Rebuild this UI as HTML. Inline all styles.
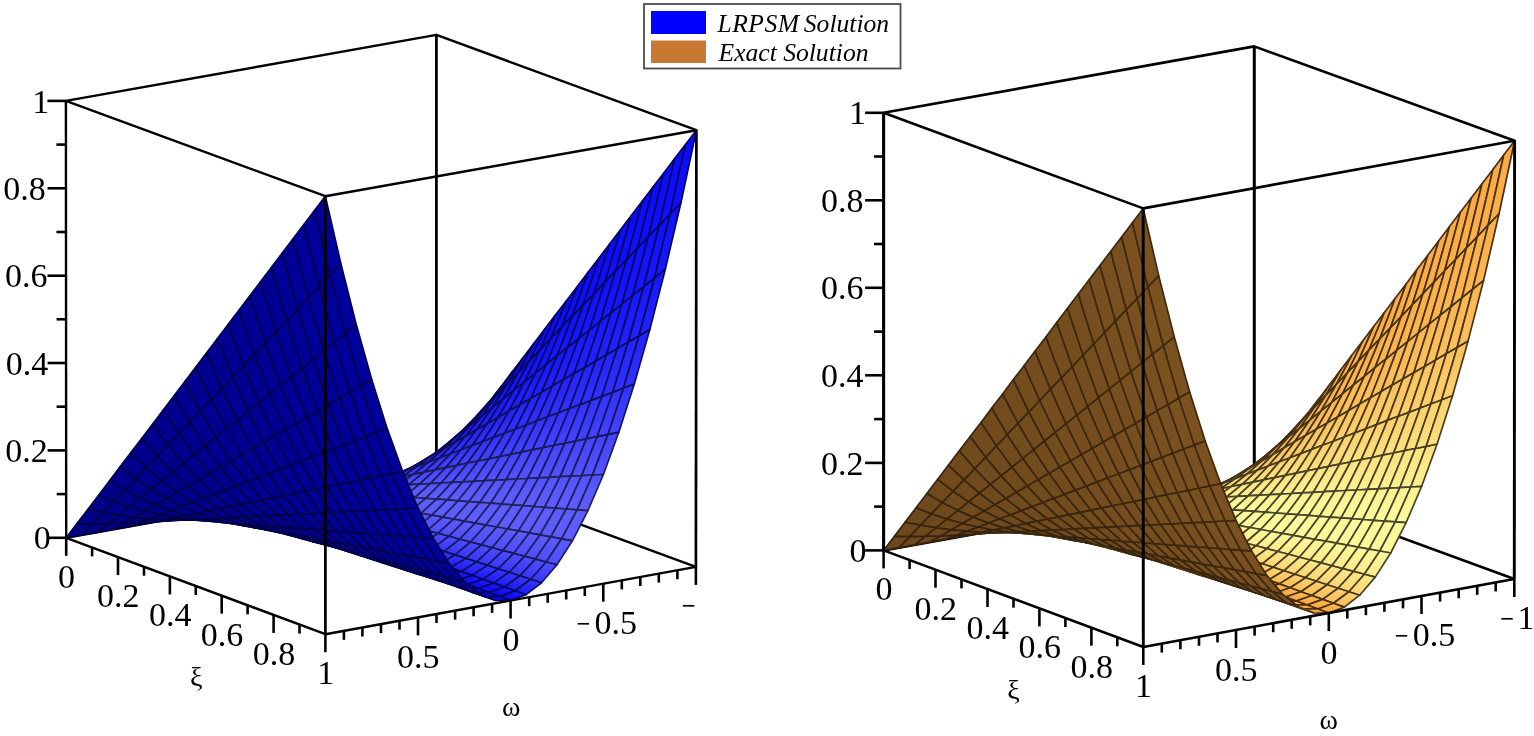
<!DOCTYPE html>
<html><head><meta charset="utf-8"><title>LRPSM vs Exact</title>
<style>
html,body{margin:0;padding:0;background:#fff}
svg{display:block;filter:blur(0.4px)}
.tk text{font-family:"Liberation Serif",serif;font-size:34px;fill:#000}
.ax{font-family:"Liberation Serif",serif;font-size:28px;fill:#000}
.lg{font-family:"Liberation Serif",serif;font-style:italic;font-size:25.6px;fill:#000}
</style></head><body>
<svg width="1534" height="736" viewBox="0 0 1534 736">
<defs><clipPath id="clipL"><rect x="0" y="0" width="696" height="736"/></clipPath></defs>
<rect width="1534" height="736" fill="#fff"/>
<g id="left">
<g stroke="#000" stroke-linecap="butt" fill="none">
<line x1="66.2" y1="537.8" x2="436.4" y2="471.5" stroke-width="2.4"/>
<line x1="436.4" y1="471.5" x2="695.9" y2="566.9" stroke-width="2.4"/>
<line x1="436.4" y1="471.5" x2="436.4" y2="34.9" stroke-width="2.8"/>
</g>
<g stroke-width="1.7" stroke-linejoin="round">
<defs><linearGradient id="a0" gradientUnits="userSpaceOnUse" x1="349.3" y1="487.8" x2="349.2" y2="491.4"><stop stop-color="#5353ff"/><stop offset="1" stop-color="#5e5eff"/></linearGradient><linearGradient id="a1" gradientUnits="userSpaceOnUse" x1="318.4" y1="494.6" x2="317.0" y2="500.9"><stop stop-color="#5c5cff"/><stop offset="1" stop-color="#4d4dff"/></linearGradient><linearGradient id="a2" gradientUnits="userSpaceOnUse" x1="303.0" y1="497.8" x2="300.9" y2="504.8"><stop stop-color="#4d4dff"/><stop offset="1" stop-color="#3636ff"/></linearGradient><linearGradient id="a3" gradientUnits="userSpaceOnUse" x1="287.6" y1="500.9" x2="285.1" y2="508.2"><stop stop-color="#3636ff"/><stop offset="1" stop-color="#1b1bff"/></linearGradient><linearGradient id="a4" gradientUnits="userSpaceOnUse" x1="272.1" y1="503.8" x2="269.4" y2="511.3"><stop stop-color="#1b1bff"/><stop offset="1" stop-color="#0606ff"/></linearGradient><linearGradient id="a5" gradientUnits="userSpaceOnUse" x1="375.5" y1="482.0" x2="375.9" y2="485.2"><stop stop-color="#4343ff"/><stop offset="1" stop-color="#5353ff"/></linearGradient><linearGradient id="a6" gradientUnits="userSpaceOnUse" x1="360.1" y1="487.2" x2="360.0" y2="492.3"><stop stop-color="#5353ff"/><stop offset="1" stop-color="#5e5eff"/></linearGradient><linearGradient id="a7" gradientUnits="userSpaceOnUse" x1="329.2" y1="496.6" x2="327.6" y2="503.7"><stop stop-color="#5c5cff"/><stop offset="1" stop-color="#4d4dff"/></linearGradient><linearGradient id="a8" gradientUnits="userSpaceOnUse" x1="313.8" y1="500.6" x2="311.6" y2="508.2"><stop stop-color="#4d4dff"/><stop offset="1" stop-color="#3636ff"/></linearGradient><linearGradient id="a9" gradientUnits="userSpaceOnUse" x1="298.4" y1="504.4" x2="295.7" y2="512.0"><stop stop-color="#3636ff"/><stop offset="1" stop-color="#1b1bff"/></linearGradient><linearGradient id="a10" gradientUnits="userSpaceOnUse" x1="282.9" y1="507.7" x2="280.2" y2="515.3"><stop stop-color="#1b1bff"/><stop offset="1" stop-color="#0606ff"/></linearGradient><linearGradient id="a11" gradientUnits="userSpaceOnUse" x1="401.7" y1="472.3" x2="402.5" y2="475.1"><stop stop-color="#3131ff"/><stop offset="1" stop-color="#4343ff"/></linearGradient><linearGradient id="a12" gradientUnits="userSpaceOnUse" x1="386.3" y1="479.8" x2="386.9" y2="484.6"><stop stop-color="#4343ff"/><stop offset="1" stop-color="#5353ff"/></linearGradient><linearGradient id="a13" gradientUnits="userSpaceOnUse" x1="370.9" y1="486.7" x2="370.8" y2="493.1"><stop stop-color="#5353ff"/><stop offset="1" stop-color="#5e5eff"/></linearGradient><linearGradient id="a14" gradientUnits="userSpaceOnUse" x1="340.0" y1="498.5" x2="338.2" y2="506.5"><stop stop-color="#5c5cff"/><stop offset="1" stop-color="#4d4dff"/></linearGradient><linearGradient id="a15" gradientUnits="userSpaceOnUse" x1="324.6" y1="503.5" x2="322.2" y2="511.7"><stop stop-color="#4d4dff"/><stop offset="1" stop-color="#3636ff"/></linearGradient><linearGradient id="a16" gradientUnits="userSpaceOnUse" x1="309.2" y1="507.8" x2="306.4" y2="515.9"><stop stop-color="#3636ff"/><stop offset="1" stop-color="#1b1bff"/></linearGradient><linearGradient id="a17" gradientUnits="userSpaceOnUse" x1="293.7" y1="511.6" x2="290.9" y2="519.2"><stop stop-color="#1b1bff"/><stop offset="1" stop-color="#0606ff"/></linearGradient><linearGradient id="a18" gradientUnits="userSpaceOnUse" x1="428.0" y1="457.9" x2="429.1" y2="460.3"><stop stop-color="#2222ff"/><stop offset="1" stop-color="#3131ff"/></linearGradient><linearGradient id="a19" gradientUnits="userSpaceOnUse" x1="412.5" y1="468.2" x2="413.9" y2="472.7"><stop stop-color="#3131ff"/><stop offset="1" stop-color="#4343ff"/></linearGradient><linearGradient id="a20" gradientUnits="userSpaceOnUse" x1="397.1" y1="477.6" x2="397.9" y2="484.0"><stop stop-color="#4343ff"/><stop offset="1" stop-color="#5353ff"/></linearGradient><linearGradient id="a21" gradientUnits="userSpaceOnUse" x1="381.7" y1="486.1" x2="381.6" y2="493.9"><stop stop-color="#5353ff"/><stop offset="1" stop-color="#5e5eff"/></linearGradient><linearGradient id="a22" gradientUnits="userSpaceOnUse" x1="350.8" y1="500.5" x2="348.9" y2="509.3"><stop stop-color="#5c5cff"/><stop offset="1" stop-color="#4d4dff"/></linearGradient><linearGradient id="a23" gradientUnits="userSpaceOnUse" x1="335.4" y1="506.3" x2="332.8" y2="515.1"><stop stop-color="#4d4dff"/><stop offset="1" stop-color="#3636ff"/></linearGradient><linearGradient id="a24" gradientUnits="userSpaceOnUse" x1="320.0" y1="511.3" x2="317.1" y2="519.7"><stop stop-color="#3636ff"/><stop offset="1" stop-color="#1b1bff"/></linearGradient><linearGradient id="a25" gradientUnits="userSpaceOnUse" x1="304.5" y1="515.4" x2="301.7" y2="523.2"><stop stop-color="#1b1bff"/><stop offset="1" stop-color="#0606ff"/></linearGradient><linearGradient id="a26" gradientUnits="userSpaceOnUse" x1="454.2" y1="438.1" x2="455.6" y2="440.1"><stop stop-color="#1717ff"/><stop offset="1" stop-color="#2222ff"/></linearGradient><linearGradient id="a27" gradientUnits="userSpaceOnUse" x1="438.8" y1="451.6" x2="440.7" y2="455.7"><stop stop-color="#2222ff"/><stop offset="1" stop-color="#3131ff"/></linearGradient><linearGradient id="a28" gradientUnits="userSpaceOnUse" x1="423.3" y1="464.1" x2="425.2" y2="470.3"><stop stop-color="#3131ff"/><stop offset="1" stop-color="#4343ff"/></linearGradient><linearGradient id="a29" gradientUnits="userSpaceOnUse" x1="407.9" y1="475.4" x2="409.0" y2="483.4"><stop stop-color="#4343ff"/><stop offset="1" stop-color="#5353ff"/></linearGradient><linearGradient id="a30" gradientUnits="userSpaceOnUse" x1="392.5" y1="485.5" x2="392.4" y2="494.7"><stop stop-color="#5353ff"/><stop offset="1" stop-color="#5e5eff"/></linearGradient><linearGradient id="a31" gradientUnits="userSpaceOnUse" x1="361.6" y1="502.5" x2="359.5" y2="512.2"><stop stop-color="#5c5cff"/><stop offset="1" stop-color="#4d4dff"/></linearGradient><linearGradient id="a32" gradientUnits="userSpaceOnUse" x1="346.2" y1="509.2" x2="343.5" y2="518.5"><stop stop-color="#4d4dff"/><stop offset="1" stop-color="#3636ff"/></linearGradient><linearGradient id="a33" gradientUnits="userSpaceOnUse" x1="330.8" y1="514.8" x2="327.8" y2="523.5"><stop stop-color="#3636ff"/><stop offset="1" stop-color="#1b1bff"/></linearGradient><linearGradient id="a34" gradientUnits="userSpaceOnUse" x1="315.4" y1="519.3" x2="312.5" y2="527.2"><stop stop-color="#1b1bff"/><stop offset="1" stop-color="#0606ff"/></linearGradient><linearGradient id="a35" gradientUnits="userSpaceOnUse" x1="480.5" y1="412.1" x2="482.0" y2="413.7"><stop stop-color="#1010ff"/><stop offset="1" stop-color="#1717ff"/></linearGradient><linearGradient id="a36" gradientUnits="userSpaceOnUse" x1="465.0" y1="429.4" x2="467.5" y2="433.0"><stop stop-color="#1717ff"/><stop offset="1" stop-color="#2222ff"/></linearGradient><linearGradient id="a37" gradientUnits="userSpaceOnUse" x1="449.6" y1="445.4" x2="452.4" y2="451.2"><stop stop-color="#2222ff"/><stop offset="1" stop-color="#3131ff"/></linearGradient><linearGradient id="a38" gradientUnits="userSpaceOnUse" x1="434.2" y1="460.0" x2="436.5" y2="468.0"><stop stop-color="#3131ff"/><stop offset="1" stop-color="#4343ff"/></linearGradient><linearGradient id="a39" gradientUnits="userSpaceOnUse" x1="418.7" y1="473.2" x2="420.0" y2="482.8"><stop stop-color="#4343ff"/><stop offset="1" stop-color="#5353ff"/></linearGradient><linearGradient id="a40" gradientUnits="userSpaceOnUse" x1="403.3" y1="485.0" x2="403.2" y2="495.6"><stop stop-color="#5353ff"/><stop offset="1" stop-color="#5e5eff"/></linearGradient><linearGradient id="a41" gradientUnits="userSpaceOnUse" x1="372.4" y1="504.4" x2="370.1" y2="515.0"><stop stop-color="#5c5cff"/><stop offset="1" stop-color="#4d4dff"/></linearGradient><linearGradient id="a42" gradientUnits="userSpaceOnUse" x1="357.0" y1="512.1" x2="354.1" y2="522.0"><stop stop-color="#4d4dff"/><stop offset="1" stop-color="#3636ff"/></linearGradient><linearGradient id="a43" gradientUnits="userSpaceOnUse" x1="341.6" y1="518.3" x2="338.5" y2="527.4"><stop stop-color="#3636ff"/><stop offset="1" stop-color="#1b1bff"/></linearGradient><linearGradient id="a44" gradientUnits="userSpaceOnUse" x1="326.2" y1="523.2" x2="323.2" y2="531.2"><stop stop-color="#1b1bff"/><stop offset="1" stop-color="#0606ff"/></linearGradient><linearGradient id="a45" gradientUnits="userSpaceOnUse" x1="506.7" y1="379.1" x2="508.4" y2="380.5"><stop stop-color="#0a0aff"/><stop offset="1" stop-color="#1010ff"/></linearGradient><linearGradient id="a46" gradientUnits="userSpaceOnUse" x1="491.3" y1="400.7" x2="494.2" y2="403.9"><stop stop-color="#1010ff"/><stop offset="1" stop-color="#1717ff"/></linearGradient><linearGradient id="a47" gradientUnits="userSpaceOnUse" x1="475.8" y1="420.8" x2="479.5" y2="426.0"><stop stop-color="#1717ff"/><stop offset="1" stop-color="#2222ff"/></linearGradient><linearGradient id="a48" gradientUnits="userSpaceOnUse" x1="460.4" y1="439.1" x2="464.0" y2="446.7"><stop stop-color="#2222ff"/><stop offset="1" stop-color="#3131ff"/></linearGradient><linearGradient id="a49" gradientUnits="userSpaceOnUse" x1="445.0" y1="455.9" x2="447.8" y2="465.6"><stop stop-color="#3131ff"/><stop offset="1" stop-color="#4343ff"/></linearGradient><linearGradient id="a50" gradientUnits="userSpaceOnUse" x1="429.5" y1="471.0" x2="431.0" y2="482.2"><stop stop-color="#4343ff"/><stop offset="1" stop-color="#5353ff"/></linearGradient><linearGradient id="a51" gradientUnits="userSpaceOnUse" x1="414.1" y1="484.4" x2="414.0" y2="496.4"><stop stop-color="#5353ff"/><stop offset="1" stop-color="#5e5eff"/></linearGradient><linearGradient id="a52" gradientUnits="userSpaceOnUse" x1="383.3" y1="506.4" x2="380.7" y2="517.8"><stop stop-color="#5c5cff"/><stop offset="1" stop-color="#4d4dff"/></linearGradient><linearGradient id="a53" gradientUnits="userSpaceOnUse" x1="367.8" y1="514.9" x2="364.7" y2="525.4"><stop stop-color="#4d4dff"/><stop offset="1" stop-color="#3636ff"/></linearGradient><linearGradient id="a54" gradientUnits="userSpaceOnUse" x1="352.4" y1="521.8" x2="349.2" y2="531.2"><stop stop-color="#3636ff"/><stop offset="1" stop-color="#1b1bff"/></linearGradient><linearGradient id="a55" gradientUnits="userSpaceOnUse" x1="337.0" y1="527.0" x2="334.0" y2="535.2"><stop stop-color="#1b1bff"/><stop offset="1" stop-color="#0606ff"/></linearGradient><linearGradient id="a56" gradientUnits="userSpaceOnUse" x1="517.5" y1="364.9" x2="520.7" y2="367.5"><stop stop-color="#0a0aff"/><stop offset="1" stop-color="#1010ff"/></linearGradient><linearGradient id="a57" gradientUnits="userSpaceOnUse" x1="502.1" y1="389.4" x2="506.3" y2="394.0"><stop stop-color="#1010ff"/><stop offset="1" stop-color="#1717ff"/></linearGradient><linearGradient id="a58" gradientUnits="userSpaceOnUse" x1="486.7" y1="412.1" x2="491.4" y2="419.0"><stop stop-color="#1717ff"/><stop offset="1" stop-color="#2222ff"/></linearGradient><linearGradient id="a59" gradientUnits="userSpaceOnUse" x1="471.2" y1="432.9" x2="475.7" y2="442.2"><stop stop-color="#2222ff"/><stop offset="1" stop-color="#3131ff"/></linearGradient><linearGradient id="a60" gradientUnits="userSpaceOnUse" x1="455.8" y1="451.8" x2="459.1" y2="463.3"><stop stop-color="#3131ff"/><stop offset="1" stop-color="#4343ff"/></linearGradient><linearGradient id="a61" gradientUnits="userSpaceOnUse" x1="440.4" y1="468.7" x2="442.0" y2="481.6"><stop stop-color="#4343ff"/><stop offset="1" stop-color="#5353ff"/></linearGradient><linearGradient id="a62" gradientUnits="userSpaceOnUse" x1="424.9" y1="483.8" x2="424.8" y2="497.2"><stop stop-color="#5353ff"/><stop offset="1" stop-color="#5e5eff"/></linearGradient><linearGradient id="a63" gradientUnits="userSpaceOnUse" x1="394.1" y1="508.3" x2="391.3" y2="520.6"><stop stop-color="#5c5cff"/><stop offset="1" stop-color="#4d4dff"/></linearGradient><linearGradient id="a64" gradientUnits="userSpaceOnUse" x1="378.6" y1="517.8" x2="375.4" y2="528.8"><stop stop-color="#4d4dff"/><stop offset="1" stop-color="#3636ff"/></linearGradient><linearGradient id="a65" gradientUnits="userSpaceOnUse" x1="363.2" y1="525.3" x2="359.9" y2="535.0"><stop stop-color="#3636ff"/><stop offset="1" stop-color="#1b1bff"/></linearGradient><linearGradient id="a66" gradientUnits="userSpaceOnUse" x1="347.8" y1="530.9" x2="344.8" y2="539.1"><stop stop-color="#1b1bff"/><stop offset="1" stop-color="#0606ff"/></linearGradient><linearGradient id="a67" gradientUnits="userSpaceOnUse" x1="528.4" y1="350.6" x2="532.9" y2="354.5"><stop stop-color="#0a0aff"/><stop offset="1" stop-color="#1010ff"/></linearGradient><linearGradient id="a68" gradientUnits="userSpaceOnUse" x1="512.9" y1="378.1" x2="518.4" y2="384.1"><stop stop-color="#1010ff"/><stop offset="1" stop-color="#1717ff"/></linearGradient><linearGradient id="a69" gradientUnits="userSpaceOnUse" x1="497.5" y1="403.4" x2="503.3" y2="411.9"><stop stop-color="#1717ff"/><stop offset="1" stop-color="#2222ff"/></linearGradient><linearGradient id="a70" gradientUnits="userSpaceOnUse" x1="482.0" y1="426.6" x2="487.4" y2="437.7"><stop stop-color="#2222ff"/><stop offset="1" stop-color="#3131ff"/></linearGradient><linearGradient id="a71" gradientUnits="userSpaceOnUse" x1="466.6" y1="447.6" x2="470.5" y2="460.9"><stop stop-color="#3131ff"/><stop offset="1" stop-color="#4343ff"/></linearGradient><linearGradient id="a72" gradientUnits="userSpaceOnUse" x1="451.2" y1="466.5" x2="453.0" y2="481.1"><stop stop-color="#4343ff"/><stop offset="1" stop-color="#5353ff"/></linearGradient><linearGradient id="a73" gradientUnits="userSpaceOnUse" x1="435.7" y1="483.3" x2="435.6" y2="498.1"><stop stop-color="#5353ff"/><stop offset="1" stop-color="#5e5eff"/></linearGradient><linearGradient id="a74" gradientUnits="userSpaceOnUse" x1="404.9" y1="510.3" x2="402.0" y2="523.4"><stop stop-color="#5c5cff"/><stop offset="1" stop-color="#4d4dff"/></linearGradient><linearGradient id="a75" gradientUnits="userSpaceOnUse" x1="389.4" y1="520.6" x2="386.0" y2="532.3"><stop stop-color="#4d4dff"/><stop offset="1" stop-color="#3636ff"/></linearGradient><linearGradient id="a76" gradientUnits="userSpaceOnUse" x1="374.0" y1="528.8" x2="370.6" y2="538.8"><stop stop-color="#3636ff"/><stop offset="1" stop-color="#1b1bff"/></linearGradient><linearGradient id="a77" gradientUnits="userSpaceOnUse" x1="358.6" y1="534.8" x2="355.5" y2="543.1"><stop stop-color="#1b1bff"/><stop offset="1" stop-color="#0606ff"/></linearGradient><linearGradient id="a78" gradientUnits="userSpaceOnUse" x1="539.2" y1="336.4" x2="545.2" y2="341.5"><stop stop-color="#0a0aff"/><stop offset="1" stop-color="#1010ff"/></linearGradient><linearGradient id="a79" gradientUnits="userSpaceOnUse" x1="523.7" y1="366.8" x2="530.6" y2="374.2"><stop stop-color="#1010ff"/><stop offset="1" stop-color="#1717ff"/></linearGradient><linearGradient id="a80" gradientUnits="userSpaceOnUse" x1="508.3" y1="394.8" x2="515.3" y2="404.9"><stop stop-color="#1717ff"/><stop offset="1" stop-color="#2222ff"/></linearGradient><linearGradient id="a81" gradientUnits="userSpaceOnUse" x1="492.9" y1="420.4" x2="499.0" y2="433.2"><stop stop-color="#2222ff"/><stop offset="1" stop-color="#3131ff"/></linearGradient><linearGradient id="a82" gradientUnits="userSpaceOnUse" x1="477.4" y1="443.5" x2="481.8" y2="458.5"><stop stop-color="#3131ff"/><stop offset="1" stop-color="#4343ff"/></linearGradient><linearGradient id="a83" gradientUnits="userSpaceOnUse" x1="462.0" y1="464.3" x2="464.1" y2="480.5"><stop stop-color="#4343ff"/><stop offset="1" stop-color="#5353ff"/></linearGradient><linearGradient id="a84" gradientUnits="userSpaceOnUse" x1="446.5" y1="482.7" x2="446.4" y2="498.9"><stop stop-color="#5353ff"/><stop offset="1" stop-color="#5e5eff"/></linearGradient><linearGradient id="a85" gradientUnits="userSpaceOnUse" x1="415.7" y1="512.3" x2="412.6" y2="526.2"><stop stop-color="#5c5cff"/><stop offset="1" stop-color="#4d4dff"/></linearGradient><linearGradient id="a86" gradientUnits="userSpaceOnUse" x1="400.3" y1="523.5" x2="396.7" y2="535.7"><stop stop-color="#4d4dff"/><stop offset="1" stop-color="#3636ff"/></linearGradient><linearGradient id="a87" gradientUnits="userSpaceOnUse" x1="384.8" y1="532.2" x2="381.3" y2="542.7"><stop stop-color="#3636ff"/><stop offset="1" stop-color="#1b1bff"/></linearGradient><linearGradient id="a88" gradientUnits="userSpaceOnUse" x1="369.4" y1="538.6" x2="366.3" y2="547.1"><stop stop-color="#1b1bff"/><stop offset="1" stop-color="#0606ff"/></linearGradient><linearGradient id="a89" gradientUnits="userSpaceOnUse" x1="550.0" y1="322.2" x2="557.5" y2="328.5"><stop stop-color="#0a0aff"/><stop offset="1" stop-color="#1010ff"/></linearGradient><linearGradient id="a90" gradientUnits="userSpaceOnUse" x1="534.6" y1="355.5" x2="542.7" y2="364.3"><stop stop-color="#1010ff"/><stop offset="1" stop-color="#1717ff"/></linearGradient><linearGradient id="a91" gradientUnits="userSpaceOnUse" x1="519.1" y1="386.1" x2="527.2" y2="397.9"><stop stop-color="#1717ff"/><stop offset="1" stop-color="#2222ff"/></linearGradient><linearGradient id="a92" gradientUnits="userSpaceOnUse" x1="503.7" y1="414.1" x2="510.7" y2="428.7"><stop stop-color="#2222ff"/><stop offset="1" stop-color="#3131ff"/></linearGradient><linearGradient id="a93" gradientUnits="userSpaceOnUse" x1="488.2" y1="439.4" x2="493.1" y2="456.2"><stop stop-color="#3131ff"/><stop offset="1" stop-color="#4343ff"/></linearGradient><linearGradient id="a94" gradientUnits="userSpaceOnUse" x1="472.8" y1="462.1" x2="475.1" y2="479.9"><stop stop-color="#4343ff"/><stop offset="1" stop-color="#5353ff"/></linearGradient><linearGradient id="a95" gradientUnits="userSpaceOnUse" x1="457.4" y1="482.1" x2="457.2" y2="499.7"><stop stop-color="#5353ff"/><stop offset="1" stop-color="#5e5eff"/></linearGradient><linearGradient id="a96" gradientUnits="userSpaceOnUse" x1="426.5" y1="514.2" x2="423.2" y2="529.0"><stop stop-color="#5c5cff"/><stop offset="1" stop-color="#4d4dff"/></linearGradient><linearGradient id="a97" gradientUnits="userSpaceOnUse" x1="411.1" y1="526.3" x2="407.3" y2="539.2"><stop stop-color="#4d4dff"/><stop offset="1" stop-color="#3636ff"/></linearGradient><linearGradient id="a98" gradientUnits="userSpaceOnUse" x1="395.6" y1="535.7" x2="392.0" y2="546.5"><stop stop-color="#3636ff"/><stop offset="1" stop-color="#1b1bff"/></linearGradient><linearGradient id="a99" gradientUnits="userSpaceOnUse" x1="380.2" y1="542.5" x2="377.1" y2="551.1"><stop stop-color="#1b1bff"/><stop offset="1" stop-color="#0606ff"/></linearGradient><linearGradient id="a100" gradientUnits="userSpaceOnUse" x1="560.9" y1="308.0" x2="569.7" y2="315.5"><stop stop-color="#0a0aff"/><stop offset="1" stop-color="#1010ff"/></linearGradient><linearGradient id="a101" gradientUnits="userSpaceOnUse" x1="545.4" y1="344.2" x2="554.9" y2="354.5"><stop stop-color="#1010ff"/><stop offset="1" stop-color="#1717ff"/></linearGradient><linearGradient id="a102" gradientUnits="userSpaceOnUse" x1="529.9" y1="377.5" x2="539.2" y2="390.8"><stop stop-color="#1717ff"/><stop offset="1" stop-color="#2222ff"/></linearGradient><linearGradient id="a103" gradientUnits="userSpaceOnUse" x1="514.5" y1="407.8" x2="522.3" y2="424.2"><stop stop-color="#2222ff"/><stop offset="1" stop-color="#3131ff"/></linearGradient><linearGradient id="a104" gradientUnits="userSpaceOnUse" x1="499.1" y1="435.3" x2="504.5" y2="453.8"><stop stop-color="#3131ff"/><stop offset="1" stop-color="#4343ff"/></linearGradient><linearGradient id="a105" gradientUnits="userSpaceOnUse" x1="483.6" y1="459.9" x2="486.1" y2="479.3"><stop stop-color="#4343ff"/><stop offset="1" stop-color="#5353ff"/></linearGradient><linearGradient id="a106" gradientUnits="userSpaceOnUse" x1="468.2" y1="481.6" x2="467.9" y2="500.5"><stop stop-color="#5353ff"/><stop offset="1" stop-color="#5e5eff"/></linearGradient><linearGradient id="a107" gradientUnits="userSpaceOnUse" x1="437.3" y1="516.2" x2="433.8" y2="531.8"><stop stop-color="#5c5cff"/><stop offset="1" stop-color="#4d4dff"/></linearGradient><linearGradient id="a108" gradientUnits="userSpaceOnUse" x1="421.9" y1="529.2" x2="417.9" y2="542.6"><stop stop-color="#4d4dff"/><stop offset="1" stop-color="#3636ff"/></linearGradient><linearGradient id="a109" gradientUnits="userSpaceOnUse" x1="406.4" y1="539.2" x2="402.7" y2="550.3"><stop stop-color="#3636ff"/><stop offset="1" stop-color="#1b1bff"/></linearGradient><linearGradient id="a110" gradientUnits="userSpaceOnUse" x1="391.0" y1="546.4" x2="387.8" y2="555.1"><stop stop-color="#1b1bff"/><stop offset="1" stop-color="#0606ff"/></linearGradient><linearGradient id="a111" gradientUnits="userSpaceOnUse" x1="571.7" y1="293.8" x2="582.0" y2="302.5"><stop stop-color="#0a0aff"/><stop offset="1" stop-color="#1010ff"/></linearGradient><linearGradient id="a112" gradientUnits="userSpaceOnUse" x1="556.2" y1="332.9" x2="567.0" y2="344.6"><stop stop-color="#1010ff"/><stop offset="1" stop-color="#1717ff"/></linearGradient><linearGradient id="a113" gradientUnits="userSpaceOnUse" x1="540.8" y1="368.8" x2="551.1" y2="383.8"><stop stop-color="#1717ff"/><stop offset="1" stop-color="#2222ff"/></linearGradient><linearGradient id="a114" gradientUnits="userSpaceOnUse" x1="525.3" y1="401.6" x2="534.0" y2="419.7"><stop stop-color="#2222ff"/><stop offset="1" stop-color="#3131ff"/></linearGradient><linearGradient id="a115" gradientUnits="userSpaceOnUse" x1="509.9" y1="431.2" x2="515.8" y2="451.5"><stop stop-color="#3131ff"/><stop offset="1" stop-color="#4343ff"/></linearGradient><linearGradient id="a116" gradientUnits="userSpaceOnUse" x1="494.4" y1="457.7" x2="497.1" y2="478.7"><stop stop-color="#4343ff"/><stop offset="1" stop-color="#5353ff"/></linearGradient><linearGradient id="a117" gradientUnits="userSpaceOnUse" x1="479.0" y1="481.0" x2="478.7" y2="501.4"><stop stop-color="#5353ff"/><stop offset="1" stop-color="#5e5eff"/></linearGradient><linearGradient id="a118" gradientUnits="userSpaceOnUse" x1="448.1" y1="518.2" x2="444.4" y2="534.6"><stop stop-color="#5c5cff"/><stop offset="1" stop-color="#4d4dff"/></linearGradient><linearGradient id="a119" gradientUnits="userSpaceOnUse" x1="432.7" y1="532.0" x2="428.6" y2="546.0"><stop stop-color="#4d4dff"/><stop offset="1" stop-color="#3636ff"/></linearGradient><linearGradient id="a120" gradientUnits="userSpaceOnUse" x1="417.2" y1="542.7" x2="413.3" y2="554.2"><stop stop-color="#3636ff"/><stop offset="1" stop-color="#1b1bff"/></linearGradient><linearGradient id="a121" gradientUnits="userSpaceOnUse" x1="401.8" y1="550.2" x2="398.6" y2="559.0"><stop stop-color="#1b1bff"/><stop offset="1" stop-color="#0606ff"/></linearGradient><linearGradient id="a122" gradientUnits="userSpaceOnUse" x1="582.5" y1="279.5" x2="594.3" y2="289.5"><stop stop-color="#0a0aff"/><stop offset="1" stop-color="#1010ff"/></linearGradient><linearGradient id="a123" gradientUnits="userSpaceOnUse" x1="567.1" y1="321.5" x2="579.2" y2="334.7"><stop stop-color="#1010ff"/><stop offset="1" stop-color="#1717ff"/></linearGradient><linearGradient id="a124" gradientUnits="userSpaceOnUse" x1="551.6" y1="360.1" x2="563.1" y2="376.8"><stop stop-color="#1717ff"/><stop offset="1" stop-color="#2222ff"/></linearGradient><linearGradient id="a125" gradientUnits="userSpaceOnUse" x1="536.1" y1="395.3" x2="545.6" y2="415.2"><stop stop-color="#2222ff"/><stop offset="1" stop-color="#3131ff"/></linearGradient><linearGradient id="a126" gradientUnits="userSpaceOnUse" x1="520.7" y1="427.1" x2="527.1" y2="449.1"><stop stop-color="#3131ff"/><stop offset="1" stop-color="#4343ff"/></linearGradient><linearGradient id="a127" gradientUnits="userSpaceOnUse" x1="505.2" y1="455.5" x2="508.1" y2="478.1"><stop stop-color="#4343ff"/><stop offset="1" stop-color="#5353ff"/></linearGradient><linearGradient id="a128" gradientUnits="userSpaceOnUse" x1="489.8" y1="480.4" x2="489.5" y2="502.2"><stop stop-color="#5353ff"/><stop offset="1" stop-color="#5e5eff"/></linearGradient><linearGradient id="a129" gradientUnits="userSpaceOnUse" x1="458.9" y1="520.1" x2="455.1" y2="537.5"><stop stop-color="#5c5cff"/><stop offset="1" stop-color="#4d4dff"/></linearGradient><linearGradient id="a130" gradientUnits="userSpaceOnUse" x1="443.5" y1="534.9" x2="439.2" y2="549.5"><stop stop-color="#4d4dff"/><stop offset="1" stop-color="#3636ff"/></linearGradient><linearGradient id="a131" gradientUnits="userSpaceOnUse" x1="428.0" y1="546.2" x2="424.0" y2="558.0"><stop stop-color="#3636ff"/><stop offset="1" stop-color="#1b1bff"/></linearGradient><linearGradient id="a132" gradientUnits="userSpaceOnUse" x1="412.6" y1="554.1" x2="409.4" y2="563.0"><stop stop-color="#1b1bff"/><stop offset="1" stop-color="#0606ff"/></linearGradient><linearGradient id="a133" gradientUnits="userSpaceOnUse" x1="593.4" y1="265.3" x2="606.5" y2="276.5"><stop stop-color="#0a0aff"/><stop offset="1" stop-color="#1010ff"/></linearGradient><linearGradient id="a134" gradientUnits="userSpaceOnUse" x1="577.9" y1="310.2" x2="591.3" y2="324.8"><stop stop-color="#1010ff"/><stop offset="1" stop-color="#1717ff"/></linearGradient><linearGradient id="a135" gradientUnits="userSpaceOnUse" x1="562.4" y1="351.5" x2="575.0" y2="369.7"><stop stop-color="#1717ff"/><stop offset="1" stop-color="#2222ff"/></linearGradient><linearGradient id="a136" gradientUnits="userSpaceOnUse" x1="547.0" y1="389.1" x2="557.3" y2="410.6"><stop stop-color="#2222ff"/><stop offset="1" stop-color="#3131ff"/></linearGradient><linearGradient id="a137" gradientUnits="userSpaceOnUse" x1="531.5" y1="423.0" x2="538.4" y2="446.7"><stop stop-color="#3131ff"/><stop offset="1" stop-color="#4343ff"/></linearGradient><linearGradient id="a138" gradientUnits="userSpaceOnUse" x1="516.1" y1="453.3" x2="519.2" y2="477.5"><stop stop-color="#4343ff"/><stop offset="1" stop-color="#5353ff"/></linearGradient><linearGradient id="a139" gradientUnits="userSpaceOnUse" x1="500.6" y1="479.9" x2="500.3" y2="503.0"><stop stop-color="#5353ff"/><stop offset="1" stop-color="#5e5eff"/></linearGradient><linearGradient id="a140" gradientUnits="userSpaceOnUse" x1="469.7" y1="522.1" x2="465.7" y2="540.3"><stop stop-color="#5c5cff"/><stop offset="1" stop-color="#4d4dff"/></linearGradient><linearGradient id="a141" gradientUnits="userSpaceOnUse" x1="454.3" y1="537.7" x2="449.8" y2="552.9"><stop stop-color="#4d4dff"/><stop offset="1" stop-color="#3636ff"/></linearGradient><linearGradient id="a142" gradientUnits="userSpaceOnUse" x1="438.9" y1="549.7" x2="434.7" y2="561.8"><stop stop-color="#3636ff"/><stop offset="1" stop-color="#1b1bff"/></linearGradient><linearGradient id="a143" gradientUnits="userSpaceOnUse" x1="423.4" y1="558.0" x2="420.1" y2="567.0"><stop stop-color="#1b1bff"/><stop offset="1" stop-color="#0606ff"/></linearGradient><linearGradient id="a144" gradientUnits="userSpaceOnUse" x1="604.2" y1="251.1" x2="618.8" y2="263.5"><stop stop-color="#0a0aff"/><stop offset="1" stop-color="#1010ff"/></linearGradient><linearGradient id="a145" gradientUnits="userSpaceOnUse" x1="588.7" y1="298.9" x2="603.5" y2="314.9"><stop stop-color="#1010ff"/><stop offset="1" stop-color="#1717ff"/></linearGradient><linearGradient id="a146" gradientUnits="userSpaceOnUse" x1="573.3" y1="342.8" x2="587.0" y2="362.7"><stop stop-color="#1717ff"/><stop offset="1" stop-color="#2222ff"/></linearGradient><linearGradient id="a147" gradientUnits="userSpaceOnUse" x1="557.8" y1="382.8" x2="569.0" y2="406.1"><stop stop-color="#2222ff"/><stop offset="1" stop-color="#3131ff"/></linearGradient><linearGradient id="a148" gradientUnits="userSpaceOnUse" x1="542.3" y1="418.9" x2="549.8" y2="444.4"><stop stop-color="#3131ff"/><stop offset="1" stop-color="#4343ff"/></linearGradient><linearGradient id="a149" gradientUnits="userSpaceOnUse" x1="526.9" y1="451.1" x2="530.2" y2="476.9"><stop stop-color="#4343ff"/><stop offset="1" stop-color="#5353ff"/></linearGradient><linearGradient id="a150" gradientUnits="userSpaceOnUse" x1="511.4" y1="479.3" x2="511.1" y2="503.8"><stop stop-color="#5353ff"/><stop offset="1" stop-color="#5e5eff"/></linearGradient><linearGradient id="a151" gradientUnits="userSpaceOnUse" x1="480.5" y1="524.1" x2="476.3" y2="543.1"><stop stop-color="#5c5cff"/><stop offset="1" stop-color="#4d4dff"/></linearGradient><linearGradient id="a152" gradientUnits="userSpaceOnUse" x1="465.1" y1="540.6" x2="460.5" y2="556.3"><stop stop-color="#4d4dff"/><stop offset="1" stop-color="#3636ff"/></linearGradient><linearGradient id="a153" gradientUnits="userSpaceOnUse" x1="449.7" y1="553.2" x2="445.4" y2="565.6"><stop stop-color="#3636ff"/><stop offset="1" stop-color="#1b1bff"/></linearGradient><linearGradient id="a154" gradientUnits="userSpaceOnUse" x1="434.2" y1="561.8" x2="430.9" y2="571.0"><stop stop-color="#1b1bff"/><stop offset="1" stop-color="#0606ff"/></linearGradient><linearGradient id="a155" gradientUnits="userSpaceOnUse" x1="615.0" y1="236.9" x2="631.1" y2="250.5"><stop stop-color="#0a0aff"/><stop offset="1" stop-color="#1010ff"/></linearGradient><linearGradient id="a156" gradientUnits="userSpaceOnUse" x1="599.6" y1="287.6" x2="615.6" y2="305.0"><stop stop-color="#1010ff"/><stop offset="1" stop-color="#1717ff"/></linearGradient><linearGradient id="a157" gradientUnits="userSpaceOnUse" x1="584.1" y1="334.2" x2="598.9" y2="355.7"><stop stop-color="#1717ff"/><stop offset="1" stop-color="#2222ff"/></linearGradient><linearGradient id="a158" gradientUnits="userSpaceOnUse" x1="568.6" y1="376.5" x2="580.6" y2="401.6"><stop stop-color="#2222ff"/><stop offset="1" stop-color="#3131ff"/></linearGradient><linearGradient id="a159" gradientUnits="userSpaceOnUse" x1="553.2" y1="414.8" x2="561.1" y2="442.0"><stop stop-color="#3131ff"/><stop offset="1" stop-color="#4343ff"/></linearGradient><linearGradient id="a160" gradientUnits="userSpaceOnUse" x1="537.7" y1="448.8" x2="541.2" y2="476.3"><stop stop-color="#4343ff"/><stop offset="1" stop-color="#5353ff"/></linearGradient><linearGradient id="a161" gradientUnits="userSpaceOnUse" x1="522.2" y1="478.7" x2="521.9" y2="504.7"><stop stop-color="#5353ff"/><stop offset="1" stop-color="#5e5eff"/></linearGradient><linearGradient id="a162" gradientUnits="userSpaceOnUse" x1="491.4" y1="526.0" x2="486.9" y2="545.9"><stop stop-color="#5c5cff"/><stop offset="1" stop-color="#4d4dff"/></linearGradient><linearGradient id="a163" gradientUnits="userSpaceOnUse" x1="475.9" y1="543.4" x2="471.1" y2="559.8"><stop stop-color="#4d4dff"/><stop offset="1" stop-color="#3636ff"/></linearGradient><linearGradient id="a164" gradientUnits="userSpaceOnUse" x1="460.5" y1="556.7" x2="456.1" y2="569.5"><stop stop-color="#3636ff"/><stop offset="1" stop-color="#1b1bff"/></linearGradient><linearGradient id="a165" gradientUnits="userSpaceOnUse" x1="445.0" y1="565.7" x2="441.7" y2="575.0"><stop stop-color="#1b1bff"/><stop offset="1" stop-color="#0606ff"/></linearGradient><linearGradient id="a166" gradientUnits="userSpaceOnUse" x1="625.9" y1="222.7" x2="643.3" y2="237.5"><stop stop-color="#0a0aff"/><stop offset="1" stop-color="#1010ff"/></linearGradient><linearGradient id="a167" gradientUnits="userSpaceOnUse" x1="610.4" y1="276.3" x2="627.8" y2="295.2"><stop stop-color="#1010ff"/><stop offset="1" stop-color="#1717ff"/></linearGradient><linearGradient id="a168" gradientUnits="userSpaceOnUse" x1="594.9" y1="325.5" x2="610.9" y2="348.6"><stop stop-color="#1717ff"/><stop offset="1" stop-color="#2222ff"/></linearGradient><linearGradient id="a169" gradientUnits="userSpaceOnUse" x1="579.4" y1="370.3" x2="592.3" y2="397.1"><stop stop-color="#2222ff"/><stop offset="1" stop-color="#3131ff"/></linearGradient><linearGradient id="a170" gradientUnits="userSpaceOnUse" x1="564.0" y1="410.7" x2="572.4" y2="439.6"><stop stop-color="#3131ff"/><stop offset="1" stop-color="#4343ff"/></linearGradient><linearGradient id="a171" gradientUnits="userSpaceOnUse" x1="548.5" y1="446.6" x2="552.3" y2="475.7"><stop stop-color="#4343ff"/><stop offset="1" stop-color="#5353ff"/></linearGradient><linearGradient id="a172" gradientUnits="userSpaceOnUse" x1="533.1" y1="478.2" x2="532.7" y2="505.5"><stop stop-color="#5353ff"/><stop offset="1" stop-color="#5e5eff"/></linearGradient><linearGradient id="a173" gradientUnits="userSpaceOnUse" x1="502.2" y1="528.0" x2="497.6" y2="548.7"><stop stop-color="#5c5cff"/><stop offset="1" stop-color="#4d4dff"/></linearGradient><linearGradient id="a174" gradientUnits="userSpaceOnUse" x1="486.7" y1="546.3" x2="481.8" y2="563.2"><stop stop-color="#4d4dff"/><stop offset="1" stop-color="#3636ff"/></linearGradient><linearGradient id="a175" gradientUnits="userSpaceOnUse" x1="471.3" y1="560.1" x2="466.8" y2="573.3"><stop stop-color="#3636ff"/><stop offset="1" stop-color="#1b1bff"/></linearGradient><linearGradient id="a176" gradientUnits="userSpaceOnUse" x1="455.8" y1="569.6" x2="452.4" y2="579.0"><stop stop-color="#1b1bff"/><stop offset="1" stop-color="#0606ff"/></linearGradient><linearGradient id="a177" gradientUnits="userSpaceOnUse" x1="636.7" y1="208.4" x2="655.6" y2="224.5"><stop stop-color="#0a0aff"/><stop offset="1" stop-color="#1010ff"/></linearGradient><linearGradient id="a178" gradientUnits="userSpaceOnUse" x1="621.2" y1="265.0" x2="640.0" y2="285.3"><stop stop-color="#1010ff"/><stop offset="1" stop-color="#1717ff"/></linearGradient><linearGradient id="a179" gradientUnits="userSpaceOnUse" x1="605.7" y1="316.8" x2="622.8" y2="341.6"><stop stop-color="#1717ff"/><stop offset="1" stop-color="#2222ff"/></linearGradient><linearGradient id="a180" gradientUnits="userSpaceOnUse" x1="590.3" y1="364.0" x2="604.0" y2="392.6"><stop stop-color="#2222ff"/><stop offset="1" stop-color="#3131ff"/></linearGradient><linearGradient id="a181" gradientUnits="userSpaceOnUse" x1="574.8" y1="406.6" x2="583.8" y2="437.3"><stop stop-color="#3131ff"/><stop offset="1" stop-color="#4343ff"/></linearGradient><linearGradient id="a182" gradientUnits="userSpaceOnUse" x1="559.3" y1="444.4" x2="563.3" y2="475.1"><stop stop-color="#4343ff"/><stop offset="1" stop-color="#5353ff"/></linearGradient><linearGradient id="a183" gradientUnits="userSpaceOnUse" x1="543.9" y1="477.6" x2="543.5" y2="506.3"><stop stop-color="#5353ff"/><stop offset="1" stop-color="#5e5eff"/></linearGradient><linearGradient id="a184" gradientUnits="userSpaceOnUse" x1="513.0" y1="530.0" x2="508.2" y2="551.5"><stop stop-color="#5c5cff"/><stop offset="1" stop-color="#4d4dff"/></linearGradient><linearGradient id="a185" gradientUnits="userSpaceOnUse" x1="497.5" y1="549.1" x2="492.4" y2="566.6"><stop stop-color="#4d4dff"/><stop offset="1" stop-color="#3636ff"/></linearGradient><linearGradient id="a186" gradientUnits="userSpaceOnUse" x1="482.1" y1="563.6" x2="477.5" y2="577.1"><stop stop-color="#3636ff"/><stop offset="1" stop-color="#1b1bff"/></linearGradient><linearGradient id="a187" gradientUnits="userSpaceOnUse" x1="466.7" y1="573.4" x2="463.2" y2="582.9"><stop stop-color="#1b1bff"/><stop offset="1" stop-color="#0606ff"/></linearGradient><linearGradient id="a188" gradientUnits="userSpaceOnUse" x1="647.6" y1="194.2" x2="667.9" y2="211.5"><stop stop-color="#0a0aff"/><stop offset="1" stop-color="#1010ff"/></linearGradient><linearGradient id="a189" gradientUnits="userSpaceOnUse" x1="632.1" y1="253.6" x2="652.1" y2="275.4"><stop stop-color="#1010ff"/><stop offset="1" stop-color="#1717ff"/></linearGradient><linearGradient id="a190" gradientUnits="userSpaceOnUse" x1="616.6" y1="308.2" x2="634.8" y2="334.6"><stop stop-color="#1717ff"/><stop offset="1" stop-color="#2222ff"/></linearGradient><linearGradient id="a191" gradientUnits="userSpaceOnUse" x1="601.1" y1="357.8" x2="615.6" y2="388.1"><stop stop-color="#2222ff"/><stop offset="1" stop-color="#3131ff"/></linearGradient><linearGradient id="a192" gradientUnits="userSpaceOnUse" x1="585.6" y1="402.4" x2="595.1" y2="434.9"><stop stop-color="#3131ff"/><stop offset="1" stop-color="#4343ff"/></linearGradient><linearGradient id="a193" gradientUnits="userSpaceOnUse" x1="570.1" y1="442.2" x2="574.3" y2="474.5"><stop stop-color="#4343ff"/><stop offset="1" stop-color="#5353ff"/></linearGradient><linearGradient id="a194" gradientUnits="userSpaceOnUse" x1="554.7" y1="477.0" x2="554.3" y2="507.1"><stop stop-color="#5353ff"/><stop offset="1" stop-color="#5e5eff"/></linearGradient><linearGradient id="a195" gradientUnits="userSpaceOnUse" x1="523.8" y1="531.9" x2="518.8" y2="554.3"><stop stop-color="#5c5cff"/><stop offset="1" stop-color="#4d4dff"/></linearGradient><linearGradient id="a196" gradientUnits="userSpaceOnUse" x1="508.3" y1="552.0" x2="503.0" y2="570.1"><stop stop-color="#4d4dff"/><stop offset="1" stop-color="#3636ff"/></linearGradient><linearGradient id="a197" gradientUnits="userSpaceOnUse" x1="492.9" y1="567.1" x2="488.2" y2="581.0"><stop stop-color="#3636ff"/><stop offset="1" stop-color="#1b1bff"/></linearGradient><linearGradient id="a198" gradientUnits="userSpaceOnUse" x1="477.5" y1="577.3" x2="474.0" y2="586.9"><stop stop-color="#1b1bff"/><stop offset="1" stop-color="#0606ff"/></linearGradient><linearGradient id="a199" gradientUnits="userSpaceOnUse" x1="658.4" y1="180.0" x2="680.2" y2="198.5"><stop stop-color="#0a0aff"/><stop offset="1" stop-color="#1010ff"/></linearGradient><linearGradient id="a200" gradientUnits="userSpaceOnUse" x1="642.9" y1="242.3" x2="664.3" y2="265.5"><stop stop-color="#1010ff"/><stop offset="1" stop-color="#1717ff"/></linearGradient><linearGradient id="a201" gradientUnits="userSpaceOnUse" x1="627.4" y1="299.5" x2="646.7" y2="327.5"><stop stop-color="#1717ff"/><stop offset="1" stop-color="#2222ff"/></linearGradient><linearGradient id="a202" gradientUnits="userSpaceOnUse" x1="611.9" y1="351.5" x2="627.3" y2="383.6"><stop stop-color="#2222ff"/><stop offset="1" stop-color="#3131ff"/></linearGradient><linearGradient id="a203" gradientUnits="userSpaceOnUse" x1="596.4" y1="398.3" x2="606.4" y2="432.5"><stop stop-color="#3131ff"/><stop offset="1" stop-color="#4343ff"/></linearGradient><linearGradient id="a204" gradientUnits="userSpaceOnUse" x1="581.0" y1="440.0" x2="585.3" y2="473.9"><stop stop-color="#4343ff"/><stop offset="1" stop-color="#5353ff"/></linearGradient><linearGradient id="a205" gradientUnits="userSpaceOnUse" x1="565.5" y1="476.5" x2="565.1" y2="507.9"><stop stop-color="#5353ff"/><stop offset="1" stop-color="#5e5eff"/></linearGradient><linearGradient id="a206" gradientUnits="userSpaceOnUse" x1="534.6" y1="533.9" x2="529.4" y2="557.1"><stop stop-color="#5c5cff"/><stop offset="1" stop-color="#4d4dff"/></linearGradient><linearGradient id="a207" gradientUnits="userSpaceOnUse" x1="519.1" y1="554.8" x2="513.7" y2="573.5"><stop stop-color="#4d4dff"/><stop offset="1" stop-color="#3636ff"/></linearGradient><linearGradient id="a208" gradientUnits="userSpaceOnUse" x1="503.7" y1="570.6" x2="498.9" y2="584.8"><stop stop-color="#3636ff"/><stop offset="1" stop-color="#1b1bff"/></linearGradient><linearGradient id="a209" gradientUnits="userSpaceOnUse" x1="488.3" y1="581.2" x2="484.7" y2="590.9"><stop stop-color="#1b1bff"/><stop offset="1" stop-color="#0606ff"/></linearGradient><linearGradient id="a210" gradientUnits="userSpaceOnUse" x1="669.3" y1="165.8" x2="692.4" y2="185.4"><stop stop-color="#0a0aff"/><stop offset="1" stop-color="#1010ff"/></linearGradient><linearGradient id="a211" gradientUnits="userSpaceOnUse" x1="653.8" y1="231.0" x2="676.4" y2="255.6"><stop stop-color="#1010ff"/><stop offset="1" stop-color="#1717ff"/></linearGradient><linearGradient id="a212" gradientUnits="userSpaceOnUse" x1="638.2" y1="290.8" x2="658.7" y2="320.5"><stop stop-color="#1717ff"/><stop offset="1" stop-color="#2222ff"/></linearGradient><linearGradient id="a213" gradientUnits="userSpaceOnUse" x1="622.8" y1="345.2" x2="638.9" y2="379.0"><stop stop-color="#2222ff"/><stop offset="1" stop-color="#3131ff"/></linearGradient><linearGradient id="a214" gradientUnits="userSpaceOnUse" x1="607.3" y1="394.2" x2="617.8" y2="430.2"><stop stop-color="#3131ff"/><stop offset="1" stop-color="#4343ff"/></linearGradient><linearGradient id="a215" gradientUnits="userSpaceOnUse" x1="591.8" y1="437.8" x2="596.4" y2="473.3"><stop stop-color="#4343ff"/><stop offset="1" stop-color="#5353ff"/></linearGradient><linearGradient id="a216" gradientUnits="userSpaceOnUse" x1="576.3" y1="475.9" x2="575.9" y2="508.8"><stop stop-color="#5353ff"/><stop offset="1" stop-color="#5e5eff"/></linearGradient><linearGradient id="a217" gradientUnits="userSpaceOnUse" x1="545.4" y1="535.9" x2="540.0" y2="559.9"><stop stop-color="#5c5cff"/><stop offset="1" stop-color="#4d4dff"/></linearGradient><linearGradient id="a218" gradientUnits="userSpaceOnUse" x1="530.0" y1="557.7" x2="524.3" y2="577.0"><stop stop-color="#4d4dff"/><stop offset="1" stop-color="#3636ff"/></linearGradient><linearGradient id="a219" gradientUnits="userSpaceOnUse" x1="514.5" y1="574.1" x2="509.6" y2="588.6"><stop stop-color="#3636ff"/><stop offset="1" stop-color="#1b1bff"/></linearGradient><linearGradient id="a220" gradientUnits="userSpaceOnUse" x1="499.1" y1="585.0" x2="495.5" y2="594.9"><stop stop-color="#1b1bff"/><stop offset="1" stop-color="#0606ff"/></linearGradient><linearGradient id="a221" gradientUnits="userSpaceOnUse" x1="680.1" y1="151.5" x2="704.7" y2="172.4"><stop stop-color="#0a0aff"/><stop offset="1" stop-color="#1010ff"/></linearGradient><linearGradient id="a222" gradientUnits="userSpaceOnUse" x1="664.6" y1="219.7" x2="688.6" y2="245.7"><stop stop-color="#1010ff"/><stop offset="1" stop-color="#1717ff"/></linearGradient><linearGradient id="a223" gradientUnits="userSpaceOnUse" x1="649.1" y1="282.2" x2="670.6" y2="313.4"><stop stop-color="#1717ff"/><stop offset="1" stop-color="#2222ff"/></linearGradient><linearGradient id="a224" gradientUnits="userSpaceOnUse" x1="633.6" y1="339.0" x2="650.6" y2="374.5"><stop stop-color="#2222ff"/><stop offset="1" stop-color="#3131ff"/></linearGradient><linearGradient id="a225" gradientUnits="userSpaceOnUse" x1="618.1" y1="390.1" x2="629.1" y2="427.8"><stop stop-color="#3131ff"/><stop offset="1" stop-color="#4343ff"/></linearGradient><linearGradient id="a226" gradientUnits="userSpaceOnUse" x1="602.6" y1="435.6" x2="607.4" y2="472.7"><stop stop-color="#4343ff"/><stop offset="1" stop-color="#5353ff"/></linearGradient><linearGradient id="a227" gradientUnits="userSpaceOnUse" x1="587.1" y1="475.3" x2="586.7" y2="509.6"><stop stop-color="#5353ff"/><stop offset="1" stop-color="#5e5eff"/></linearGradient><linearGradient id="a228" gradientUnits="userSpaceOnUse" x1="556.2" y1="537.8" x2="550.7" y2="562.7"><stop stop-color="#5c5cff"/><stop offset="1" stop-color="#4d4dff"/></linearGradient><linearGradient id="a229" gradientUnits="userSpaceOnUse" x1="540.8" y1="560.5" x2="534.9" y2="580.4"><stop stop-color="#4d4dff"/><stop offset="1" stop-color="#3636ff"/></linearGradient><linearGradient id="a230" gradientUnits="userSpaceOnUse" x1="525.3" y1="577.6" x2="520.3" y2="592.4"><stop stop-color="#3636ff"/><stop offset="1" stop-color="#1b1bff"/></linearGradient><linearGradient id="a231" gradientUnits="userSpaceOnUse" x1="509.9" y1="588.9" x2="506.3" y2="598.9"><stop stop-color="#1b1bff"/><stop offset="1" stop-color="#0606ff"/></linearGradient><linearGradient id="a232" gradientUnits="userSpaceOnUse" x1="691.0" y1="137.3" x2="717.0" y2="159.4"><stop stop-color="#0a0aff"/><stop offset="1" stop-color="#1010ff"/></linearGradient><linearGradient id="a233" gradientUnits="userSpaceOnUse" x1="675.4" y1="208.4" x2="700.8" y2="235.8"><stop stop-color="#1010ff"/><stop offset="1" stop-color="#1717ff"/></linearGradient><linearGradient id="a234" gradientUnits="userSpaceOnUse" x1="659.9" y1="273.5" x2="682.6" y2="306.4"><stop stop-color="#1717ff"/><stop offset="1" stop-color="#2222ff"/></linearGradient><linearGradient id="a235" gradientUnits="userSpaceOnUse" x1="644.4" y1="332.7" x2="662.3" y2="370.0"><stop stop-color="#2222ff"/><stop offset="1" stop-color="#3131ff"/></linearGradient><linearGradient id="a236" gradientUnits="userSpaceOnUse" x1="628.9" y1="386.0" x2="640.4" y2="425.4"><stop stop-color="#3131ff"/><stop offset="1" stop-color="#4343ff"/></linearGradient><linearGradient id="a237" gradientUnits="userSpaceOnUse" x1="613.4" y1="433.3" x2="618.4" y2="472.1"><stop stop-color="#4343ff"/><stop offset="1" stop-color="#5353ff"/></linearGradient><linearGradient id="a238" gradientUnits="userSpaceOnUse" x1="598.0" y1="474.8" x2="597.5" y2="510.4"><stop stop-color="#5353ff"/><stop offset="1" stop-color="#5e5eff"/></linearGradient><linearGradient id="a239" gradientUnits="userSpaceOnUse" x1="567.0" y1="539.8" x2="561.3" y2="565.6"><stop stop-color="#5c5cff"/><stop offset="1" stop-color="#4d4dff"/></linearGradient><linearGradient id="a240" gradientUnits="userSpaceOnUse" x1="551.6" y1="563.4" x2="545.6" y2="583.8"><stop stop-color="#4d4dff"/><stop offset="1" stop-color="#3636ff"/></linearGradient><linearGradient id="a241" gradientUnits="userSpaceOnUse" x1="536.1" y1="581.1" x2="531.0" y2="596.3"><stop stop-color="#3636ff"/><stop offset="1" stop-color="#1b1bff"/></linearGradient><linearGradient id="a242" gradientUnits="userSpaceOnUse" x1="520.7" y1="592.8" x2="517.0" y2="602.8"><stop stop-color="#1b1bff"/><stop offset="1" stop-color="#0606ff"/></linearGradient></defs>
<path d="M436.4 471.5L447.2 457.3L431.8 463.0L421.0 474.3Z" fill="#000086" stroke="#000043"/>
<path d="M421.0 474.3L431.8 463.0L416.4 468.4L405.6 477.0Z" fill="#000086" stroke="#000043"/>
<path d="M447.2 457.3L458.0 443.1L442.6 451.6L431.8 463.0Z" fill="#000087" stroke="#000044"/>
<path d="M405.6 477.0L416.4 468.4L400.9 473.5L390.1 479.8Z" fill="#000086" stroke="#000043"/>
<path d="M431.8 463.0L442.6 451.6L427.2 459.7L416.4 468.4Z" fill="#000087" stroke="#000044"/>
<path d="M390.1 479.8L400.9 473.5L385.5 478.4L374.7 482.6Z" fill="#000086" stroke="#000043"/>
<path d="M416.4 468.4L427.2 459.7L411.7 467.3L400.9 473.5Z" fill="#000087" stroke="#000044"/>
<path d="M458.0 443.1L468.8 428.8L453.4 440.3L442.6 451.6Z" fill="#000088" stroke="#000044"/>
<path d="M374.7 482.6L385.5 478.4L370.1 483.1L359.3 485.3Z" fill="#0d0d9e" stroke="#07074f"/>
<path d="M442.6 451.6L453.4 440.3L438.0 451.1L427.2 459.7Z" fill="#000088" stroke="#000044"/>
<path d="M400.9 473.5L411.7 467.3L396.3 474.3L385.5 478.4Z" fill="#0a0a9f" stroke="#050550"/>
<path d="M359.3 485.3L370.1 483.1L354.7 487.5L343.8 488.1Z" fill="#3e3ee7" stroke="#161653"/>
<path d="M427.2 459.7L438.0 451.1L422.6 461.0L411.7 467.3Z" fill="#0707a0" stroke="#030350"/>
<path d="M385.5 478.4L396.3 474.3L380.9 480.9L370.1 483.1Z" fill="#3030e7" stroke="#111153"/>
<path d="M468.8 428.8L479.7 414.6L464.2 429.0L453.4 440.3Z" fill="#000089" stroke="#000045"/>
<path d="M343.8 488.1L354.7 487.5L339.2 491.7L328.4 490.8Z" fill="url(#a0)" stroke="#20205c"/>
<path d="M411.7 467.3L422.6 461.0L407.1 470.2L396.3 474.3Z" fill="#2323e7" stroke="#0c0c53"/>
<path d="M453.4 440.3L464.2 429.0L448.8 442.4L438.0 451.1Z" fill="#0505a1" stroke="#020250"/>
<path d="M370.1 483.1L380.9 480.9L365.5 486.9L354.7 487.5Z" fill="url(#a5)" stroke="#1b1b5c"/>
<path d="M328.4 490.8L339.2 491.7L323.8 495.6L313.0 493.6Z" fill="#5d5dff" stroke="#22225c"/>
<path d="M396.3 474.3L407.1 470.2L391.7 478.7L380.9 480.9Z" fill="url(#a11)" stroke="#15155c"/>
<path d="M438.0 451.1L448.8 442.4L433.4 454.8L422.6 461.0Z" fill="#1818e7" stroke="#080853"/>
<path d="M354.7 487.5L365.5 486.9L350.0 492.5L339.2 491.7Z" fill="url(#a6)" stroke="#20205c"/>
<path d="M479.7 414.6L490.5 400.4L475.1 417.7L464.2 429.0Z" fill="#0303a1" stroke="#020251"/>
<path d="M313.0 493.6L323.8 495.6L308.4 499.2L297.6 496.4Z" fill="url(#a1)" stroke="#1f1f5c"/>
<path d="M422.6 461.0L433.4 454.8L417.9 466.1L407.1 470.2Z" fill="url(#a18)" stroke="#0f0f5c"/>
<path d="M380.9 480.9L391.7 478.7L376.3 486.4L365.5 486.9Z" fill="url(#a12)" stroke="#1b1b5c"/>
<path d="M464.2 429.0L475.1 417.7L459.6 433.7L448.8 442.4Z" fill="#1010e8" stroke="#060653"/>
<path d="M339.2 491.7L350.0 492.5L334.6 497.5L323.8 495.6Z" fill="#5d5dff" stroke="#22225c"/>
<path d="M407.1 470.2L417.9 466.1L402.5 476.5L391.7 478.7Z" fill="url(#a19)" stroke="#15155c"/>
<path d="M297.6 496.4L308.4 499.2L293.0 502.6L282.1 499.1Z" fill="url(#a2)" stroke="#18185c"/>
<path d="M448.8 442.4L459.6 433.7L444.2 448.5L433.4 454.8Z" fill="url(#a26)" stroke="#0a0a5c"/>
<path d="M365.5 486.9L376.3 486.4L360.9 493.3L350.0 492.5Z" fill="url(#a13)" stroke="#20205c"/>
<path d="M323.8 495.6L334.6 497.5L319.2 502.1L308.4 499.2Z" fill="url(#a7)" stroke="#1f1f5c"/>
<path d="M490.5 400.4L501.3 386.2L485.9 406.4L475.1 417.7Z" fill="#0b0be8" stroke="#040453"/>
<path d="M391.7 478.7L402.5 476.5L387.1 485.8L376.3 486.4Z" fill="url(#a20)" stroke="#1b1b5c"/>
<path d="M433.4 454.8L444.2 448.5L428.8 462.0L417.9 466.1Z" fill="url(#a27)" stroke="#0f0f5c"/>
<path d="M282.1 499.1L293.0 502.6L277.5 505.8L266.7 501.9Z" fill="url(#a3)" stroke="#0f0f5c"/>
<path d="M350.0 492.5L360.9 493.3L345.4 499.5L334.6 497.5Z" fill="#5d5dff" stroke="#22225c"/>
<path d="M475.1 417.7L485.9 406.4L470.4 425.1L459.6 433.7Z" fill="url(#a35)" stroke="#07075c"/>
<path d="M308.4 499.2L319.2 502.1L303.8 506.1L293.0 502.6Z" fill="url(#a8)" stroke="#18185c"/>
<path d="M417.9 466.1L428.8 462.0L413.3 474.3L402.5 476.5Z" fill="url(#a28)" stroke="#15155c"/>
<path d="M376.3 486.4L387.1 485.8L371.7 494.1L360.9 493.3Z" fill="url(#a21)" stroke="#20205c"/>
<path d="M459.6 433.7L470.4 425.1L455.0 442.3L444.2 448.5Z" fill="url(#a36)" stroke="#0a0a5c"/>
<path d="M334.6 497.5L345.4 499.5L330.0 504.9L319.2 502.1Z" fill="url(#a14)" stroke="#1f1f5c"/>
<path d="M266.7 501.9L277.5 505.8L262.1 508.6L251.3 504.6Z" fill="url(#a4)" stroke="#06065c"/>
<path d="M402.5 476.5L413.3 474.3L397.9 485.3L387.1 485.8Z" fill="url(#a29)" stroke="#1b1b5c"/>
<path d="M501.3 386.2L512.1 372.0L496.7 395.1L485.9 406.4Z" fill="url(#a45)" stroke="#05055c"/>
<path d="M293.0 502.6L303.8 506.1L288.3 509.6L277.5 505.8Z" fill="url(#a9)" stroke="#0f0f5c"/>
<path d="M444.2 448.5L455.0 442.3L439.6 457.9L428.8 462.0Z" fill="url(#a37)" stroke="#0f0f5c"/>
<path d="M360.9 493.3L371.7 494.1L356.2 501.5L345.4 499.5Z" fill="#5d5dff" stroke="#22225c"/>
<path d="M319.2 502.1L330.0 504.9L314.6 509.6L303.8 506.1Z" fill="url(#a15)" stroke="#18185c"/>
<path d="M485.9 406.4L496.7 395.1L481.3 416.4L470.4 425.1Z" fill="url(#a46)" stroke="#07075c"/>
<path d="M251.3 504.6L262.1 508.6L246.7 511.3L235.9 507.4Z" fill="#0606ff" stroke="#02025c"/>
<path d="M428.8 462.0L439.6 457.9L424.1 472.1L413.3 474.3Z" fill="url(#a38)" stroke="#15155c"/>
<path d="M387.1 485.8L397.9 485.3L382.5 495.0L371.7 494.1Z" fill="url(#a30)" stroke="#20205c"/>
<path d="M277.5 505.8L288.3 509.6L272.9 512.6L262.1 508.6Z" fill="url(#a10)" stroke="#06065c"/>
<path d="M345.4 499.5L356.2 501.5L340.8 507.8L330.0 504.9Z" fill="url(#a22)" stroke="#1f1f5c"/>
<path d="M470.4 425.1L481.3 416.4L465.8 436.0L455.0 442.3Z" fill="url(#a47)" stroke="#0a0a5c"/>
<path d="M303.8 506.1L314.6 509.6L299.1 513.5L288.3 509.6Z" fill="url(#a16)" stroke="#0f0f5c"/>
<path d="M413.3 474.3L424.1 472.1L408.7 484.7L397.9 485.3Z" fill="url(#a39)" stroke="#1b1b5c"/>
<path d="M235.9 507.4L246.7 511.3L231.3 513.7L220.4 510.2Z" fill="#0606ff" stroke="#02025c"/>
<path d="M371.7 494.1L382.5 495.0L367.0 503.4L356.2 501.5Z" fill="#5d5dff" stroke="#22225c"/>
<path d="M455.0 442.3L465.8 436.0L450.4 453.8L439.6 457.9Z" fill="url(#a48)" stroke="#0f0f5c"/>
<path d="M512.1 372.0L523.0 357.8L507.5 383.8L496.7 395.1Z" fill="url(#a56)" stroke="#05055c"/>
<path d="M330.0 504.9L340.8 507.8L325.4 513.1L314.6 509.6Z" fill="url(#a23)" stroke="#18185c"/>
<path d="M262.1 508.6L272.9 512.6L257.5 515.2L246.7 511.3Z" fill="#0606ff" stroke="#02025c"/>
<path d="M397.9 485.3L408.7 484.7L393.3 495.8L382.5 495.0Z" fill="url(#a40)" stroke="#20205c"/>
<path d="M496.7 395.1L507.5 383.8L492.1 407.8L481.3 416.4Z" fill="url(#a57)" stroke="#07075c"/>
<path d="M439.6 457.9L450.4 453.8L435.0 469.9L424.1 472.1Z" fill="url(#a49)" stroke="#15155c"/>
<path d="M288.3 509.6L299.1 513.5L283.7 516.6L272.9 512.6Z" fill="url(#a17)" stroke="#06065c"/>
<path d="M356.2 501.5L367.0 503.4L351.6 510.6L340.8 507.8Z" fill="url(#a31)" stroke="#1f1f5c"/>
<path d="M220.4 510.2L231.3 513.7L215.8 515.8L205.0 512.9Z" fill="#0606ff" stroke="#02025c"/>
<path d="M481.3 416.4L492.1 407.8L476.6 429.7L465.8 436.0Z" fill="url(#a58)" stroke="#0a0a5c"/>
<path d="M314.6 509.6L325.4 513.1L310.0 517.4L299.1 513.5Z" fill="url(#a24)" stroke="#0f0f5c"/>
<path d="M246.7 511.3L257.5 515.2L242.1 517.2L231.3 513.7Z" fill="#0606ff" stroke="#02025c"/>
<path d="M424.1 472.1L435.0 469.9L419.5 484.1L408.7 484.7Z" fill="url(#a50)" stroke="#1b1b5c"/>
<path d="M382.5 495.0L393.3 495.8L377.9 505.4L367.0 503.4Z" fill="#5d5dff" stroke="#22225c"/>
<path d="M465.8 436.0L476.6 429.7L461.2 449.7L450.4 453.8Z" fill="url(#a59)" stroke="#0f0f5c"/>
<path d="M340.8 507.8L351.6 510.6L336.2 516.6L325.4 513.1Z" fill="url(#a32)" stroke="#18185c"/>
<path d="M272.9 512.6L283.7 516.6L268.3 519.0L257.5 515.2Z" fill="#0606ff" stroke="#02025c"/>
<path d="M205.0 512.9L215.8 515.8L200.4 517.7L189.6 515.7Z" fill="#0606ff" stroke="#02025c"/>
<path d="M523.0 357.8L533.8 343.5L518.3 372.5L507.5 383.8Z" fill="url(#a67)" stroke="#05055c"/>
<path d="M408.7 484.7L419.5 484.1L404.1 496.6L393.3 495.8Z" fill="url(#a51)" stroke="#20205c"/>
<path d="M299.1 513.5L310.0 517.4L294.5 520.6L283.7 516.6Z" fill="url(#a25)" stroke="#06065c"/>
<path d="M367.0 503.4L377.9 505.4L362.4 513.5L351.6 510.6Z" fill="url(#a41)" stroke="#1f1f5c"/>
<path d="M450.4 453.8L461.2 449.7L445.8 467.6L435.0 469.9Z" fill="url(#a60)" stroke="#15155c"/>
<path d="M231.3 513.7L242.1 517.2L226.6 518.7L215.8 515.8Z" fill="#0606ff" stroke="#02025c"/>
<path d="M507.5 383.8L518.3 372.5L502.9 399.1L492.1 407.8Z" fill="url(#a68)" stroke="#07075c"/>
<path d="M325.4 513.1L336.2 516.6L320.8 521.2L310.0 517.4Z" fill="url(#a33)" stroke="#0f0f5c"/>
<path d="M257.5 515.2L268.3 519.0L252.9 520.7L242.1 517.2Z" fill="#0606ff" stroke="#02025c"/>
<path d="M492.1 407.8L502.9 399.1L487.5 423.5L476.6 429.7Z" fill="url(#a69)" stroke="#0a0a5c"/>
<path d="M393.3 495.8L404.1 496.6L388.7 507.4L377.9 505.4Z" fill="#5d5dff" stroke="#22225c"/>
<path d="M189.6 515.7L200.4 517.7L185.0 519.3L174.2 518.5Z" fill="#0606ff" stroke="#02025c"/>
<path d="M435.0 469.9L445.8 467.6L430.3 483.6L419.5 484.1Z" fill="url(#a61)" stroke="#1b1b5c"/>
<path d="M351.6 510.6L362.4 513.5L347.0 520.0L336.2 516.6Z" fill="url(#a42)" stroke="#18185c"/>
<path d="M283.7 516.6L294.5 520.6L279.1 522.9L268.3 519.0Z" fill="#0606ff" stroke="#02025c"/>
<path d="M476.6 429.7L487.5 423.5L472.0 445.6L461.2 449.7Z" fill="url(#a70)" stroke="#0f0f5c"/>
<path d="M215.8 515.8L226.6 518.7L211.2 519.7L200.4 517.7Z" fill="#0606ff" stroke="#02025c"/>
<path d="M310.0 517.4L320.8 521.2L305.3 524.6L294.5 520.6Z" fill="url(#a34)" stroke="#06065c"/>
<path d="M419.5 484.1L430.3 483.6L414.9 497.5L404.1 496.6Z" fill="url(#a62)" stroke="#20205c"/>
<path d="M377.9 505.4L388.7 507.4L373.2 516.3L362.4 513.5Z" fill="url(#a52)" stroke="#1f1f5c"/>
<path d="M242.1 517.2L252.9 520.7L237.4 521.5L226.6 518.7Z" fill="#0606ff" stroke="#02025c"/>
<path d="M533.8 343.5L544.6 329.3L529.2 361.1L518.3 372.5Z" fill="url(#a78)" stroke="#05055c"/>
<path d="M461.2 449.7L472.0 445.6L456.6 465.4L445.8 467.6Z" fill="url(#a71)" stroke="#15155c"/>
<path d="M174.2 518.5L185.0 519.3L169.6 520.7L158.8 521.2Z" fill="#0606ff" stroke="#02025c"/>
<path d="M336.2 516.6L347.0 520.0L331.6 525.1L320.8 521.2Z" fill="url(#a43)" stroke="#0f0f5c"/>
<path d="M518.3 372.5L529.2 361.1L513.7 390.4L502.9 399.1Z" fill="url(#a79)" stroke="#07075c"/>
<path d="M268.3 519.0L279.1 522.9L263.7 524.1L252.9 520.7Z" fill="#0606ff" stroke="#02025c"/>
<path d="M404.1 496.6L414.9 497.5L399.5 509.3L388.7 507.4Z" fill="#5d5dff" stroke="#22225c"/>
<path d="M200.4 517.7L211.2 519.7L195.8 520.2L185.0 519.3Z" fill="#0606ff" stroke="#02025c"/>
<path d="M445.8 467.6L456.6 465.4L441.1 483.0L430.3 483.6Z" fill="url(#a72)" stroke="#1b1b5c"/>
<path d="M502.9 399.1L513.7 390.4L498.3 417.2L487.5 423.5Z" fill="url(#a80)" stroke="#0a0a5c"/>
<path d="M362.4 513.5L373.2 516.3L357.8 523.5L347.0 520.0Z" fill="url(#a53)" stroke="#18185c"/>
<path d="M294.5 520.6L305.3 524.6L289.9 526.8L279.1 522.9Z" fill="#0606ff" stroke="#02025c"/>
<path d="M226.6 518.7L237.4 521.5L222.0 521.6L211.2 519.7Z" fill="#0606ff" stroke="#02025c"/>
<path d="M158.8 521.2L169.6 520.7L154.1 521.8L143.3 524.0Z" fill="#0404cf" stroke="#01014a"/>
<path d="M487.5 423.5L498.3 417.2L482.8 441.5L472.0 445.6Z" fill="url(#a81)" stroke="#0f0f5c"/>
<path d="M320.8 521.2L331.6 525.1L316.1 528.6L305.3 524.6Z" fill="url(#a44)" stroke="#06065c"/>
<path d="M430.3 483.6L441.1 483.0L425.7 498.3L414.9 497.5Z" fill="url(#a73)" stroke="#20205c"/>
<path d="M388.7 507.4L399.5 509.3L384.0 519.2L373.2 516.3Z" fill="url(#a63)" stroke="#1f1f5c"/>
<path d="M252.9 520.7L263.7 524.1L248.2 524.4L237.4 521.5Z" fill="#0606ff" stroke="#02025c"/>
<path d="M185.0 519.3L195.8 520.2L180.4 520.1L169.6 520.7Z" fill="#0505e7" stroke="#020253"/>
<path d="M472.0 445.6L482.8 441.5L467.4 463.2L456.6 465.4Z" fill="url(#a82)" stroke="#15155c"/>
<path d="M347.0 520.0L357.8 523.5L342.4 529.0L331.6 525.1Z" fill="url(#a54)" stroke="#0f0f5c"/>
<path d="M279.1 522.9L289.9 526.8L274.5 527.6L263.7 524.1Z" fill="#0606ff" stroke="#02025c"/>
<path d="M544.6 329.3L555.4 315.1L540.0 349.8L529.2 361.1Z" fill="url(#a89)" stroke="#05055c"/>
<path d="M414.9 497.5L425.7 498.3L410.3 511.3L399.5 509.3Z" fill="#5d5dff" stroke="#22225c"/>
<path d="M211.2 519.7L222.0 521.6L206.6 521.0L195.8 520.2Z" fill="#0606ff" stroke="#02025c"/>
<path d="M529.2 361.1L540.0 349.8L524.5 381.8L513.7 390.4Z" fill="url(#a90)" stroke="#07075c"/>
<path d="M143.3 524.0L154.1 521.8L138.7 522.7L127.9 526.8Z" fill="#000086" stroke="#000043"/>
<path d="M305.3 524.6L316.1 528.6L300.7 530.6L289.9 526.8Z" fill="#0606ff" stroke="#02025c"/>
<path d="M373.2 516.3L384.0 519.2L368.6 527.0L357.8 523.5Z" fill="url(#a64)" stroke="#18185c"/>
<path d="M456.6 465.4L467.4 463.2L452.0 482.4L441.1 483.0Z" fill="url(#a83)" stroke="#1b1b5c"/>
<path d="M513.7 390.4L524.5 381.8L509.1 411.0L498.3 417.2Z" fill="url(#a91)" stroke="#0a0a5c"/>
<path d="M237.4 521.5L248.2 524.4L232.8 523.6L222.0 521.6Z" fill="#0606ff" stroke="#02025c"/>
<path d="M331.6 525.1L342.4 529.0L326.9 532.6L316.1 528.6Z" fill="url(#a55)" stroke="#06065c"/>
<path d="M169.6 520.7L180.4 520.1L164.9 519.6L154.1 521.8Z" fill="#01019f" stroke="#010150"/>
<path d="M498.3 417.2L509.1 411.0L493.6 437.4L482.8 441.5Z" fill="url(#a92)" stroke="#0f0f5c"/>
<path d="M399.5 509.3L410.3 511.3L394.8 522.0L384.0 519.2Z" fill="url(#a74)" stroke="#1f1f5c"/>
<path d="M263.7 524.1L274.5 527.6L259.0 527.3L248.2 524.4Z" fill="#0606ff" stroke="#02025c"/>
<path d="M441.1 483.0L452.0 482.4L436.5 499.1L425.7 498.3Z" fill="url(#a84)" stroke="#20205c"/>
<path d="M357.8 523.5L368.6 527.0L353.2 532.8L342.4 529.0Z" fill="url(#a65)" stroke="#0f0f5c"/>
<path d="M195.8 520.2L206.6 521.0L191.2 519.6L180.4 520.1Z" fill="#0202b8" stroke="#01015c"/>
<path d="M127.9 526.8L138.7 522.7L123.3 523.3L112.5 529.5Z" fill="#000086" stroke="#000043"/>
<path d="M289.9 526.8L300.7 530.6L285.3 531.1L274.5 527.6Z" fill="#0606ff" stroke="#02025c"/>
<path d="M482.8 441.5L493.6 437.4L478.2 461.0L467.4 463.2Z" fill="url(#a93)" stroke="#15155c"/>
<path d="M425.7 498.3L436.5 499.1L421.1 513.3L410.3 511.3Z" fill="#5d5dff" stroke="#22225c"/>
<path d="M222.0 521.6L232.8 523.6L217.4 521.8L206.6 521.0Z" fill="#0505e8" stroke="#020253"/>
<path d="M316.1 528.6L326.9 532.6L311.5 534.5L300.7 530.6Z" fill="#0606ff" stroke="#02025c"/>
<path d="M384.0 519.2L394.8 522.0L379.4 530.5L368.6 527.0Z" fill="url(#a75)" stroke="#18185c"/>
<path d="M555.4 315.1L566.3 300.9L550.8 338.5L540.0 349.8Z" fill="url(#a100)" stroke="#05055c"/>
<path d="M154.1 521.8L164.9 519.6L149.5 518.6L138.7 522.7Z" fill="#000087" stroke="#000044"/>
<path d="M467.4 463.2L478.2 461.0L462.8 481.9L452.0 482.4Z" fill="url(#a94)" stroke="#1b1b5c"/>
<path d="M540.0 349.8L550.8 338.5L535.4 373.1L524.5 381.8Z" fill="url(#a101)" stroke="#07075c"/>
<path d="M248.2 524.4L259.0 527.3L243.6 525.6L232.8 523.6Z" fill="#0606ff" stroke="#02025c"/>
<path d="M342.4 529.0L353.2 532.8L337.8 536.6L326.9 532.6Z" fill="url(#a66)" stroke="#06065c"/>
<path d="M524.5 381.8L535.4 373.1L519.9 404.7L509.1 411.0Z" fill="url(#a102)" stroke="#0a0a5c"/>
<path d="M112.5 529.5L123.3 523.3L107.8 523.6L97.1 532.3Z" fill="#000086" stroke="#000043"/>
<path d="M180.4 520.1L191.2 519.6L175.7 517.4L164.9 519.6Z" fill="#000088" stroke="#000044"/>
<path d="M410.3 511.3L421.1 513.3L405.7 524.9L394.8 522.0Z" fill="url(#a85)" stroke="#1f1f5c"/>
<path d="M274.5 527.6L285.3 531.1L269.9 530.1L259.0 527.3Z" fill="#0606ff" stroke="#02025c"/>
<path d="M452.0 482.4L462.8 481.9L447.3 499.9L436.5 499.1Z" fill="url(#a95)" stroke="#20205c"/>
<path d="M509.1 411.0L519.9 404.7L504.5 433.3L493.6 437.4Z" fill="url(#a103)" stroke="#0f0f5c"/>
<path d="M368.6 527.0L379.4 530.5L364.0 536.7L353.2 532.8Z" fill="url(#a76)" stroke="#0f0f5c"/>
<path d="M206.6 521.0L217.4 521.8L202.0 519.0L191.2 519.6Z" fill="#0101a1" stroke="#010150"/>
<path d="M300.7 530.6L311.5 534.5L296.1 534.6L285.3 531.1Z" fill="#0606ff" stroke="#02025c"/>
<path d="M138.7 522.7L149.5 518.6L134.1 517.1L123.3 523.3Z" fill="#000087" stroke="#000044"/>
<path d="M493.6 437.4L504.5 433.3L489.0 458.8L478.2 461.0Z" fill="url(#a104)" stroke="#15155c"/>
<path d="M436.5 499.1L447.3 499.9L431.9 515.2L421.1 513.3Z" fill="#5d5dff" stroke="#22225c"/>
<path d="M232.8 523.6L243.6 525.6L228.2 522.7L217.4 521.8Z" fill="#0202b9" stroke="#01015c"/>
<path d="M326.9 532.6L337.8 536.6L322.3 538.4L311.5 534.5Z" fill="#0606ff" stroke="#02025c"/>
<path d="M394.8 522.0L405.7 524.9L390.2 534.0L379.4 530.5Z" fill="url(#a86)" stroke="#18185c"/>
<path d="M97.1 532.3L107.8 523.6L92.4 523.8L81.6 535.0Z" fill="#000086" stroke="#000043"/>
<path d="M164.9 519.6L175.7 517.4L160.3 514.5L149.5 518.6Z" fill="#000088" stroke="#000044"/>
<path d="M478.2 461.0L489.0 458.8L473.6 481.3L462.8 481.9Z" fill="url(#a105)" stroke="#1b1b5c"/>
<path d="M259.0 527.3L269.9 530.1L254.4 527.6L243.6 525.6Z" fill="#0505e8" stroke="#020253"/>
<path d="M353.2 532.8L364.0 536.7L348.6 540.6L337.8 536.6Z" fill="url(#a77)" stroke="#06065c"/>
<path d="M566.3 300.9L577.1 286.7L561.6 327.2L550.8 338.5Z" fill="url(#a111)" stroke="#05055c"/>
<path d="M550.8 338.5L561.6 327.2L546.2 364.5L535.4 373.1Z" fill="url(#a112)" stroke="#07075c"/>
<path d="M285.3 531.1L296.1 534.6L280.7 533.0L269.9 530.1Z" fill="#0606ff" stroke="#02025c"/>
<path d="M421.1 513.3L431.9 515.2L416.5 527.7L405.7 524.9Z" fill="url(#a96)" stroke="#1f1f5c"/>
<path d="M191.2 519.6L202.0 519.0L186.5 515.2L175.7 517.4Z" fill="#000089" stroke="#000045"/>
<path d="M535.4 373.1L546.2 364.5L530.7 398.5L519.9 404.7Z" fill="url(#a113)" stroke="#0a0a5c"/>
<path d="M123.3 523.3L134.1 517.1L118.6 515.0L107.8 523.6Z" fill="#000087" stroke="#000044"/>
<path d="M462.8 481.9L473.6 481.3L458.1 500.8L447.3 499.9Z" fill="url(#a106)" stroke="#20205c"/>
<path d="M379.4 530.5L390.2 534.0L374.8 540.6L364.0 536.7Z" fill="url(#a87)" stroke="#0f0f5c"/>
<path d="M311.5 534.5L322.3 538.4L306.9 538.1L296.1 534.6Z" fill="#0606ff" stroke="#02025c"/>
<path d="M519.9 404.7L530.7 398.5L515.3 429.2L504.5 433.3Z" fill="url(#a114)" stroke="#0f0f5c"/>
<path d="M217.4 521.8L228.2 522.7L212.8 518.5L202.0 519.0Z" fill="#00008a" stroke="#000045"/>
<path d="M81.6 535.0L92.4 523.8L77.0 523.6L66.2 537.8Z" fill="#000086" stroke="#000043"/>
<path d="M149.5 518.6L160.3 514.5L144.9 510.8L134.1 517.1Z" fill="#000088" stroke="#000044"/>
<path d="M337.8 536.6L348.6 540.6L333.1 542.3L322.3 538.4Z" fill="#0606ff" stroke="#02025c"/>
<path d="M504.5 433.3L515.3 429.2L499.8 456.6L489.0 458.8Z" fill="url(#a115)" stroke="#15155c"/>
<path d="M447.3 499.9L458.1 500.8L442.7 517.2L431.9 515.2Z" fill="#5d5dff" stroke="#22225c"/>
<path d="M243.6 525.6L254.4 527.6L239.0 523.5L228.2 522.7Z" fill="#0101a2" stroke="#010151"/>
<path d="M405.7 524.9L416.5 527.7L401.0 537.5L390.2 534.0Z" fill="url(#a97)" stroke="#18185c"/>
<path d="M269.9 530.1L280.7 533.0L265.2 529.6L254.4 527.6Z" fill="#0404d1" stroke="#01014b"/>
<path d="M364.0 536.7L374.8 540.6L359.4 544.6L348.6 540.6Z" fill="url(#a88)" stroke="#06065c"/>
<path d="M489.0 458.8L499.8 456.6L484.4 480.7L473.6 481.3Z" fill="url(#a116)" stroke="#1b1b5c"/>
<path d="M175.7 517.4L186.5 515.2L171.1 510.4L160.3 514.5Z" fill="#000089" stroke="#000045"/>
<path d="M107.8 523.6L118.6 515.0L103.2 512.5L92.4 523.8Z" fill="#000087" stroke="#000044"/>
<path d="M296.1 534.6L306.9 538.1L291.5 535.8L280.7 533.0Z" fill="#0606ff" stroke="#02025c"/>
<path d="M431.9 515.2L442.7 517.2L427.3 530.6L416.5 527.7Z" fill="url(#a107)" stroke="#1f1f5c"/>
<path d="M202.0 519.0L212.8 518.5L197.3 513.0L186.5 515.2Z" fill="#00008a" stroke="#000045"/>
<path d="M390.2 534.0L401.0 537.5L385.6 544.4L374.8 540.6Z" fill="url(#a98)" stroke="#0f0f5c"/>
<path d="M577.1 286.7L587.9 272.4L572.5 315.9L561.6 327.2Z" fill="url(#a122)" stroke="#05055c"/>
<path d="M473.6 481.3L484.4 480.7L469.0 501.6L458.1 500.8Z" fill="url(#a117)" stroke="#20205c"/>
<path d="M561.6 327.2L572.5 315.9L557.0 355.8L546.2 364.5Z" fill="url(#a123)" stroke="#07075c"/>
<path d="M322.3 538.4L333.1 542.3L317.7 541.6L306.9 538.1Z" fill="#0606ff" stroke="#02025c"/>
<path d="M546.2 364.5L557.0 355.8L541.6 392.2L530.7 398.5Z" fill="url(#a124)" stroke="#0a0a5c"/>
<path d="M134.1 517.1L144.9 510.8L129.4 506.4L118.6 515.0Z" fill="#000088" stroke="#000044"/>
<path d="M228.2 522.7L239.0 523.5L223.6 517.9L212.8 518.5Z" fill="#00008b" stroke="#000046"/>
<path d="M530.7 398.5L541.6 392.2L526.1 425.1L515.3 429.2Z" fill="url(#a125)" stroke="#0f0f5c"/>
<path d="M348.6 540.6L359.4 544.6L343.9 546.1L333.1 542.3Z" fill="#0606ff" stroke="#02025c"/>
<path d="M416.5 527.7L427.3 530.6L411.8 541.0L401.0 537.5Z" fill="url(#a108)" stroke="#18185c"/>
<path d="M458.1 500.8L469.0 501.6L453.5 519.2L442.7 517.2Z" fill="#5d5dff" stroke="#22225c"/>
<path d="M254.4 527.6L265.2 529.6L249.8 524.4L239.0 523.5Z" fill="#00008c" stroke="#000046"/>
<path d="M92.4 523.8L103.2 512.5L87.8 509.4L77.0 523.6Z" fill="#000087" stroke="#000044"/>
<path d="M515.3 429.2L526.1 425.1L510.7 454.4L499.8 456.6Z" fill="url(#a126)" stroke="#15155c"/>
<path d="M160.3 514.5L171.1 510.4L155.7 504.6L144.9 510.8Z" fill="#000089" stroke="#000045"/>
<path d="M280.7 533.0L291.5 535.8L276.0 531.5L265.2 529.6Z" fill="#0202bb" stroke="#01015d"/>
<path d="M374.8 540.6L385.6 544.4L370.2 548.6L359.4 544.6Z" fill="url(#a99)" stroke="#06065c"/>
<path d="M499.8 456.6L510.7 454.4L495.2 480.2L484.4 480.7Z" fill="url(#a127)" stroke="#1b1b5c"/>
<path d="M186.5 515.2L197.3 513.0L181.9 506.3L171.1 510.4Z" fill="#00008a" stroke="#000045"/>
<path d="M306.9 538.1L317.7 541.6L302.3 538.7L291.5 535.8Z" fill="#0606ff" stroke="#02025c"/>
<path d="M442.7 517.2L453.5 519.2L438.1 533.4L427.3 530.6Z" fill="url(#a118)" stroke="#1f1f5c"/>
<path d="M118.6 515.0L129.4 506.4L114.0 501.2L103.2 512.5Z" fill="#000088" stroke="#000044"/>
<path d="M401.0 537.5L411.8 541.0L396.4 548.3L385.6 544.4Z" fill="url(#a109)" stroke="#0f0f5c"/>
<path d="M212.8 518.5L223.6 517.9L208.1 510.9L197.3 513.0Z" fill="#00008b" stroke="#000046"/>
<path d="M484.4 480.7L495.2 480.2L479.8 502.4L469.0 501.6Z" fill="url(#a128)" stroke="#20205c"/>
<path d="M333.1 542.3L343.9 546.1L328.5 545.1L317.7 541.6Z" fill="#0606ff" stroke="#02025c"/>
<path d="M239.0 523.5L249.8 524.4L234.4 517.4L223.6 517.9Z" fill="#00008c" stroke="#000046"/>
<path d="M572.5 315.9L583.3 304.6L567.8 347.1L557.0 355.8Z" fill="url(#a134)" stroke="#07075c"/>
<path d="M587.9 272.4L598.8 258.2L583.3 304.6L572.5 315.9Z" fill="url(#a133)" stroke="#05055c"/>
<path d="M557.0 355.8L567.8 347.1L552.4 385.9L541.6 392.2Z" fill="url(#a135)" stroke="#0a0a5c"/>
<path d="M144.9 510.8L155.7 504.6L140.2 497.7L129.4 506.4Z" fill="#000089" stroke="#000045"/>
<path d="M359.4 544.6L370.2 548.6L354.7 550.0L343.9 546.1Z" fill="#0606ff" stroke="#02025c"/>
<path d="M427.3 530.6L438.1 533.4L422.6 544.5L411.8 541.0Z" fill="url(#a119)" stroke="#18185c"/>
<path d="M541.6 392.2L552.4 385.9L536.9 420.9L526.1 425.1Z" fill="url(#a136)" stroke="#0f0f5c"/>
<path d="M469.0 501.6L479.8 502.4L464.3 521.1L453.5 519.2Z" fill="#5d5dff" stroke="#22225c"/>
<path d="M265.2 529.6L276.0 531.5L260.6 525.2L249.8 524.4Z" fill="#00008d" stroke="#000046"/>
<path d="M526.1 425.1L536.9 420.9L521.5 452.2L510.7 454.4Z" fill="url(#a137)" stroke="#15155c"/>
<path d="M385.6 544.4L396.4 548.3L381.0 552.6L370.2 548.6Z" fill="url(#a110)" stroke="#06065c"/>
<path d="M171.1 510.4L181.9 506.3L166.5 498.4L155.7 504.6Z" fill="#00008a" stroke="#000045"/>
<path d="M291.5 535.8L302.3 538.7L286.8 533.5L276.0 531.5Z" fill="#0202bb" stroke="#01015e"/>
<path d="M103.2 512.5L114.0 501.2L98.6 495.2L87.8 509.4Z" fill="#000088" stroke="#000044"/>
<path d="M510.7 454.4L521.5 452.2L506.0 479.6L495.2 480.2Z" fill="url(#a138)" stroke="#1b1b5c"/>
<path d="M317.7 541.6L328.5 545.1L313.1 541.6L302.3 538.7Z" fill="#0505e9" stroke="#020254"/>
<path d="M197.3 513.0L208.1 510.9L192.7 502.2L181.9 506.3Z" fill="#00008b" stroke="#000046"/>
<path d="M453.5 519.2L464.3 521.1L448.9 536.3L438.1 533.4Z" fill="url(#a129)" stroke="#1f1f5c"/>
<path d="M411.8 541.0L422.6 544.5L407.2 552.2L396.4 548.3Z" fill="url(#a120)" stroke="#0f0f5c"/>
<path d="M343.9 546.1L354.7 550.0L339.3 548.6L328.5 545.1Z" fill="#0606ff" stroke="#02025c"/>
<path d="M495.2 480.2L506.0 479.6L490.6 503.2L479.8 502.4Z" fill="url(#a139)" stroke="#20205c"/>
<path d="M223.6 517.9L234.4 517.4L218.9 508.7L208.1 510.9Z" fill="#00008c" stroke="#000046"/>
<path d="M129.4 506.4L140.2 497.7L124.8 489.9L114.0 501.2Z" fill="#000089" stroke="#000045"/>
<path d="M249.8 524.4L260.6 525.2L245.2 516.8L234.4 517.4Z" fill="#00008d" stroke="#000046"/>
<path d="M370.2 548.6L381.0 552.6L365.5 553.9L354.7 550.0Z" fill="#0606ff" stroke="#02025c"/>
<path d="M438.1 533.4L448.9 536.3L433.5 547.9L422.6 544.5Z" fill="url(#a130)" stroke="#18185c"/>
<path d="M479.8 502.4L490.6 503.2L475.1 523.1L464.3 521.1Z" fill="#5d5dff" stroke="#22225c"/>
<path d="M276.0 531.5L286.8 533.5L271.4 526.0L260.6 525.2Z" fill="#00008e" stroke="#000047"/>
<path d="M567.8 347.1L578.7 338.5L563.2 379.7L552.4 385.9Z" fill="url(#a146)" stroke="#0a0a5c"/>
<path d="M583.3 304.6L594.1 293.3L578.7 338.5L567.8 347.1Z" fill="url(#a145)" stroke="#07075c"/>
<path d="M155.7 504.6L166.5 498.4L151.0 489.1L140.2 497.7Z" fill="#00008a" stroke="#000045"/>
<path d="M552.4 385.9L563.2 379.7L547.7 416.8L536.9 420.9Z" fill="url(#a147)" stroke="#0f0f5c"/>
<path d="M598.8 258.2L609.6 244.0L594.1 293.3L583.3 304.6Z" fill="url(#a144)" stroke="#05055c"/>
<path d="M396.4 548.3L407.2 552.2L391.8 556.6L381.0 552.6Z" fill="url(#a121)" stroke="#06065c"/>
<path d="M302.3 538.7L313.1 541.6L297.6 535.5L286.8 533.5Z" fill="#0101a5" stroke="#010153"/>
<path d="M536.9 420.9L547.7 416.8L532.3 449.9L521.5 452.2Z" fill="url(#a148)" stroke="#15155c"/>
<path d="M181.9 506.3L192.7 502.2L177.3 492.1L166.5 498.4Z" fill="#00008b" stroke="#000046"/>
<path d="M328.5 545.1L339.3 548.6L323.9 544.4L313.1 541.6Z" fill="#0404d2" stroke="#01014c"/>
<path d="M521.5 452.2L532.3 449.9L516.8 479.0L506.0 479.6Z" fill="url(#a149)" stroke="#1b1b5c"/>
<path d="M464.3 521.1L475.1 523.1L459.7 539.2L448.9 536.3Z" fill="url(#a140)" stroke="#1f1f5c"/>
<path d="M422.6 544.5L433.5 547.9L418.0 556.0L407.2 552.2Z" fill="url(#a131)" stroke="#0f0f5c"/>
<path d="M208.1 510.9L218.9 508.7L203.5 498.2L192.7 502.2Z" fill="#00008c" stroke="#000046"/>
<path d="M114.0 501.2L124.8 489.9L109.4 481.0L98.6 495.2Z" fill="#000089" stroke="#000045"/>
<path d="M354.7 550.0L365.5 553.9L350.1 552.1L339.3 548.6Z" fill="#0606ff" stroke="#02025c"/>
<path d="M506.0 479.6L516.8 479.0L501.4 504.1L490.6 503.2Z" fill="url(#a150)" stroke="#20205c"/>
<path d="M234.4 517.4L245.2 516.8L229.7 506.5L218.9 508.7Z" fill="#00008d" stroke="#000046"/>
<path d="M381.0 552.6L391.8 556.6L376.3 557.7L365.5 553.9Z" fill="#0606ff" stroke="#02025c"/>
<path d="M260.6 525.2L271.4 526.0L256.0 516.3L245.2 516.8Z" fill="#00008e" stroke="#000047"/>
<path d="M140.2 497.7L151.0 489.1L135.6 478.6L124.8 489.9Z" fill="#00008a" stroke="#000045"/>
<path d="M448.9 536.3L459.7 539.2L444.3 551.4L433.5 547.9Z" fill="url(#a141)" stroke="#18185c"/>
<path d="M490.6 503.2L501.4 504.1L485.9 525.1L475.1 523.1Z" fill="#5d5dff" stroke="#22225c"/>
<path d="M286.8 533.5L297.6 535.5L282.2 526.9L271.4 526.0Z" fill="#00008f" stroke="#000047"/>
<path d="M407.2 552.2L418.0 556.0L402.6 560.6L391.8 556.6Z" fill="url(#a132)" stroke="#06065c"/>
<path d="M313.1 541.6L323.9 544.4L308.4 537.5L297.6 535.5Z" fill="#000090" stroke="#000048"/>
<path d="M578.7 338.5L589.5 329.8L574.0 373.4L563.2 379.7Z" fill="url(#a157)" stroke="#0a0a5c"/>
<path d="M166.5 498.4L177.3 492.1L161.8 480.5L151.0 489.1Z" fill="#00008b" stroke="#000046"/>
<path d="M563.2 379.7L574.0 373.4L558.6 412.7L547.7 416.8Z" fill="url(#a158)" stroke="#0f0f5c"/>
<path d="M594.1 293.3L605.0 281.9L589.5 329.8L578.7 338.5Z" fill="url(#a156)" stroke="#07075c"/>
<path d="M547.7 416.8L558.6 412.7L543.1 447.7L532.3 449.9Z" fill="url(#a159)" stroke="#15155c"/>
<path d="M609.6 244.0L620.5 229.8L605.0 281.9L594.1 293.3Z" fill="url(#a155)" stroke="#05055c"/>
<path d="M339.3 548.6L350.1 552.1L334.7 547.3L323.9 544.4Z" fill="#0404d3" stroke="#01014c"/>
<path d="M475.1 523.1L485.9 525.1L470.5 542.0L459.7 539.2Z" fill="url(#a151)" stroke="#1f1f5c"/>
<path d="M192.7 502.2L203.5 498.2L188.1 485.9L177.3 492.1Z" fill="#00008c" stroke="#000046"/>
<path d="M433.5 547.9L444.3 551.4L428.8 559.9L418.0 556.0Z" fill="url(#a142)" stroke="#0f0f5c"/>
<path d="M532.3 449.9L543.1 447.7L527.6 478.5L516.8 479.0Z" fill="url(#a160)" stroke="#1b1b5c"/>
<path d="M365.5 553.9L376.3 557.7L360.9 555.6L350.1 552.1Z" fill="#0606ff" stroke="#02025c"/>
<path d="M218.9 508.7L229.7 506.5L214.3 494.1L203.5 498.2Z" fill="#00008d" stroke="#000046"/>
<path d="M516.8 479.0L527.6 478.5L512.2 504.9L501.4 504.1Z" fill="url(#a161)" stroke="#20205c"/>
<path d="M245.2 516.8L256.0 516.3L240.5 504.3L229.7 506.5Z" fill="#00008e" stroke="#000047"/>
<path d="M391.8 556.6L402.6 560.6L387.2 561.6L376.3 557.7Z" fill="#0606ff" stroke="#02025c"/>
<path d="M124.8 489.9L135.6 478.6L120.1 466.8L109.4 481.0Z" fill="#00008a" stroke="#000045"/>
<path d="M459.7 539.2L470.5 542.0L455.1 554.9L444.3 551.4Z" fill="url(#a152)" stroke="#18185c"/>
<path d="M271.4 526.0L282.2 526.9L266.8 515.7L256.0 516.3Z" fill="#00008f" stroke="#000047"/>
<path d="M501.4 504.1L512.2 504.9L496.8 527.0L485.9 525.1Z" fill="#5d5dff" stroke="#22225c"/>
<path d="M297.6 535.5L308.4 537.5L293.0 527.7L282.2 526.9Z" fill="#000090" stroke="#000048"/>
<path d="M418.0 556.0L428.8 559.9L413.4 564.6L402.6 560.6Z" fill="url(#a143)" stroke="#06065c"/>
<path d="M151.0 489.1L161.8 480.5L146.4 467.3L135.6 478.6Z" fill="#00008b" stroke="#000046"/>
<path d="M323.9 544.4L334.7 547.3L319.2 539.4L308.4 537.5Z" fill="#000091" stroke="#000048"/>
<path d="M350.1 552.1L360.9 555.6L345.5 550.2L334.7 547.3Z" fill="#0202bd" stroke="#01015f"/>
<path d="M574.0 373.4L584.9 367.2L569.4 408.6L558.6 412.7Z" fill="url(#a169)" stroke="#0f0f5c"/>
<path d="M589.5 329.8L600.3 321.2L584.9 367.2L574.0 373.4Z" fill="url(#a168)" stroke="#0a0a5c"/>
<path d="M177.3 492.1L188.1 485.9L172.6 471.8L161.8 480.5Z" fill="#00008c" stroke="#000046"/>
<path d="M558.6 412.7L569.4 408.6L553.9 445.5L543.1 447.7Z" fill="url(#a170)" stroke="#15155c"/>
<path d="M485.9 525.1L496.8 527.0L481.3 544.9L470.5 542.0Z" fill="url(#a162)" stroke="#1f1f5c"/>
<path d="M605.0 281.9L615.8 270.6L600.3 321.2L589.5 329.8Z" fill="url(#a167)" stroke="#07075c"/>
<path d="M444.3 551.4L455.1 554.9L439.6 563.8L428.8 559.9Z" fill="url(#a153)" stroke="#0f0f5c"/>
<path d="M376.3 557.7L387.2 561.6L371.7 559.1L360.9 555.6Z" fill="#0606ff" stroke="#02025c"/>
<path d="M543.1 447.7L553.9 445.5L538.5 477.9L527.6 478.5Z" fill="url(#a171)" stroke="#1b1b5c"/>
<path d="M203.5 498.2L214.3 494.1L198.9 479.6L188.1 485.9Z" fill="#00008d" stroke="#000046"/>
<path d="M620.5 229.8L631.3 215.5L615.8 270.6L605.0 281.9Z" fill="url(#a166)" stroke="#05055c"/>
<path d="M229.7 506.5L240.5 504.3L225.1 490.0L214.3 494.1Z" fill="#00008e" stroke="#000047"/>
<path d="M402.6 560.6L413.4 564.6L398.0 565.5L387.2 561.6Z" fill="#0606ff" stroke="#02025c"/>
<path d="M527.6 478.5L538.5 477.9L523.0 505.7L512.2 504.9Z" fill="url(#a172)" stroke="#20205c"/>
<path d="M256.0 516.3L266.8 515.7L251.3 502.1L240.5 504.3Z" fill="#00008f" stroke="#000047"/>
<path d="M470.5 542.0L481.3 544.9L465.9 558.4L455.1 554.9Z" fill="url(#a163)" stroke="#18185c"/>
<path d="M282.2 526.9L293.0 527.7L277.6 515.2L266.8 515.7Z" fill="#000090" stroke="#000048"/>
<path d="M428.8 559.9L439.6 563.8L424.2 568.6L413.4 564.6Z" fill="url(#a154)" stroke="#06065c"/>
<path d="M512.2 504.9L523.0 505.7L507.6 529.0L496.8 527.0Z" fill="#5d5dff" stroke="#22225c"/>
<path d="M135.6 478.6L146.4 467.3L130.9 452.6L120.1 466.8Z" fill="#00008b" stroke="#000046"/>
<path d="M308.4 537.5L319.2 539.4L303.8 528.6L293.0 527.7Z" fill="#000091" stroke="#000048"/>
<path d="M334.7 547.3L345.5 550.2L330.1 541.4L319.2 539.4Z" fill="#000091" stroke="#000049"/>
<path d="M360.9 555.6L371.7 559.1L356.3 553.0L345.5 550.2Z" fill="#0202be" stroke="#01015f"/>
<path d="M161.8 480.5L172.6 471.8L157.2 456.0L146.4 467.3Z" fill="#00008c" stroke="#000046"/>
<path d="M455.1 554.9L465.9 558.4L450.4 567.6L439.6 563.8Z" fill="url(#a164)" stroke="#0f0f5c"/>
<path d="M496.8 527.0L507.6 529.0L492.1 547.7L481.3 544.9Z" fill="url(#a173)" stroke="#1f1f5c"/>
<path d="M584.9 367.2L595.7 360.9L580.2 404.5L569.4 408.6Z" fill="url(#a180)" stroke="#0f0f5c"/>
<path d="M569.4 408.6L580.2 404.5L564.7 443.3L553.9 445.5Z" fill="url(#a181)" stroke="#15155c"/>
<path d="M387.2 561.6L398.0 565.5L382.5 562.6L371.7 559.1Z" fill="#0606ff" stroke="#02025c"/>
<path d="M600.3 321.2L611.2 312.5L595.7 360.9L584.9 367.2Z" fill="url(#a179)" stroke="#0a0a5c"/>
<path d="M188.1 485.9L198.9 479.6L183.4 463.2L172.6 471.8Z" fill="#00008d" stroke="#000046"/>
<path d="M553.9 445.5L564.7 443.3L549.3 477.3L538.5 477.9Z" fill="url(#a182)" stroke="#1b1b5c"/>
<path d="M615.8 270.6L626.7 259.3L611.2 312.5L600.3 321.2Z" fill="url(#a178)" stroke="#07075c"/>
<path d="M214.3 494.1L225.1 490.0L209.7 473.4L198.9 479.6Z" fill="#00008e" stroke="#000047"/>
<path d="M413.4 564.6L424.2 568.6L408.8 569.3L398.0 565.5Z" fill="#0606ff" stroke="#02025c"/>
<path d="M538.5 477.9L549.3 477.3L533.8 506.5L523.0 505.7Z" fill="url(#a183)" stroke="#20205c"/>
<path d="M240.5 504.3L251.3 502.1L235.9 485.9L225.1 490.0Z" fill="#00008f" stroke="#000047"/>
<path d="M631.3 215.5L642.2 201.3L626.7 259.3L615.8 270.6Z" fill="url(#a177)" stroke="#05055c"/>
<path d="M481.3 544.9L492.1 547.7L476.7 561.9L465.9 558.4Z" fill="url(#a174)" stroke="#18185c"/>
<path d="M266.8 515.7L277.6 515.2L262.1 499.9L251.3 502.1Z" fill="#000090" stroke="#000048"/>
<path d="M293.0 527.7L303.8 528.6L288.4 514.6L277.6 515.2Z" fill="#000091" stroke="#000048"/>
<path d="M439.6 563.8L450.4 567.6L435.0 572.6L424.2 568.6Z" fill="url(#a165)" stroke="#06065c"/>
<path d="M523.0 505.7L533.8 506.5L518.4 530.9L507.6 529.0Z" fill="#5d5dff" stroke="#22225c"/>
<path d="M319.2 539.4L330.1 541.4L314.6 529.4L303.8 528.6Z" fill="#000091" stroke="#000049"/>
<path d="M345.5 550.2L356.3 553.0L340.9 543.4L330.1 541.4Z" fill="#000092" stroke="#000049"/>
<path d="M371.7 559.1L382.5 562.6L367.1 555.9L356.3 553.0Z" fill="#0202be" stroke="#01015f"/>
<path d="M146.4 467.3L157.2 456.0L141.7 438.4L130.9 452.6Z" fill="#00008c" stroke="#000046"/>
<path d="M465.9 558.4L476.7 561.9L461.2 571.5L450.4 567.6Z" fill="url(#a175)" stroke="#0f0f5c"/>
<path d="M507.6 529.0L518.4 530.9L502.9 550.6L492.1 547.7Z" fill="url(#a184)" stroke="#1f1f5c"/>
<path d="M398.0 565.5L408.8 569.3L393.3 566.1L382.5 562.6Z" fill="#0505ea" stroke="#020254"/>
<path d="M172.6 471.8L183.4 463.2L168.0 444.7L157.2 456.0Z" fill="#00008d" stroke="#000046"/>
<path d="M580.2 404.5L591.0 400.4L575.6 441.1L564.7 443.3Z" fill="url(#a192)" stroke="#15155c"/>
<path d="M595.7 360.9L606.5 354.6L591.0 400.4L580.2 404.5Z" fill="url(#a191)" stroke="#0f0f5c"/>
<path d="M564.7 443.3L575.6 441.1L560.1 476.7L549.3 477.3Z" fill="url(#a193)" stroke="#1b1b5c"/>
<path d="M611.2 312.5L622.0 303.8L606.5 354.6L595.7 360.9Z" fill="url(#a190)" stroke="#0a0a5c"/>
<path d="M424.2 568.6L435.0 572.6L419.6 573.2L408.8 569.3Z" fill="#0606ff" stroke="#02025c"/>
<path d="M198.9 479.6L209.7 473.4L194.2 454.5L183.4 463.2Z" fill="#00008e" stroke="#000047"/>
<path d="M225.1 490.0L235.9 485.9L220.5 467.1L209.7 473.4Z" fill="#00008f" stroke="#000047"/>
<path d="M549.3 477.3L560.1 476.7L544.6 507.4L533.8 506.5Z" fill="url(#a194)" stroke="#20205c"/>
<path d="M492.1 547.7L502.9 550.6L487.5 565.4L476.7 561.9Z" fill="url(#a185)" stroke="#18185c"/>
<path d="M626.7 259.3L637.5 248.0L622.0 303.8L611.2 312.5Z" fill="url(#a189)" stroke="#07075c"/>
<path d="M251.3 502.1L262.1 499.9L246.7 481.8L235.9 485.9Z" fill="#000090" stroke="#000048"/>
<path d="M277.6 515.2L288.4 514.6L272.9 497.7L262.1 499.9Z" fill="#000091" stroke="#000048"/>
<path d="M450.4 567.6L461.2 571.5L445.8 576.6L435.0 572.6Z" fill="url(#a176)" stroke="#06065c"/>
<path d="M303.8 528.6L314.6 529.4L299.2 514.1L288.4 514.6Z" fill="#000091" stroke="#000049"/>
<path d="M533.8 506.5L544.6 507.4L529.2 532.9L518.4 530.9Z" fill="#5d5dff" stroke="#22225c"/>
<path d="M330.1 541.4L340.9 543.4L325.4 530.2L314.6 529.4Z" fill="#000092" stroke="#000049"/>
<path d="M642.2 201.3L653.0 187.1L637.5 248.0L626.7 259.3Z" fill="url(#a188)" stroke="#05055c"/>
<path d="M356.3 553.0L367.1 555.9L351.7 545.4L340.9 543.4Z" fill="#000093" stroke="#00004a"/>
<path d="M382.5 562.6L393.3 566.1L377.9 558.7L367.1 555.9Z" fill="#0101aa" stroke="#010155"/>
<path d="M476.7 561.9L487.5 565.4L472.1 575.4L461.2 571.5Z" fill="url(#a186)" stroke="#0f0f5c"/>
<path d="M518.4 530.9L529.2 532.9L513.7 553.4L502.9 550.6Z" fill="url(#a195)" stroke="#1f1f5c"/>
<path d="M408.8 569.3L419.6 573.2L404.1 569.6L393.3 566.1Z" fill="#0404d5" stroke="#01014d"/>
<path d="M157.2 456.0L168.0 444.7L152.5 424.2L141.7 438.4Z" fill="#00008d" stroke="#000046"/>
<path d="M435.0 572.6L445.8 576.6L430.4 577.1L419.6 573.2Z" fill="#0606ff" stroke="#02025c"/>
<path d="M591.0 400.4L601.9 396.3L586.4 438.9L575.6 441.1Z" fill="url(#a203)" stroke="#15155c"/>
<path d="M606.5 354.6L617.3 348.4L601.9 396.3L591.0 400.4Z" fill="url(#a202)" stroke="#0f0f5c"/>
<path d="M575.6 441.1L586.4 438.9L570.9 476.2L560.1 476.7Z" fill="url(#a204)" stroke="#1b1b5c"/>
<path d="M183.4 463.2L194.2 454.5L178.8 433.4L168.0 444.7Z" fill="#00008e" stroke="#000047"/>
<path d="M502.9 550.6L513.7 553.4L498.3 568.9L487.5 565.4Z" fill="url(#a196)" stroke="#18185c"/>
<path d="M622.0 303.8L632.8 295.2L617.3 348.4L606.5 354.6Z" fill="url(#a201)" stroke="#0a0a5c"/>
<path d="M209.7 473.4L220.5 467.1L205.0 445.9L194.2 454.5Z" fill="#00008f" stroke="#000047"/>
<path d="M560.1 476.7L570.9 476.2L555.5 508.2L544.6 507.4Z" fill="url(#a205)" stroke="#20205c"/>
<path d="M235.9 485.9L246.7 481.8L231.3 460.9L220.5 467.1Z" fill="#000090" stroke="#000048"/>
<path d="M461.2 571.5L472.1 575.4L456.6 580.6L445.8 576.6Z" fill="url(#a187)" stroke="#06065c"/>
<path d="M262.1 499.9L272.9 497.7L257.5 477.7L246.7 481.8Z" fill="#000091" stroke="#000048"/>
<path d="M288.4 514.6L299.2 514.1L283.7 495.5L272.9 497.7Z" fill="#000091" stroke="#000049"/>
<path d="M314.6 529.4L325.4 530.2L310.0 513.5L299.2 514.1Z" fill="#000092" stroke="#000049"/>
<path d="M637.5 248.0L648.3 236.7L632.8 295.2L622.0 303.8Z" fill="url(#a200)" stroke="#07075c"/>
<path d="M544.6 507.4L555.5 508.2L540.0 534.9L529.2 532.9Z" fill="#5d5dff" stroke="#22225c"/>
<path d="M340.9 543.4L351.7 545.4L336.2 531.1L325.4 530.2Z" fill="#000093" stroke="#00004a"/>
<path d="M367.1 555.9L377.9 558.7L362.5 547.4L351.7 545.4Z" fill="#000094" stroke="#00004a"/>
<path d="M393.3 566.1L404.1 569.6L388.7 561.6L377.9 558.7Z" fill="#000095" stroke="#00004b"/>
<path d="M487.5 565.4L498.3 568.9L482.9 579.2L472.1 575.4Z" fill="url(#a197)" stroke="#0f0f5c"/>
<path d="M653.0 187.1L663.8 172.9L648.3 236.7L637.5 248.0Z" fill="url(#a199)" stroke="#05055c"/>
<path d="M529.2 532.9L540.0 534.9L524.6 556.3L513.7 553.4Z" fill="url(#a206)" stroke="#1f1f5c"/>
<path d="M419.6 573.2L430.4 577.1L414.9 573.1L404.1 569.6Z" fill="#0404d5" stroke="#01014d"/>
<path d="M445.8 576.6L456.6 580.6L441.2 581.0L430.4 577.1Z" fill="#0606ff" stroke="#02025c"/>
<path d="M601.9 396.3L612.7 392.2L597.2 436.7L586.4 438.9Z" fill="url(#a214)" stroke="#15155c"/>
<path d="M586.4 438.9L597.2 436.7L581.7 475.6L570.9 476.2Z" fill="url(#a215)" stroke="#1b1b5c"/>
<path d="M513.7 553.4L524.6 556.3L509.1 572.3L498.3 568.9Z" fill="url(#a207)" stroke="#18185c"/>
<path d="M168.0 444.7L178.8 433.4L163.3 410.0L152.5 424.2Z" fill="#00008e" stroke="#000047"/>
<path d="M617.3 348.4L628.2 342.1L612.7 392.2L601.9 396.3Z" fill="url(#a213)" stroke="#0f0f5c"/>
<path d="M570.9 476.2L581.7 475.6L566.3 509.0L555.5 508.2Z" fill="url(#a216)" stroke="#20205c"/>
<path d="M472.1 575.4L482.9 579.2L467.4 584.6L456.6 580.6Z" fill="url(#a198)" stroke="#06065c"/>
<path d="M194.2 454.5L205.0 445.9L189.6 422.1L178.8 433.4Z" fill="#00008f" stroke="#000047"/>
<path d="M632.8 295.2L643.7 286.5L628.2 342.1L617.3 348.4Z" fill="url(#a212)" stroke="#0a0a5c"/>
<path d="M220.5 467.1L231.3 460.9L215.8 437.2L205.0 445.9Z" fill="#000090" stroke="#000048"/>
<path d="M246.7 481.8L257.5 477.7L242.1 454.6L231.3 460.9Z" fill="#000091" stroke="#000048"/>
<path d="M272.9 497.7L283.7 495.5L268.3 473.6L257.5 477.7Z" fill="#000091" stroke="#000049"/>
<path d="M299.2 514.1L310.0 513.5L294.5 493.3L283.7 495.5Z" fill="#000092" stroke="#000049"/>
<path d="M325.4 530.2L336.2 531.1L320.8 513.0L310.0 513.5Z" fill="#000093" stroke="#00004a"/>
<path d="M555.5 508.2L566.3 509.0L550.8 536.8L540.0 534.9Z" fill="#5d5dff" stroke="#22225c"/>
<path d="M351.7 545.4L362.5 547.4L347.0 531.9L336.2 531.1Z" fill="#000094" stroke="#00004a"/>
<path d="M377.9 558.7L388.7 561.6L373.3 549.3L362.5 547.4Z" fill="#000095" stroke="#00004b"/>
<path d="M404.1 569.6L414.9 573.1L399.5 564.5L388.7 561.6Z" fill="#000096" stroke="#00004b"/>
<path d="M648.3 236.7L659.2 225.3L643.7 286.5L632.8 295.2Z" fill="url(#a211)" stroke="#07075c"/>
<path d="M498.3 568.9L509.1 572.3L493.7 583.1L482.9 579.2Z" fill="url(#a208)" stroke="#0f0f5c"/>
<path d="M430.4 577.1L441.2 581.0L425.8 576.5L414.9 573.1Z" fill="#0404d5" stroke="#01014d"/>
<path d="M540.0 534.9L550.8 536.8L535.4 559.1L524.6 556.3Z" fill="url(#a217)" stroke="#1f1f5c"/>
<path d="M456.6 580.6L467.4 584.6L452.0 584.8L441.2 581.0Z" fill="#0606ff" stroke="#02025c"/>
<path d="M663.8 172.9L674.7 158.6L659.2 225.3L648.3 236.7Z" fill="url(#a210)" stroke="#05055c"/>
<path d="M524.6 556.3L535.4 559.1L519.9 575.8L509.1 572.3Z" fill="url(#a218)" stroke="#18185c"/>
<path d="M597.2 436.7L608.0 434.4L592.5 475.0L581.7 475.6Z" fill="url(#a226)" stroke="#1b1b5c"/>
<path d="M612.7 392.2L623.5 388.0L608.0 434.4L597.2 436.7Z" fill="url(#a225)" stroke="#15155c"/>
<path d="M482.9 579.2L493.7 583.1L478.2 588.6L467.4 584.6Z" fill="url(#a209)" stroke="#06065c"/>
<path d="M581.7 475.6L592.5 475.0L577.1 509.8L566.3 509.0Z" fill="url(#a227)" stroke="#20205c"/>
<path d="M628.2 342.1L639.0 335.8L623.5 388.0L612.7 392.2Z" fill="url(#a224)" stroke="#0f0f5c"/>
<path d="M178.8 433.4L189.6 422.1L174.1 395.7L163.3 410.0Z" fill="#00008f" stroke="#000047"/>
<path d="M566.3 509.0L577.1 509.8L561.6 538.8L550.8 536.8Z" fill="#5d5dff" stroke="#22225c"/>
<path d="M362.5 547.4L373.3 549.3L357.8 532.8L347.0 531.9Z" fill="#000095" stroke="#00004b"/>
<path d="M336.2 531.1L347.0 531.9L331.6 512.4L320.8 513.0Z" fill="#000094" stroke="#00004a"/>
<path d="M310.0 513.5L320.8 513.0L305.3 491.1L294.5 493.3Z" fill="#000093" stroke="#00004a"/>
<path d="M388.7 561.6L399.5 564.5L384.1 551.3L373.3 549.3Z" fill="#000096" stroke="#00004b"/>
<path d="M205.0 445.9L215.8 437.2L200.4 410.8L189.6 422.1Z" fill="#000090" stroke="#000048"/>
<path d="M283.7 495.5L294.5 493.3L279.1 469.5L268.3 473.6Z" fill="#000092" stroke="#000049"/>
<path d="M643.7 286.5L654.5 277.8L639.0 335.8L628.2 342.1Z" fill="url(#a223)" stroke="#0a0a5c"/>
<path d="M257.5 477.7L268.3 473.6L252.9 448.4L242.1 454.6Z" fill="#000091" stroke="#000049"/>
<path d="M231.3 460.9L242.1 454.6L226.6 428.6L215.8 437.2Z" fill="#000091" stroke="#000048"/>
<path d="M414.9 573.1L425.8 576.5L410.3 567.3L399.5 564.5Z" fill="#000097" stroke="#00004b"/>
<path d="M509.1 572.3L519.9 575.8L504.5 587.0L493.7 583.1Z" fill="url(#a219)" stroke="#0f0f5c"/>
<path d="M441.2 581.0L452.0 584.8L436.6 580.0L425.8 576.5Z" fill="#0404d6" stroke="#01014d"/>
<path d="M550.8 536.8L561.6 538.8L546.2 562.0L535.4 559.1Z" fill="url(#a228)" stroke="#1f1f5c"/>
<path d="M659.2 225.3L670.0 214.0L654.5 277.8L643.7 286.5Z" fill="url(#a222)" stroke="#07075c"/>
<path d="M467.4 584.6L478.2 588.6L462.8 588.7L452.0 584.8Z" fill="#0606ff" stroke="#02025c"/>
<path d="M535.4 559.1L546.2 562.0L530.7 579.3L519.9 575.8Z" fill="url(#a229)" stroke="#18185c"/>
<path d="M493.7 583.1L504.5 587.0L489.0 592.6L478.2 588.6Z" fill="url(#a220)" stroke="#06065c"/>
<path d="M674.7 158.6L685.5 144.4L670.0 214.0L659.2 225.3Z" fill="url(#a221)" stroke="#05055c"/>
<path d="M608.0 434.4L618.8 432.2L603.4 474.5L592.5 475.0Z" fill="url(#a237)" stroke="#1b1b5c"/>
<path d="M623.5 388.0L634.3 383.9L618.8 432.2L608.0 434.4Z" fill="url(#a236)" stroke="#15155c"/>
<path d="M592.5 475.0L603.4 474.5L587.9 510.6L577.1 509.8Z" fill="url(#a238)" stroke="#20205c"/>
<path d="M639.0 335.8L649.8 329.6L634.3 383.9L623.5 388.0Z" fill="url(#a235)" stroke="#0f0f5c"/>
<path d="M577.1 509.8L587.9 510.6L572.4 540.8L561.6 538.8Z" fill="#5d5dff" stroke="#22225c"/>
<path d="M373.3 549.3L384.1 551.3L368.6 533.6L357.8 532.8Z" fill="#000096" stroke="#00004b"/>
<path d="M399.5 564.5L410.3 567.3L394.9 553.3L384.1 551.3Z" fill="#000097" stroke="#00004b"/>
<path d="M347.0 531.9L357.8 532.8L342.4 511.9L331.6 512.4Z" fill="#000095" stroke="#00004b"/>
<path d="M320.8 513.0L331.6 512.4L316.2 488.9L305.3 491.1Z" fill="#000094" stroke="#00004a"/>
<path d="M425.8 576.5L436.6 580.0L421.1 570.2L410.3 567.3Z" fill="#000098" stroke="#00004c"/>
<path d="M519.9 575.8L530.7 579.3L515.3 590.8L504.5 587.0Z" fill="url(#a230)" stroke="#0f0f5c"/>
<path d="M294.5 493.3L305.3 491.1L289.9 465.4L279.1 469.5Z" fill="#000093" stroke="#00004a"/>
<path d="M268.3 473.6L279.1 469.5L263.7 442.1L252.9 448.4Z" fill="#000092" stroke="#000049"/>
<path d="M452.0 584.8L462.8 588.7L447.4 583.5L436.6 580.0Z" fill="#0404d6" stroke="#01014d"/>
<path d="M189.6 422.1L200.4 410.8L184.9 381.5L174.1 395.7Z" fill="#000090" stroke="#000048"/>
<path d="M654.5 277.8L665.3 269.2L649.8 329.6L639.0 335.8Z" fill="url(#a234)" stroke="#0a0a5c"/>
<path d="M242.1 454.6L252.9 448.4L237.4 419.9L226.6 428.6Z" fill="#000091" stroke="#000049"/>
<path d="M215.8 437.2L226.6 428.6L211.2 399.4L200.4 410.8Z" fill="#000091" stroke="#000048"/>
<path d="M561.6 538.8L572.4 540.8L557.0 564.8L546.2 562.0Z" fill="url(#a239)" stroke="#1f1f5c"/>
<path d="M478.2 588.6L489.0 592.6L473.6 592.6L462.8 588.7Z" fill="#0606ff" stroke="#02025c"/>
<path d="M670.0 214.0L680.9 202.7L665.3 269.2L654.5 277.8Z" fill="url(#a233)" stroke="#07075c"/>
<path d="M546.2 562.0L557.0 564.8L541.5 582.8L530.7 579.3Z" fill="url(#a240)" stroke="#18185c"/>
<path d="M504.5 587.0L515.3 590.8L499.8 596.6L489.0 592.6Z" fill="url(#a231)" stroke="#06065c"/>
<path d="M410.3 567.3L421.1 570.2L405.7 555.3L394.9 553.3Z" fill="#000098" stroke="#00004c"/>
<path d="M384.1 551.3L394.9 553.3L379.4 534.4L368.6 533.6Z" fill="#000097" stroke="#00004b"/>
<path d="M685.5 144.4L696.4 130.2L680.9 202.7L670.0 214.0Z" fill="url(#a232)" stroke="#05055c"/>
<path d="M357.8 532.8L368.6 533.6L353.2 511.3L342.4 511.9Z" fill="#000096" stroke="#00004b"/>
<path d="M436.6 580.0L447.4 583.5L431.9 573.0L421.1 570.2Z" fill="#000099" stroke="#00004c"/>
<path d="M530.7 579.3L541.5 582.8L526.1 594.7L515.3 590.8Z" fill="url(#a241)" stroke="#0f0f5c"/>
<path d="M331.6 512.4L342.4 511.9L327.0 486.7L316.2 488.9Z" fill="#000095" stroke="#00004b"/>
<path d="M462.8 588.7L473.6 592.6L458.2 587.0L447.4 583.5Z" fill="#0202c2" stroke="#010161"/>
<path d="M305.3 491.1L316.2 488.9L300.7 461.3L289.9 465.4Z" fill="#000094" stroke="#00004a"/>
<path d="M279.1 469.5L289.9 465.4L274.5 435.9L263.7 442.1Z" fill="#000093" stroke="#00004a"/>
<path d="M489.0 592.6L499.8 596.6L484.4 596.4L473.6 592.6Z" fill="#0606ff" stroke="#02025c"/>
<path d="M252.9 448.4L263.7 442.1L248.2 411.2L237.4 419.9Z" fill="#000092" stroke="#000049"/>
<path d="M226.6 428.6L237.4 419.9L222.0 388.1L211.2 399.4Z" fill="#000091" stroke="#000049"/>
<path d="M200.4 410.8L211.2 399.4L195.7 367.3L184.9 381.5Z" fill="#000091" stroke="#000048"/>
<path d="M515.3 590.8L526.1 594.7L510.6 600.5L499.8 596.6Z" fill="url(#a242)" stroke="#06065c"/>
<path d="M421.1 570.2L431.9 573.0L416.5 557.2L405.7 555.3Z" fill="#000099" stroke="#00004c"/>
<path d="M394.9 553.3L405.7 555.3L390.3 535.3L379.4 534.4Z" fill="#000098" stroke="#00004c"/>
<path d="M447.4 583.5L458.2 587.0L442.7 575.9L431.9 573.0Z" fill="#00009a" stroke="#00004d"/>
<path d="M368.6 533.6L379.4 534.4L364.0 510.8L353.2 511.3Z" fill="#000097" stroke="#00004b"/>
<path d="M473.6 592.6L484.4 596.4L469.0 590.5L458.2 587.0Z" fill="#0202c3" stroke="#010161"/>
<path d="M342.4 511.9L353.2 511.3L337.8 484.5L327.0 486.7Z" fill="#000096" stroke="#00004b"/>
<path d="M316.2 488.9L327.0 486.7L311.5 457.2L300.7 461.3Z" fill="#000095" stroke="#00004b"/>
<path d="M499.8 596.6L510.6 600.5L495.2 600.3L484.4 596.4Z" fill="#0606ff" stroke="#02025c"/>
<path d="M289.9 465.4L300.7 461.3L285.3 429.6L274.5 435.9Z" fill="#000094" stroke="#00004a"/>
<path d="M263.7 442.1L274.5 435.9L259.0 402.6L248.2 411.2Z" fill="#000093" stroke="#00004a"/>
<path d="M237.4 419.9L248.2 411.2L232.8 376.8L222.0 388.1Z" fill="#000092" stroke="#000049"/>
<path d="M211.2 399.4L222.0 388.1L206.5 353.0L195.7 367.3Z" fill="#000091" stroke="#000049"/>
<path d="M431.9 573.0L442.7 575.9L427.3 559.2L416.5 557.2Z" fill="#00009a" stroke="#00004d"/>
<path d="M458.2 587.0L469.0 590.5L453.5 578.8L442.7 575.9Z" fill="#00009b" stroke="#00004d"/>
<path d="M405.7 555.3L416.5 557.2L401.1 536.1L390.3 535.3Z" fill="#000099" stroke="#00004c"/>
<path d="M484.4 596.4L495.2 600.3L479.8 594.0L469.0 590.5Z" fill="#0202c3" stroke="#010162"/>
<path d="M379.4 534.4L390.3 535.3L374.8 510.2L364.0 510.8Z" fill="#000098" stroke="#00004c"/>
<path d="M353.2 511.3L364.0 510.8L348.6 482.3L337.8 484.5Z" fill="#000097" stroke="#00004b"/>
<path d="M327.0 486.7L337.8 484.5L322.3 453.1L311.5 457.2Z" fill="#000096" stroke="#00004b"/>
<path d="M300.7 461.3L311.5 457.2L296.1 423.4L285.3 429.6Z" fill="#000095" stroke="#00004b"/>
<path d="M274.5 435.9L285.3 429.6L269.8 393.9L259.0 402.6Z" fill="#000094" stroke="#00004a"/>
<path d="M248.2 411.2L259.0 402.6L243.6 365.5L232.8 376.8Z" fill="#000093" stroke="#00004a"/>
<path d="M222.0 388.1L232.8 376.8L217.3 338.8L206.5 353.0Z" fill="#000092" stroke="#000049"/>
<path d="M442.7 575.9L453.5 578.8L438.1 561.2L427.3 559.2Z" fill="#00009b" stroke="#00004d"/>
<path d="M469.0 590.5L479.8 594.0L464.3 581.6L453.5 578.8Z" fill="#00009c" stroke="#00004e"/>
<path d="M416.5 557.2L427.3 559.2L411.9 536.9L401.1 536.1Z" fill="#00009a" stroke="#00004d"/>
<path d="M390.3 535.3L401.1 536.1L385.6 509.6L374.8 510.2Z" fill="#000099" stroke="#00004c"/>
<path d="M364.0 510.8L374.8 510.2L359.4 480.1L348.6 482.3Z" fill="#000098" stroke="#00004c"/>
<path d="M337.8 484.5L348.6 482.3L333.1 449.0L322.3 453.1Z" fill="#000097" stroke="#00004b"/>
<path d="M311.5 457.2L322.3 453.1L306.9 417.1L296.1 423.4Z" fill="#000096" stroke="#00004b"/>
<path d="M285.3 429.6L296.1 423.4L280.6 385.2L269.8 393.9Z" fill="#000095" stroke="#00004b"/>
<path d="M453.5 578.8L464.3 581.6L448.9 563.1L438.1 561.2Z" fill="#00009c" stroke="#00004e"/>
<path d="M427.3 559.2L438.1 561.2L422.7 537.8L411.9 536.9Z" fill="#00009b" stroke="#00004d"/>
<path d="M259.0 402.6L269.8 393.9L254.4 354.1L243.6 365.5Z" fill="#000094" stroke="#00004a"/>
<path d="M401.1 536.1L411.9 536.9L396.4 509.1L385.6 509.6Z" fill="#00009a" stroke="#00004d"/>
<path d="M232.8 376.8L243.6 365.5L228.1 324.6L217.3 338.8Z" fill="#000093" stroke="#00004a"/>
<path d="M374.8 510.2L385.6 509.6L370.2 477.9L359.4 480.1Z" fill="#000099" stroke="#00004c"/>
<path d="M348.6 482.3L359.4 480.1L343.9 444.9L333.1 449.0Z" fill="#000098" stroke="#00004c"/>
<path d="M322.3 453.1L333.1 449.0L317.7 410.8L306.9 417.1Z" fill="#000097" stroke="#00004b"/>
<path d="M296.1 423.4L306.9 417.1L291.4 376.6L280.6 385.2Z" fill="#000096" stroke="#00004b"/>
<path d="M438.1 561.2L448.9 563.1L433.5 538.6L422.7 537.8Z" fill="#00009c" stroke="#00004e"/>
<path d="M411.9 536.9L422.7 537.8L407.2 508.5L396.4 509.1Z" fill="#00009b" stroke="#00004d"/>
<path d="M269.8 393.9L280.6 385.2L265.2 342.8L254.4 354.1Z" fill="#000095" stroke="#00004b"/>
<path d="M385.6 509.6L396.4 509.1L381.0 475.6L370.2 477.9Z" fill="#00009a" stroke="#00004d"/>
<path d="M243.6 365.5L254.4 354.1L238.9 310.3L228.1 324.6Z" fill="#000094" stroke="#00004a"/>
<path d="M359.4 480.1L370.2 477.9L354.7 440.8L343.9 444.9Z" fill="#000099" stroke="#00004c"/>
<path d="M333.1 449.0L343.9 444.9L328.5 404.6L317.7 410.8Z" fill="#000098" stroke="#00004c"/>
<path d="M306.9 417.1L317.7 410.8L302.2 367.9L291.4 376.6Z" fill="#000097" stroke="#00004b"/>
<path d="M422.7 537.8L433.5 538.6L418.0 508.0L407.2 508.5Z" fill="#00009c" stroke="#00004e"/>
<path d="M280.6 385.2L291.4 376.6L276.0 331.5L265.2 342.8Z" fill="#000096" stroke="#00004b"/>
<path d="M396.4 509.1L407.2 508.5L391.8 473.4L381.0 475.6Z" fill="#00009b" stroke="#00004d"/>
<path d="M254.4 354.1L265.2 342.8L249.7 296.1L238.9 310.3Z" fill="#000095" stroke="#00004b"/>
<path d="M370.2 477.9L381.0 475.6L365.5 436.6L354.7 440.8Z" fill="#00009a" stroke="#00004d"/>
<path d="M343.9 444.9L354.7 440.8L339.3 398.3L328.5 404.6Z" fill="#000099" stroke="#00004c"/>
<path d="M317.7 410.8L328.5 404.6L313.0 359.2L302.2 367.9Z" fill="#000098" stroke="#00004c"/>
<path d="M407.2 508.5L418.0 508.0L402.6 471.2L391.8 473.4Z" fill="#00009c" stroke="#00004e"/>
<path d="M291.4 376.6L302.2 367.9L286.8 320.1L276.0 331.5Z" fill="#000097" stroke="#00004b"/>
<path d="M381.0 475.6L391.8 473.4L376.3 432.5L365.5 436.6Z" fill="#00009b" stroke="#00004d"/>
<path d="M265.2 342.8L276.0 331.5L260.5 281.8L249.7 296.1Z" fill="#000096" stroke="#00004b"/>
<path d="M354.7 440.8L365.5 436.6L350.1 392.0L339.3 398.3Z" fill="#00009a" stroke="#00004d"/>
<path d="M328.5 404.6L339.3 398.3L323.8 350.5L313.0 359.2Z" fill="#000099" stroke="#00004c"/>
<path d="M302.2 367.9L313.0 359.2L297.6 308.8L286.8 320.1Z" fill="#000098" stroke="#00004c"/>
<path d="M391.8 473.4L402.6 471.2L387.1 428.4L376.3 432.5Z" fill="#00009c" stroke="#00004e"/>
<path d="M276.0 331.5L286.8 320.1L271.3 267.5L260.5 281.8Z" fill="#000097" stroke="#00004b"/>
<path d="M365.5 436.6L376.3 432.5L360.9 385.8L350.1 392.0Z" fill="#00009b" stroke="#00004d"/>
<path d="M339.3 398.3L350.1 392.0L334.6 341.9L323.8 350.5Z" fill="#00009a" stroke="#00004d"/>
<path d="M313.0 359.2L323.8 350.5L308.4 297.5L297.6 308.8Z" fill="#000099" stroke="#00004c"/>
<path d="M376.3 432.5L387.1 428.4L371.7 379.5L360.9 385.8Z" fill="#00009c" stroke="#00004e"/>
<path d="M286.8 320.1L297.6 308.8L282.1 253.3L271.3 267.5Z" fill="#000098" stroke="#00004c"/>
<path d="M350.1 392.0L360.9 385.8L345.4 333.2L334.6 341.9Z" fill="#00009b" stroke="#00004d"/>
<path d="M323.8 350.5L334.6 341.9L319.2 286.1L308.4 297.5Z" fill="#00009a" stroke="#00004d"/>
<path d="M297.6 308.8L308.4 297.5L292.9 239.0L282.1 253.3Z" fill="#000099" stroke="#00004c"/>
<path d="M360.9 385.8L371.7 379.5L356.2 324.5L345.4 333.2Z" fill="#00009c" stroke="#00004e"/>
<path d="M334.6 341.9L345.4 333.2L330.0 274.8L319.2 286.1Z" fill="#00009b" stroke="#00004d"/>
<path d="M308.4 297.5L319.2 286.1L303.7 224.8L292.9 239.0Z" fill="#00009a" stroke="#00004d"/>
<path d="M345.4 333.2L356.2 324.5L340.8 263.4L330.0 274.8Z" fill="#00009c" stroke="#00004e"/>
<path d="M319.2 286.1L330.0 274.8L314.5 210.5L303.7 224.8Z" fill="#00009b" stroke="#00004d"/>
<path d="M330.0 274.8L340.8 263.4L325.3 196.2L314.5 210.5Z" fill="#00009c" stroke="#00004e"/>
</g>
<g stroke="#000" fill="none">
<line x1="66.2" y1="537.8" x2="65.9" y2="100.9" stroke-width="2.4"/>
<line x1="695.9" y1="566.9" x2="696.4" y2="130.2" stroke-width="2.7"/>
<line x1="325.4" y1="634.2" x2="325.3" y2="196.2" stroke-width="2.7"/>
<path d="M65.9 100.9L436.4 34.9L696.4 130.2L325.3 196.2Z" stroke-width="2.4" stroke-linejoin="round"/>
<path d="M66.2 537.8L325.4 634.2L695.9 566.9" stroke-width="2.4" stroke-linejoin="round"/>
<line x1="47.7" y1="537.8" x2="66.2" y2="537.8" stroke-width="2.6"/>
<line x1="56.7" y1="494.1" x2="66.2" y2="494.1" stroke-width="2.6"/>
<line x1="47.6" y1="450.4" x2="66.1" y2="450.4" stroke-width="2.6"/>
<line x1="56.6" y1="406.7" x2="66.1" y2="406.7" stroke-width="2.6"/>
<line x1="47.6" y1="363.0" x2="66.1" y2="363.0" stroke-width="2.6"/>
<line x1="56.6" y1="319.3" x2="66.1" y2="319.3" stroke-width="2.6"/>
<line x1="47.5" y1="275.7" x2="66.0" y2="275.7" stroke-width="2.6"/>
<line x1="56.5" y1="232.0" x2="66.0" y2="232.0" stroke-width="2.6"/>
<line x1="47.5" y1="188.3" x2="66.0" y2="188.3" stroke-width="2.6"/>
<line x1="56.4" y1="144.6" x2="65.9" y2="144.6" stroke-width="2.6"/>
<line x1="47.4" y1="100.9" x2="65.9" y2="100.9" stroke-width="2.6"/>
<line x1="66.2" y1="537.8" x2="66.2" y2="555.8" stroke-width="2.6"/>
<line x1="92.1" y1="547.4" x2="92.1" y2="556.4" stroke-width="2.6"/>
<line x1="118.0" y1="557.1" x2="118.0" y2="575.1" stroke-width="2.6"/>
<line x1="144.0" y1="566.7" x2="144.0" y2="575.7" stroke-width="2.6"/>
<line x1="169.9" y1="576.4" x2="169.9" y2="594.4" stroke-width="2.6"/>
<line x1="195.8" y1="586.0" x2="195.8" y2="595.0" stroke-width="2.6"/>
<line x1="221.7" y1="595.6" x2="221.7" y2="613.6" stroke-width="2.6"/>
<line x1="247.6" y1="605.3" x2="247.6" y2="614.3" stroke-width="2.6"/>
<line x1="273.6" y1="614.9" x2="273.6" y2="632.9" stroke-width="2.6"/>
<line x1="299.5" y1="624.6" x2="299.5" y2="633.6" stroke-width="2.6"/>
<line x1="325.4" y1="634.2" x2="325.4" y2="652.2" stroke-width="2.6"/>
<line x1="343.9" y1="630.8" x2="343.9" y2="639.8" stroke-width="2.6"/>
<line x1="362.4" y1="627.5" x2="362.4" y2="636.5" stroke-width="2.6"/>
<line x1="381.0" y1="624.1" x2="381.0" y2="633.1" stroke-width="2.6"/>
<line x1="399.5" y1="620.7" x2="399.5" y2="629.7" stroke-width="2.6"/>
<line x1="418.0" y1="617.4" x2="418.0" y2="635.4" stroke-width="2.6"/>
<line x1="436.5" y1="614.0" x2="436.5" y2="623.0" stroke-width="2.6"/>
<line x1="455.1" y1="610.6" x2="455.1" y2="619.6" stroke-width="2.6"/>
<line x1="473.6" y1="607.3" x2="473.6" y2="616.3" stroke-width="2.6"/>
<line x1="492.1" y1="603.9" x2="492.1" y2="612.9" stroke-width="2.6"/>
<line x1="510.6" y1="600.5" x2="510.6" y2="618.5" stroke-width="2.6"/>
<line x1="529.2" y1="597.2" x2="529.2" y2="606.2" stroke-width="2.6"/>
<line x1="547.7" y1="593.8" x2="547.7" y2="602.8" stroke-width="2.6"/>
<line x1="566.2" y1="590.5" x2="566.2" y2="599.5" stroke-width="2.6"/>
<line x1="584.8" y1="587.1" x2="584.8" y2="596.1" stroke-width="2.6"/>
<line x1="603.3" y1="583.7" x2="603.3" y2="601.7" stroke-width="2.6"/>
<line x1="621.8" y1="580.4" x2="621.8" y2="589.4" stroke-width="2.6"/>
<line x1="640.3" y1="577.0" x2="640.3" y2="586.0" stroke-width="2.6"/>
<line x1="658.8" y1="573.6" x2="658.8" y2="582.6" stroke-width="2.6"/>
<line x1="677.4" y1="570.3" x2="677.4" y2="579.3" stroke-width="2.6"/>
<line x1="695.9" y1="566.9" x2="695.9" y2="584.9" stroke-width="2.6"/>
</g>
<g class="tk">
<text x="50.8" y="549.4" text-anchor="end">0</text>
<text x="47.8" y="462.0" text-anchor="end">0.2</text>
<text x="48.2" y="374.6" text-anchor="end">0.4</text>
<text x="47.4" y="287.3" text-anchor="end">0.6</text>
<text x="45.7" y="199.9" text-anchor="end">0.8</text>
<text x="49.3" y="112.5" text-anchor="end">1</text>
<text x="66.5" y="587.8" text-anchor="middle">0</text>
<text x="118.3" y="607.1" text-anchor="middle">0.2</text>
<text x="170.2" y="626.4" text-anchor="middle">0.4</text>
<text x="222.0" y="645.6" text-anchor="middle">0.6</text>
<text x="273.9" y="664.9" text-anchor="middle">0.8</text>
<text x="325.7" y="684.2" text-anchor="middle">1</text>
<text x="418.3" y="667.9" text-anchor="middle">0.5</text>
<text x="510.9" y="651.0" text-anchor="middle">0</text>
<text transform="translate(576.2 635.0) scale(0.72 1)">−</text><text x="594.4" y="634.0">0.5</text>
<g clip-path="url(#clipL)"><text transform="translate(681.5 617.1) scale(0.72 1)">−</text><text x="699.1" y="616.1">1</text></g>
</g>
<text class="ax" x="196.2" y="685.9" text-anchor="middle">ξ</text>
<text class="ax" x="511.2" y="715.9" text-anchor="middle">ω</text>
</g>
<g id="right">
<g stroke="#000" stroke-linecap="butt" fill="none">
<line x1="883.6" y1="550.4" x2="1254.3" y2="483.8" stroke-width="2.6"/>
<line x1="1254.3" y1="483.8" x2="1514.3" y2="579.0" stroke-width="2.6"/>
<line x1="1254.3" y1="483.8" x2="1254.3" y2="46.4" stroke-width="3.0"/>
</g>
<g stroke-width="1.7" stroke-linejoin="round">
<defs><linearGradient id="b0" gradientUnits="userSpaceOnUse" x1="1167.0" y1="500.2" x2="1167.0" y2="503.8"><stop stop-color="#fdf191"/><stop offset="1" stop-color="#fdfb9c"/></linearGradient><linearGradient id="b1" gradientUnits="userSpaceOnUse" x1="1136.1" y1="507.0" x2="1134.7" y2="513.3"><stop stop-color="#fdf99a"/><stop offset="1" stop-color="#fdea8a"/></linearGradient><linearGradient id="b2" gradientUnits="userSpaceOnUse" x1="1120.7" y1="510.2" x2="1118.7" y2="517.2"><stop stop-color="#fdea8a"/><stop offset="1" stop-color="#fdd471"/></linearGradient><linearGradient id="b3" gradientUnits="userSpaceOnUse" x1="1105.3" y1="513.3" x2="1102.8" y2="520.7"><stop stop-color="#fdd471"/><stop offset="1" stop-color="#fcba54"/></linearGradient><linearGradient id="b4" gradientUnits="userSpaceOnUse" x1="1089.8" y1="516.3" x2="1087.1" y2="523.7"><stop stop-color="#fcba54"/><stop offset="1" stop-color="#fca63e"/></linearGradient><linearGradient id="b5" gradientUnits="userSpaceOnUse" x1="1193.3" y1="494.3" x2="1193.7" y2="497.5"><stop stop-color="#fde17f"/><stop offset="1" stop-color="#fdf191"/></linearGradient><linearGradient id="b6" gradientUnits="userSpaceOnUse" x1="1177.9" y1="499.6" x2="1177.8" y2="504.6"><stop stop-color="#fdf191"/><stop offset="1" stop-color="#fdfb9c"/></linearGradient><linearGradient id="b7" gradientUnits="userSpaceOnUse" x1="1147.0" y1="508.9" x2="1145.4" y2="516.1"><stop stop-color="#fdf99a"/><stop offset="1" stop-color="#fdea8a"/></linearGradient><linearGradient id="b8" gradientUnits="userSpaceOnUse" x1="1131.5" y1="513.0" x2="1129.3" y2="520.6"><stop stop-color="#fdea8a"/><stop offset="1" stop-color="#fdd471"/></linearGradient><linearGradient id="b9" gradientUnits="userSpaceOnUse" x1="1116.1" y1="516.8" x2="1113.5" y2="524.5"><stop stop-color="#fdd471"/><stop offset="1" stop-color="#fcba54"/></linearGradient><linearGradient id="b10" gradientUnits="userSpaceOnUse" x1="1100.6" y1="520.1" x2="1097.9" y2="527.7"><stop stop-color="#fcba54"/><stop offset="1" stop-color="#fca63e"/></linearGradient><linearGradient id="b11" gradientUnits="userSpaceOnUse" x1="1219.6" y1="484.6" x2="1220.4" y2="487.3"><stop stop-color="#fcd06c"/><stop offset="1" stop-color="#fde17f"/></linearGradient><linearGradient id="b12" gradientUnits="userSpaceOnUse" x1="1204.1" y1="492.1" x2="1204.8" y2="496.9"><stop stop-color="#fde17f"/><stop offset="1" stop-color="#fdf191"/></linearGradient><linearGradient id="b13" gradientUnits="userSpaceOnUse" x1="1188.7" y1="499.0" x2="1188.6" y2="505.4"><stop stop-color="#fdf191"/><stop offset="1" stop-color="#fdfb9c"/></linearGradient><linearGradient id="b14" gradientUnits="userSpaceOnUse" x1="1157.8" y1="510.9" x2="1156.0" y2="518.9"><stop stop-color="#fdf99a"/><stop offset="1" stop-color="#fdea8a"/></linearGradient><linearGradient id="b15" gradientUnits="userSpaceOnUse" x1="1142.4" y1="515.9" x2="1140.0" y2="524.1"><stop stop-color="#fdea8a"/><stop offset="1" stop-color="#fdd471"/></linearGradient><linearGradient id="b16" gradientUnits="userSpaceOnUse" x1="1126.9" y1="520.3" x2="1124.2" y2="528.3"><stop stop-color="#fdd471"/><stop offset="1" stop-color="#fcba54"/></linearGradient><linearGradient id="b17" gradientUnits="userSpaceOnUse" x1="1111.5" y1="524.0" x2="1108.7" y2="531.7"><stop stop-color="#fcba54"/><stop offset="1" stop-color="#fca63e"/></linearGradient><linearGradient id="b18" gradientUnits="userSpaceOnUse" x1="1245.9" y1="470.1" x2="1247.0" y2="472.5"><stop stop-color="#fcc15c"/><stop offset="1" stop-color="#fcd06c"/></linearGradient><linearGradient id="b19" gradientUnits="userSpaceOnUse" x1="1230.4" y1="480.5" x2="1231.8" y2="485.0"><stop stop-color="#fcd06c"/><stop offset="1" stop-color="#fde17f"/></linearGradient><linearGradient id="b20" gradientUnits="userSpaceOnUse" x1="1215.0" y1="489.9" x2="1215.8" y2="496.3"><stop stop-color="#fde17f"/><stop offset="1" stop-color="#fdf191"/></linearGradient><linearGradient id="b21" gradientUnits="userSpaceOnUse" x1="1199.5" y1="498.4" x2="1199.4" y2="506.3"><stop stop-color="#fdf191"/><stop offset="1" stop-color="#fdfb9c"/></linearGradient><linearGradient id="b22" gradientUnits="userSpaceOnUse" x1="1168.6" y1="512.9" x2="1166.7" y2="521.7"><stop stop-color="#fdf99a"/><stop offset="1" stop-color="#fdea8a"/></linearGradient><linearGradient id="b23" gradientUnits="userSpaceOnUse" x1="1153.2" y1="518.7" x2="1150.6" y2="527.5"><stop stop-color="#fdea8a"/><stop offset="1" stop-color="#fdd471"/></linearGradient><linearGradient id="b24" gradientUnits="userSpaceOnUse" x1="1137.7" y1="523.7" x2="1134.9" y2="532.1"><stop stop-color="#fdd471"/><stop offset="1" stop-color="#fcba54"/></linearGradient><linearGradient id="b25" gradientUnits="userSpaceOnUse" x1="1122.3" y1="527.9" x2="1119.5" y2="535.7"><stop stop-color="#fcba54"/><stop offset="1" stop-color="#fca63e"/></linearGradient><linearGradient id="b26" gradientUnits="userSpaceOnUse" x1="1272.2" y1="450.2" x2="1273.5" y2="452.2"><stop stop-color="#fcb650"/><stop offset="1" stop-color="#fcc15c"/></linearGradient><linearGradient id="b27" gradientUnits="userSpaceOnUse" x1="1256.7" y1="463.9" x2="1258.7" y2="468.0"><stop stop-color="#fcc15c"/><stop offset="1" stop-color="#fcd06c"/></linearGradient><linearGradient id="b28" gradientUnits="userSpaceOnUse" x1="1241.3" y1="476.3" x2="1243.1" y2="482.6"><stop stop-color="#fcd06c"/><stop offset="1" stop-color="#fde17f"/></linearGradient><linearGradient id="b29" gradientUnits="userSpaceOnUse" x1="1225.8" y1="487.7" x2="1226.9" y2="495.7"><stop stop-color="#fde17f"/><stop offset="1" stop-color="#fdf191"/></linearGradient><linearGradient id="b30" gradientUnits="userSpaceOnUse" x1="1210.4" y1="497.9" x2="1210.3" y2="507.1"><stop stop-color="#fdf191"/><stop offset="1" stop-color="#fdfb9c"/></linearGradient><linearGradient id="b31" gradientUnits="userSpaceOnUse" x1="1179.5" y1="514.8" x2="1177.3" y2="524.5"><stop stop-color="#fdf99a"/><stop offset="1" stop-color="#fdea8a"/></linearGradient><linearGradient id="b32" gradientUnits="userSpaceOnUse" x1="1164.0" y1="521.6" x2="1161.3" y2="530.9"><stop stop-color="#fdea8a"/><stop offset="1" stop-color="#fdd471"/></linearGradient><linearGradient id="b33" gradientUnits="userSpaceOnUse" x1="1148.6" y1="527.2" x2="1145.6" y2="536.0"><stop stop-color="#fdd471"/><stop offset="1" stop-color="#fcba54"/></linearGradient><linearGradient id="b34" gradientUnits="userSpaceOnUse" x1="1133.1" y1="531.7" x2="1130.2" y2="539.6"><stop stop-color="#fcba54"/><stop offset="1" stop-color="#fca63e"/></linearGradient><linearGradient id="b35" gradientUnits="userSpaceOnUse" x1="1298.4" y1="424.1" x2="1300.0" y2="425.8"><stop stop-color="#fcaf48"/><stop offset="1" stop-color="#fcb650"/></linearGradient><linearGradient id="b36" gradientUnits="userSpaceOnUse" x1="1283.0" y1="441.5" x2="1285.5" y2="445.2"><stop stop-color="#fcb650"/><stop offset="1" stop-color="#fcc15c"/></linearGradient><linearGradient id="b37" gradientUnits="userSpaceOnUse" x1="1267.5" y1="457.6" x2="1270.4" y2="463.4"><stop stop-color="#fcc15c"/><stop offset="1" stop-color="#fcd06c"/></linearGradient><linearGradient id="b38" gradientUnits="userSpaceOnUse" x1="1252.1" y1="472.2" x2="1254.4" y2="480.2"><stop stop-color="#fcd06c"/><stop offset="1" stop-color="#fde17f"/></linearGradient><linearGradient id="b39" gradientUnits="userSpaceOnUse" x1="1236.6" y1="485.4" x2="1237.9" y2="495.1"><stop stop-color="#fde17f"/><stop offset="1" stop-color="#fdf191"/></linearGradient><linearGradient id="b40" gradientUnits="userSpaceOnUse" x1="1221.2" y1="497.3" x2="1221.1" y2="507.9"><stop stop-color="#fdf191"/><stop offset="1" stop-color="#fdfb9c"/></linearGradient><linearGradient id="b41" gradientUnits="userSpaceOnUse" x1="1190.3" y1="516.8" x2="1187.9" y2="527.4"><stop stop-color="#fdf99a"/><stop offset="1" stop-color="#fdea8a"/></linearGradient><linearGradient id="b42" gradientUnits="userSpaceOnUse" x1="1174.8" y1="524.4" x2="1171.9" y2="534.4"><stop stop-color="#fdea8a"/><stop offset="1" stop-color="#fdd471"/></linearGradient><linearGradient id="b43" gradientUnits="userSpaceOnUse" x1="1159.4" y1="530.7" x2="1156.3" y2="539.8"><stop stop-color="#fdd471"/><stop offset="1" stop-color="#fcba54"/></linearGradient><linearGradient id="b44" gradientUnits="userSpaceOnUse" x1="1143.9" y1="535.6" x2="1141.0" y2="543.6"><stop stop-color="#fcba54"/><stop offset="1" stop-color="#fca63e"/></linearGradient><linearGradient id="b45" gradientUnits="userSpaceOnUse" x1="1324.7" y1="391.1" x2="1326.4" y2="392.5"><stop stop-color="#fcaa43"/><stop offset="1" stop-color="#fcaf48"/></linearGradient><linearGradient id="b46" gradientUnits="userSpaceOnUse" x1="1309.3" y1="412.8" x2="1312.2" y2="415.9"><stop stop-color="#fcaf48"/><stop offset="1" stop-color="#fcb650"/></linearGradient><linearGradient id="b47" gradientUnits="userSpaceOnUse" x1="1293.8" y1="432.8" x2="1297.5" y2="438.1"><stop stop-color="#fcb650"/><stop offset="1" stop-color="#fcc15c"/></linearGradient><linearGradient id="b48" gradientUnits="userSpaceOnUse" x1="1278.4" y1="451.3" x2="1282.0" y2="458.9"><stop stop-color="#fcc15c"/><stop offset="1" stop-color="#fcd06c"/></linearGradient><linearGradient id="b49" gradientUnits="userSpaceOnUse" x1="1262.9" y1="468.1" x2="1265.8" y2="477.8"><stop stop-color="#fcd06c"/><stop offset="1" stop-color="#fde17f"/></linearGradient><linearGradient id="b50" gradientUnits="userSpaceOnUse" x1="1247.5" y1="483.2" x2="1248.9" y2="494.5"><stop stop-color="#fde17f"/><stop offset="1" stop-color="#fdf191"/></linearGradient><linearGradient id="b51" gradientUnits="userSpaceOnUse" x1="1232.0" y1="496.7" x2="1231.9" y2="508.7"><stop stop-color="#fdf191"/><stop offset="1" stop-color="#fdfb9c"/></linearGradient><linearGradient id="b52" gradientUnits="userSpaceOnUse" x1="1201.1" y1="518.7" x2="1198.6" y2="530.2"><stop stop-color="#fdf99a"/><stop offset="1" stop-color="#fdea8a"/></linearGradient><linearGradient id="b53" gradientUnits="userSpaceOnUse" x1="1185.7" y1="527.3" x2="1182.6" y2="537.8"><stop stop-color="#fdea8a"/><stop offset="1" stop-color="#fdd471"/></linearGradient><linearGradient id="b54" gradientUnits="userSpaceOnUse" x1="1170.2" y1="534.2" x2="1167.0" y2="543.6"><stop stop-color="#fdd471"/><stop offset="1" stop-color="#fcba54"/></linearGradient><linearGradient id="b55" gradientUnits="userSpaceOnUse" x1="1154.8" y1="539.5" x2="1151.8" y2="547.6"><stop stop-color="#fcba54"/><stop offset="1" stop-color="#fca63e"/></linearGradient><linearGradient id="b56" gradientUnits="userSpaceOnUse" x1="1335.6" y1="376.8" x2="1338.7" y2="379.4"><stop stop-color="#fcaa43"/><stop offset="1" stop-color="#fcaf48"/></linearGradient><linearGradient id="b57" gradientUnits="userSpaceOnUse" x1="1320.1" y1="401.4" x2="1324.3" y2="406.0"><stop stop-color="#fcaf48"/><stop offset="1" stop-color="#fcb650"/></linearGradient><linearGradient id="b58" gradientUnits="userSpaceOnUse" x1="1304.7" y1="424.1" x2="1309.4" y2="431.0"><stop stop-color="#fcb650"/><stop offset="1" stop-color="#fcc15c"/></linearGradient><linearGradient id="b59" gradientUnits="userSpaceOnUse" x1="1289.2" y1="445.0" x2="1293.7" y2="454.3"><stop stop-color="#fcc15c"/><stop offset="1" stop-color="#fcd06c"/></linearGradient><linearGradient id="b60" gradientUnits="userSpaceOnUse" x1="1273.8" y1="463.9" x2="1277.1" y2="475.4"><stop stop-color="#fcd06c"/><stop offset="1" stop-color="#fde17f"/></linearGradient><linearGradient id="b61" gradientUnits="userSpaceOnUse" x1="1258.3" y1="481.0" x2="1260.0" y2="493.9"><stop stop-color="#fde17f"/><stop offset="1" stop-color="#fdf191"/></linearGradient><linearGradient id="b62" gradientUnits="userSpaceOnUse" x1="1242.9" y1="496.1" x2="1242.7" y2="509.5"><stop stop-color="#fdf191"/><stop offset="1" stop-color="#fdfb9c"/></linearGradient><linearGradient id="b63" gradientUnits="userSpaceOnUse" x1="1212.0" y1="520.7" x2="1209.2" y2="533.0"><stop stop-color="#fdf99a"/><stop offset="1" stop-color="#fdea8a"/></linearGradient><linearGradient id="b64" gradientUnits="userSpaceOnUse" x1="1196.5" y1="530.1" x2="1193.3" y2="541.2"><stop stop-color="#fdea8a"/><stop offset="1" stop-color="#fdd471"/></linearGradient><linearGradient id="b65" gradientUnits="userSpaceOnUse" x1="1181.1" y1="537.7" x2="1177.7" y2="547.4"><stop stop-color="#fdd471"/><stop offset="1" stop-color="#fcba54"/></linearGradient><linearGradient id="b66" gradientUnits="userSpaceOnUse" x1="1165.6" y1="543.3" x2="1162.6" y2="551.6"><stop stop-color="#fcba54"/><stop offset="1" stop-color="#fca63e"/></linearGradient><linearGradient id="b67" gradientUnits="userSpaceOnUse" x1="1346.4" y1="362.5" x2="1351.0" y2="366.4"><stop stop-color="#fcaa43"/><stop offset="1" stop-color="#fcaf48"/></linearGradient><linearGradient id="b68" gradientUnits="userSpaceOnUse" x1="1331.0" y1="390.0" x2="1336.5" y2="396.0"><stop stop-color="#fcaf48"/><stop offset="1" stop-color="#fcb650"/></linearGradient><linearGradient id="b69" gradientUnits="userSpaceOnUse" x1="1315.5" y1="415.4" x2="1321.4" y2="423.9"><stop stop-color="#fcb650"/><stop offset="1" stop-color="#fcc15c"/></linearGradient><linearGradient id="b70" gradientUnits="userSpaceOnUse" x1="1300.1" y1="438.7" x2="1305.4" y2="449.8"><stop stop-color="#fcc15c"/><stop offset="1" stop-color="#fcd06c"/></linearGradient><linearGradient id="b71" gradientUnits="userSpaceOnUse" x1="1284.6" y1="459.8" x2="1288.5" y2="473.0"><stop stop-color="#fcd06c"/><stop offset="1" stop-color="#fde17f"/></linearGradient><linearGradient id="b72" gradientUnits="userSpaceOnUse" x1="1269.1" y1="478.7" x2="1271.0" y2="493.3"><stop stop-color="#fde17f"/><stop offset="1" stop-color="#fdf191"/></linearGradient><linearGradient id="b73" gradientUnits="userSpaceOnUse" x1="1253.7" y1="495.5" x2="1253.5" y2="510.3"><stop stop-color="#fdf191"/><stop offset="1" stop-color="#fdfb9c"/></linearGradient><linearGradient id="b74" gradientUnits="userSpaceOnUse" x1="1222.8" y1="522.7" x2="1219.9" y2="535.8"><stop stop-color="#fdf99a"/><stop offset="1" stop-color="#fdea8a"/></linearGradient><linearGradient id="b75" gradientUnits="userSpaceOnUse" x1="1207.3" y1="533.0" x2="1203.9" y2="544.7"><stop stop-color="#fdea8a"/><stop offset="1" stop-color="#fdd471"/></linearGradient><linearGradient id="b76" gradientUnits="userSpaceOnUse" x1="1191.9" y1="541.2" x2="1188.5" y2="551.3"><stop stop-color="#fdd471"/><stop offset="1" stop-color="#fcba54"/></linearGradient><linearGradient id="b77" gradientUnits="userSpaceOnUse" x1="1176.4" y1="547.2" x2="1173.4" y2="555.6"><stop stop-color="#fcba54"/><stop offset="1" stop-color="#fca63e"/></linearGradient><linearGradient id="b78" gradientUnits="userSpaceOnUse" x1="1357.3" y1="348.2" x2="1363.3" y2="353.3"><stop stop-color="#fcaa43"/><stop offset="1" stop-color="#fcaf48"/></linearGradient><linearGradient id="b79" gradientUnits="userSpaceOnUse" x1="1341.8" y1="378.7" x2="1348.7" y2="386.1"><stop stop-color="#fcaf48"/><stop offset="1" stop-color="#fcb650"/></linearGradient><linearGradient id="b80" gradientUnits="userSpaceOnUse" x1="1326.3" y1="406.7" x2="1333.3" y2="416.9"><stop stop-color="#fcb650"/><stop offset="1" stop-color="#fcc15c"/></linearGradient><linearGradient id="b81" gradientUnits="userSpaceOnUse" x1="1310.9" y1="432.4" x2="1317.1" y2="445.2"><stop stop-color="#fcc15c"/><stop offset="1" stop-color="#fcd06c"/></linearGradient><linearGradient id="b82" gradientUnits="userSpaceOnUse" x1="1295.4" y1="455.7" x2="1299.8" y2="470.7"><stop stop-color="#fcd06c"/><stop offset="1" stop-color="#fde17f"/></linearGradient><linearGradient id="b83" gradientUnits="userSpaceOnUse" x1="1280.0" y1="476.5" x2="1282.1" y2="492.7"><stop stop-color="#fde17f"/><stop offset="1" stop-color="#fdf191"/></linearGradient><linearGradient id="b84" gradientUnits="userSpaceOnUse" x1="1264.5" y1="494.9" x2="1264.3" y2="511.1"><stop stop-color="#fdf191"/><stop offset="1" stop-color="#fdfb9c"/></linearGradient><linearGradient id="b85" gradientUnits="userSpaceOnUse" x1="1233.6" y1="524.6" x2="1230.5" y2="538.6"><stop stop-color="#fdf99a"/><stop offset="1" stop-color="#fdea8a"/></linearGradient><linearGradient id="b86" gradientUnits="userSpaceOnUse" x1="1218.2" y1="535.8" x2="1214.6" y2="548.1"><stop stop-color="#fdea8a"/><stop offset="1" stop-color="#fdd471"/></linearGradient><linearGradient id="b87" gradientUnits="userSpaceOnUse" x1="1202.7" y1="544.6" x2="1199.2" y2="555.1"><stop stop-color="#fdd471"/><stop offset="1" stop-color="#fcba54"/></linearGradient><linearGradient id="b88" gradientUnits="userSpaceOnUse" x1="1187.3" y1="551.1" x2="1184.2" y2="559.6"><stop stop-color="#fcba54"/><stop offset="1" stop-color="#fca63e"/></linearGradient><linearGradient id="b89" gradientUnits="userSpaceOnUse" x1="1368.1" y1="333.9" x2="1375.5" y2="340.2"><stop stop-color="#fcaa43"/><stop offset="1" stop-color="#fcaf48"/></linearGradient><linearGradient id="b90" gradientUnits="userSpaceOnUse" x1="1352.6" y1="367.3" x2="1360.8" y2="376.1"><stop stop-color="#fcaf48"/><stop offset="1" stop-color="#fcb650"/></linearGradient><linearGradient id="b91" gradientUnits="userSpaceOnUse" x1="1337.2" y1="398.0" x2="1345.3" y2="409.8"><stop stop-color="#fcb650"/><stop offset="1" stop-color="#fcc15c"/></linearGradient><linearGradient id="b92" gradientUnits="userSpaceOnUse" x1="1321.7" y1="426.1" x2="1328.7" y2="440.7"><stop stop-color="#fcc15c"/><stop offset="1" stop-color="#fcd06c"/></linearGradient><linearGradient id="b93" gradientUnits="userSpaceOnUse" x1="1306.3" y1="451.5" x2="1311.2" y2="468.3"><stop stop-color="#fcd06c"/><stop offset="1" stop-color="#fde17f"/></linearGradient><linearGradient id="b94" gradientUnits="userSpaceOnUse" x1="1290.8" y1="474.3" x2="1293.1" y2="492.1"><stop stop-color="#fde17f"/><stop offset="1" stop-color="#fdf191"/></linearGradient><linearGradient id="b95" gradientUnits="userSpaceOnUse" x1="1275.4" y1="494.4" x2="1275.2" y2="512.0"><stop stop-color="#fdf191"/><stop offset="1" stop-color="#fdfb9c"/></linearGradient><linearGradient id="b96" gradientUnits="userSpaceOnUse" x1="1244.4" y1="526.6" x2="1241.2" y2="541.4"><stop stop-color="#fdf99a"/><stop offset="1" stop-color="#fdea8a"/></linearGradient><linearGradient id="b97" gradientUnits="userSpaceOnUse" x1="1229.0" y1="538.7" x2="1225.2" y2="551.6"><stop stop-color="#fdea8a"/><stop offset="1" stop-color="#fdd471"/></linearGradient><linearGradient id="b98" gradientUnits="userSpaceOnUse" x1="1213.5" y1="548.1" x2="1209.9" y2="558.9"><stop stop-color="#fdd471"/><stop offset="1" stop-color="#fcba54"/></linearGradient><linearGradient id="b99" gradientUnits="userSpaceOnUse" x1="1198.1" y1="554.9" x2="1195.0" y2="563.5"><stop stop-color="#fcba54"/><stop offset="1" stop-color="#fca63e"/></linearGradient><linearGradient id="b100" gradientUnits="userSpaceOnUse" x1="1379.0" y1="319.6" x2="1387.8" y2="327.1"><stop stop-color="#fcaa43"/><stop offset="1" stop-color="#fcaf48"/></linearGradient><linearGradient id="b101" gradientUnits="userSpaceOnUse" x1="1363.5" y1="355.9" x2="1373.0" y2="366.2"><stop stop-color="#fcaf48"/><stop offset="1" stop-color="#fcb650"/></linearGradient><linearGradient id="b102" gradientUnits="userSpaceOnUse" x1="1348.0" y1="389.3" x2="1357.3" y2="402.7"><stop stop-color="#fcb650"/><stop offset="1" stop-color="#fcc15c"/></linearGradient><linearGradient id="b103" gradientUnits="userSpaceOnUse" x1="1332.6" y1="419.8" x2="1340.4" y2="436.1"><stop stop-color="#fcc15c"/><stop offset="1" stop-color="#fcd06c"/></linearGradient><linearGradient id="b104" gradientUnits="userSpaceOnUse" x1="1317.1" y1="447.4" x2="1322.5" y2="465.9"><stop stop-color="#fcd06c"/><stop offset="1" stop-color="#fde17f"/></linearGradient><linearGradient id="b105" gradientUnits="userSpaceOnUse" x1="1301.6" y1="472.0" x2="1304.2" y2="491.4"><stop stop-color="#fde17f"/><stop offset="1" stop-color="#fdf191"/></linearGradient><linearGradient id="b106" gradientUnits="userSpaceOnUse" x1="1286.2" y1="493.8" x2="1286.0" y2="512.8"><stop stop-color="#fdf191"/><stop offset="1" stop-color="#fdfb9c"/></linearGradient><linearGradient id="b107" gradientUnits="userSpaceOnUse" x1="1255.3" y1="528.5" x2="1251.8" y2="544.2"><stop stop-color="#fdf99a"/><stop offset="1" stop-color="#fdea8a"/></linearGradient><linearGradient id="b108" gradientUnits="userSpaceOnUse" x1="1239.8" y1="541.5" x2="1235.9" y2="555.0"><stop stop-color="#fdea8a"/><stop offset="1" stop-color="#fdd471"/></linearGradient><linearGradient id="b109" gradientUnits="userSpaceOnUse" x1="1224.4" y1="551.6" x2="1220.6" y2="562.8"><stop stop-color="#fdd471"/><stop offset="1" stop-color="#fcba54"/></linearGradient><linearGradient id="b110" gradientUnits="userSpaceOnUse" x1="1208.9" y1="558.8" x2="1205.7" y2="567.5"><stop stop-color="#fcba54"/><stop offset="1" stop-color="#fca63e"/></linearGradient><linearGradient id="b111" gradientUnits="userSpaceOnUse" x1="1389.8" y1="305.3" x2="1400.1" y2="314.0"><stop stop-color="#fcaa43"/><stop offset="1" stop-color="#fcaf48"/></linearGradient><linearGradient id="b112" gradientUnits="userSpaceOnUse" x1="1374.3" y1="344.6" x2="1385.2" y2="356.2"><stop stop-color="#fcaf48"/><stop offset="1" stop-color="#fcb650"/></linearGradient><linearGradient id="b113" gradientUnits="userSpaceOnUse" x1="1358.9" y1="380.6" x2="1369.2" y2="395.6"><stop stop-color="#fcb650"/><stop offset="1" stop-color="#fcc15c"/></linearGradient><linearGradient id="b114" gradientUnits="userSpaceOnUse" x1="1343.4" y1="413.5" x2="1352.1" y2="431.6"><stop stop-color="#fcc15c"/><stop offset="1" stop-color="#fcd06c"/></linearGradient><linearGradient id="b115" gradientUnits="userSpaceOnUse" x1="1327.9" y1="443.2" x2="1333.9" y2="463.5"><stop stop-color="#fcd06c"/><stop offset="1" stop-color="#fde17f"/></linearGradient><linearGradient id="b116" gradientUnits="userSpaceOnUse" x1="1312.5" y1="469.8" x2="1315.2" y2="490.8"><stop stop-color="#fde17f"/><stop offset="1" stop-color="#fdf191"/></linearGradient><linearGradient id="b117" gradientUnits="userSpaceOnUse" x1="1297.0" y1="493.2" x2="1296.8" y2="513.6"><stop stop-color="#fdf191"/><stop offset="1" stop-color="#fdfb9c"/></linearGradient><linearGradient id="b118" gradientUnits="userSpaceOnUse" x1="1266.1" y1="530.5" x2="1262.4" y2="547.0"><stop stop-color="#fdf99a"/><stop offset="1" stop-color="#fdea8a"/></linearGradient><linearGradient id="b119" gradientUnits="userSpaceOnUse" x1="1250.6" y1="544.4" x2="1246.5" y2="558.4"><stop stop-color="#fdea8a"/><stop offset="1" stop-color="#fdd471"/></linearGradient><linearGradient id="b120" gradientUnits="userSpaceOnUse" x1="1235.2" y1="555.1" x2="1231.3" y2="566.6"><stop stop-color="#fdd471"/><stop offset="1" stop-color="#fcba54"/></linearGradient><linearGradient id="b121" gradientUnits="userSpaceOnUse" x1="1219.7" y1="562.7" x2="1216.5" y2="571.5"><stop stop-color="#fcba54"/><stop offset="1" stop-color="#fca63e"/></linearGradient><linearGradient id="b122" gradientUnits="userSpaceOnUse" x1="1400.6" y1="291.0" x2="1412.4" y2="300.9"><stop stop-color="#fcaa43"/><stop offset="1" stop-color="#fcaf48"/></linearGradient><linearGradient id="b123" gradientUnits="userSpaceOnUse" x1="1385.2" y1="333.2" x2="1397.3" y2="346.3"><stop stop-color="#fcaf48"/><stop offset="1" stop-color="#fcb650"/></linearGradient><linearGradient id="b124" gradientUnits="userSpaceOnUse" x1="1369.7" y1="371.9" x2="1381.2" y2="388.5"><stop stop-color="#fcb650"/><stop offset="1" stop-color="#fcc15c"/></linearGradient><linearGradient id="b125" gradientUnits="userSpaceOnUse" x1="1354.2" y1="407.2" x2="1363.8" y2="427.0"><stop stop-color="#fcc15c"/><stop offset="1" stop-color="#fcd06c"/></linearGradient><linearGradient id="b126" gradientUnits="userSpaceOnUse" x1="1338.8" y1="439.1" x2="1345.3" y2="461.1"><stop stop-color="#fcd06c"/><stop offset="1" stop-color="#fde17f"/></linearGradient><linearGradient id="b127" gradientUnits="userSpaceOnUse" x1="1323.3" y1="467.6" x2="1326.3" y2="490.2"><stop stop-color="#fde17f"/><stop offset="1" stop-color="#fdf191"/></linearGradient><linearGradient id="b128" gradientUnits="userSpaceOnUse" x1="1307.8" y1="492.6" x2="1307.6" y2="514.4"><stop stop-color="#fdf191"/><stop offset="1" stop-color="#fdfb9c"/></linearGradient><linearGradient id="b129" gradientUnits="userSpaceOnUse" x1="1276.9" y1="532.4" x2="1273.1" y2="549.8"><stop stop-color="#fdf99a"/><stop offset="1" stop-color="#fdea8a"/></linearGradient><linearGradient id="b130" gradientUnits="userSpaceOnUse" x1="1261.5" y1="547.2" x2="1257.2" y2="561.9"><stop stop-color="#fdea8a"/><stop offset="1" stop-color="#fdd471"/></linearGradient><linearGradient id="b131" gradientUnits="userSpaceOnUse" x1="1246.0" y1="558.6" x2="1242.0" y2="570.4"><stop stop-color="#fdd471"/><stop offset="1" stop-color="#fcba54"/></linearGradient><linearGradient id="b132" gradientUnits="userSpaceOnUse" x1="1230.6" y1="566.5" x2="1227.3" y2="575.5"><stop stop-color="#fcba54"/><stop offset="1" stop-color="#fca63e"/></linearGradient><linearGradient id="b133" gradientUnits="userSpaceOnUse" x1="1411.5" y1="276.7" x2="1424.7" y2="287.9"><stop stop-color="#fcaa43"/><stop offset="1" stop-color="#fcaf48"/></linearGradient><linearGradient id="b134" gradientUnits="userSpaceOnUse" x1="1396.0" y1="321.8" x2="1409.5" y2="336.3"><stop stop-color="#fcaf48"/><stop offset="1" stop-color="#fcb650"/></linearGradient><linearGradient id="b135" gradientUnits="userSpaceOnUse" x1="1380.5" y1="363.2" x2="1393.2" y2="381.4"><stop stop-color="#fcb650"/><stop offset="1" stop-color="#fcc15c"/></linearGradient><linearGradient id="b136" gradientUnits="userSpaceOnUse" x1="1365.1" y1="400.9" x2="1375.5" y2="422.5"><stop stop-color="#fcc15c"/><stop offset="1" stop-color="#fcd06c"/></linearGradient><linearGradient id="b137" gradientUnits="userSpaceOnUse" x1="1349.6" y1="434.9" x2="1356.6" y2="458.7"><stop stop-color="#fcd06c"/><stop offset="1" stop-color="#fde17f"/></linearGradient><linearGradient id="b138" gradientUnits="userSpaceOnUse" x1="1334.1" y1="465.3" x2="1337.3" y2="489.6"><stop stop-color="#fde17f"/><stop offset="1" stop-color="#fdf191"/></linearGradient><linearGradient id="b139" gradientUnits="userSpaceOnUse" x1="1318.7" y1="492.0" x2="1318.4" y2="515.2"><stop stop-color="#fdf191"/><stop offset="1" stop-color="#fdfb9c"/></linearGradient><linearGradient id="b140" gradientUnits="userSpaceOnUse" x1="1287.8" y1="534.4" x2="1283.7" y2="552.6"><stop stop-color="#fdf99a"/><stop offset="1" stop-color="#fdea8a"/></linearGradient><linearGradient id="b141" gradientUnits="userSpaceOnUse" x1="1272.3" y1="550.1" x2="1267.9" y2="565.3"><stop stop-color="#fdea8a"/><stop offset="1" stop-color="#fdd471"/></linearGradient><linearGradient id="b142" gradientUnits="userSpaceOnUse" x1="1256.9" y1="562.1" x2="1252.7" y2="574.2"><stop stop-color="#fdd471"/><stop offset="1" stop-color="#fcba54"/></linearGradient><linearGradient id="b143" gradientUnits="userSpaceOnUse" x1="1241.4" y1="570.4" x2="1238.1" y2="579.5"><stop stop-color="#fcba54"/><stop offset="1" stop-color="#fca63e"/></linearGradient><linearGradient id="b144" gradientUnits="userSpaceOnUse" x1="1422.3" y1="262.4" x2="1437.0" y2="274.8"><stop stop-color="#fcaa43"/><stop offset="1" stop-color="#fcaf48"/></linearGradient><linearGradient id="b145" gradientUnits="userSpaceOnUse" x1="1406.9" y1="310.4" x2="1421.7" y2="326.4"><stop stop-color="#fcaf48"/><stop offset="1" stop-color="#fcb650"/></linearGradient><linearGradient id="b146" gradientUnits="userSpaceOnUse" x1="1391.4" y1="354.5" x2="1405.2" y2="374.3"><stop stop-color="#fcb650"/><stop offset="1" stop-color="#fcc15c"/></linearGradient><linearGradient id="b147" gradientUnits="userSpaceOnUse" x1="1375.9" y1="394.6" x2="1387.2" y2="417.9"><stop stop-color="#fcc15c"/><stop offset="1" stop-color="#fcd06c"/></linearGradient><linearGradient id="b148" gradientUnits="userSpaceOnUse" x1="1360.4" y1="430.8" x2="1368.0" y2="456.3"><stop stop-color="#fcd06c"/><stop offset="1" stop-color="#fde17f"/></linearGradient><linearGradient id="b149" gradientUnits="userSpaceOnUse" x1="1345.0" y1="463.1" x2="1348.4" y2="489.0"><stop stop-color="#fde17f"/><stop offset="1" stop-color="#fdf191"/></linearGradient><linearGradient id="b150" gradientUnits="userSpaceOnUse" x1="1329.5" y1="491.4" x2="1329.3" y2="516.0"><stop stop-color="#fdf191"/><stop offset="1" stop-color="#fdfb9c"/></linearGradient><linearGradient id="b151" gradientUnits="userSpaceOnUse" x1="1298.6" y1="536.3" x2="1294.4" y2="555.4"><stop stop-color="#fdf99a"/><stop offset="1" stop-color="#fdea8a"/></linearGradient><linearGradient id="b152" gradientUnits="userSpaceOnUse" x1="1283.1" y1="552.9" x2="1278.5" y2="568.7"><stop stop-color="#fdea8a"/><stop offset="1" stop-color="#fdd471"/></linearGradient><linearGradient id="b153" gradientUnits="userSpaceOnUse" x1="1267.7" y1="565.6" x2="1263.4" y2="578.1"><stop stop-color="#fdd471"/><stop offset="1" stop-color="#fcba54"/></linearGradient><linearGradient id="b154" gradientUnits="userSpaceOnUse" x1="1252.2" y1="574.3" x2="1248.9" y2="583.4"><stop stop-color="#fcba54"/><stop offset="1" stop-color="#fca63e"/></linearGradient><linearGradient id="b155" gradientUnits="userSpaceOnUse" x1="1433.2" y1="248.1" x2="1449.2" y2="261.7"><stop stop-color="#fcaa43"/><stop offset="1" stop-color="#fcaf48"/></linearGradient><linearGradient id="b156" gradientUnits="userSpaceOnUse" x1="1417.7" y1="299.0" x2="1433.8" y2="316.4"><stop stop-color="#fcaf48"/><stop offset="1" stop-color="#fcb650"/></linearGradient><linearGradient id="b157" gradientUnits="userSpaceOnUse" x1="1402.2" y1="345.7" x2="1417.1" y2="367.2"><stop stop-color="#fcb650"/><stop offset="1" stop-color="#fcc15c"/></linearGradient><linearGradient id="b158" gradientUnits="userSpaceOnUse" x1="1386.8" y1="388.3" x2="1398.8" y2="413.4"><stop stop-color="#fcc15c"/><stop offset="1" stop-color="#fcd06c"/></linearGradient><linearGradient id="b159" gradientUnits="userSpaceOnUse" x1="1371.3" y1="426.7" x2="1379.3" y2="453.9"><stop stop-color="#fcd06c"/><stop offset="1" stop-color="#fde17f"/></linearGradient><linearGradient id="b160" gradientUnits="userSpaceOnUse" x1="1355.8" y1="460.8" x2="1359.4" y2="488.4"><stop stop-color="#fde17f"/><stop offset="1" stop-color="#fdf191"/></linearGradient><linearGradient id="b161" gradientUnits="userSpaceOnUse" x1="1340.3" y1="490.8" x2="1340.1" y2="516.8"><stop stop-color="#fdf191"/><stop offset="1" stop-color="#fdfb9c"/></linearGradient><linearGradient id="b162" gradientUnits="userSpaceOnUse" x1="1309.4" y1="538.3" x2="1305.0" y2="558.2"><stop stop-color="#fdf99a"/><stop offset="1" stop-color="#fdea8a"/></linearGradient><linearGradient id="b163" gradientUnits="userSpaceOnUse" x1="1294.0" y1="555.8" x2="1289.2" y2="572.2"><stop stop-color="#fdea8a"/><stop offset="1" stop-color="#fdd471"/></linearGradient><linearGradient id="b164" gradientUnits="userSpaceOnUse" x1="1278.5" y1="569.0" x2="1274.1" y2="581.9"><stop stop-color="#fdd471"/><stop offset="1" stop-color="#fcba54"/></linearGradient><linearGradient id="b165" gradientUnits="userSpaceOnUse" x1="1263.1" y1="578.1" x2="1259.7" y2="587.4"><stop stop-color="#fcba54"/><stop offset="1" stop-color="#fca63e"/></linearGradient><linearGradient id="b166" gradientUnits="userSpaceOnUse" x1="1444.0" y1="233.8" x2="1461.5" y2="248.6"><stop stop-color="#fcaa43"/><stop offset="1" stop-color="#fcaf48"/></linearGradient><linearGradient id="b167" gradientUnits="userSpaceOnUse" x1="1428.6" y1="287.6" x2="1446.0" y2="306.5"><stop stop-color="#fcaf48"/><stop offset="1" stop-color="#fcb650"/></linearGradient><linearGradient id="b168" gradientUnits="userSpaceOnUse" x1="1413.1" y1="337.0" x2="1429.1" y2="360.1"><stop stop-color="#fcb650"/><stop offset="1" stop-color="#fcc15c"/></linearGradient><linearGradient id="b169" gradientUnits="userSpaceOnUse" x1="1397.6" y1="382.0" x2="1410.5" y2="408.8"><stop stop-color="#fcc15c"/><stop offset="1" stop-color="#fcd06c"/></linearGradient><linearGradient id="b170" gradientUnits="userSpaceOnUse" x1="1382.1" y1="422.5" x2="1390.7" y2="451.5"><stop stop-color="#fcd06c"/><stop offset="1" stop-color="#fde17f"/></linearGradient><linearGradient id="b171" gradientUnits="userSpaceOnUse" x1="1366.6" y1="458.6" x2="1370.5" y2="487.7"><stop stop-color="#fde17f"/><stop offset="1" stop-color="#fdf191"/></linearGradient><linearGradient id="b172" gradientUnits="userSpaceOnUse" x1="1351.2" y1="490.3" x2="1350.9" y2="517.6"><stop stop-color="#fdf191"/><stop offset="1" stop-color="#fdfb9c"/></linearGradient><linearGradient id="b173" gradientUnits="userSpaceOnUse" x1="1320.3" y1="540.3" x2="1315.7" y2="561.0"><stop stop-color="#fdf99a"/><stop offset="1" stop-color="#fdea8a"/></linearGradient><linearGradient id="b174" gradientUnits="userSpaceOnUse" x1="1304.8" y1="558.6" x2="1299.8" y2="575.6"><stop stop-color="#fdea8a"/><stop offset="1" stop-color="#fdd471"/></linearGradient><linearGradient id="b175" gradientUnits="userSpaceOnUse" x1="1289.3" y1="572.5" x2="1284.9" y2="585.7"><stop stop-color="#fdd471"/><stop offset="1" stop-color="#fcba54"/></linearGradient><linearGradient id="b176" gradientUnits="userSpaceOnUse" x1="1273.9" y1="582.0" x2="1270.5" y2="591.4"><stop stop-color="#fcba54"/><stop offset="1" stop-color="#fca63e"/></linearGradient><linearGradient id="b177" gradientUnits="userSpaceOnUse" x1="1454.9" y1="219.5" x2="1473.8" y2="235.5"><stop stop-color="#fcaa43"/><stop offset="1" stop-color="#fcaf48"/></linearGradient><linearGradient id="b178" gradientUnits="userSpaceOnUse" x1="1439.4" y1="276.2" x2="1458.2" y2="296.5"><stop stop-color="#fcaf48"/><stop offset="1" stop-color="#fcb650"/></linearGradient><linearGradient id="b179" gradientUnits="userSpaceOnUse" x1="1423.9" y1="328.3" x2="1441.1" y2="353.0"><stop stop-color="#fcb650"/><stop offset="1" stop-color="#fcc15c"/></linearGradient><linearGradient id="b180" gradientUnits="userSpaceOnUse" x1="1408.4" y1="375.7" x2="1422.2" y2="404.2"><stop stop-color="#fcc15c"/><stop offset="1" stop-color="#fcd06c"/></linearGradient><linearGradient id="b181" gradientUnits="userSpaceOnUse" x1="1393.0" y1="418.4" x2="1402.0" y2="449.1"><stop stop-color="#fcd06c"/><stop offset="1" stop-color="#fde17f"/></linearGradient><linearGradient id="b182" gradientUnits="userSpaceOnUse" x1="1377.5" y1="456.4" x2="1381.5" y2="487.1"><stop stop-color="#fde17f"/><stop offset="1" stop-color="#fdf191"/></linearGradient><linearGradient id="b183" gradientUnits="userSpaceOnUse" x1="1362.0" y1="489.7" x2="1361.7" y2="518.4"><stop stop-color="#fdf191"/><stop offset="1" stop-color="#fdfb9c"/></linearGradient><linearGradient id="b184" gradientUnits="userSpaceOnUse" x1="1331.1" y1="542.2" x2="1326.3" y2="563.8"><stop stop-color="#fdf99a"/><stop offset="1" stop-color="#fdea8a"/></linearGradient><linearGradient id="b185" gradientUnits="userSpaceOnUse" x1="1315.6" y1="561.5" x2="1310.5" y2="579.0"><stop stop-color="#fdea8a"/><stop offset="1" stop-color="#fdd471"/></linearGradient><linearGradient id="b186" gradientUnits="userSpaceOnUse" x1="1300.2" y1="576.0" x2="1295.6" y2="589.5"><stop stop-color="#fdd471"/><stop offset="1" stop-color="#fcba54"/></linearGradient><linearGradient id="b187" gradientUnits="userSpaceOnUse" x1="1284.7" y1="585.9" x2="1281.2" y2="595.4"><stop stop-color="#fcba54"/><stop offset="1" stop-color="#fca63e"/></linearGradient><linearGradient id="b188" gradientUnits="userSpaceOnUse" x1="1465.7" y1="205.2" x2="1486.1" y2="222.4"><stop stop-color="#fcaa43"/><stop offset="1" stop-color="#fcaf48"/></linearGradient><linearGradient id="b189" gradientUnits="userSpaceOnUse" x1="1450.3" y1="264.8" x2="1470.4" y2="286.5"><stop stop-color="#fcaf48"/><stop offset="1" stop-color="#fcb650"/></linearGradient><linearGradient id="b190" gradientUnits="userSpaceOnUse" x1="1434.8" y1="319.6" x2="1453.0" y2="345.9"><stop stop-color="#fcb650"/><stop offset="1" stop-color="#fcc15c"/></linearGradient><linearGradient id="b191" gradientUnits="userSpaceOnUse" x1="1419.3" y1="369.4" x2="1433.9" y2="399.7"><stop stop-color="#fcc15c"/><stop offset="1" stop-color="#fcd06c"/></linearGradient><linearGradient id="b192" gradientUnits="userSpaceOnUse" x1="1403.8" y1="414.2" x2="1413.4" y2="446.7"><stop stop-color="#fcd06c"/><stop offset="1" stop-color="#fde17f"/></linearGradient><linearGradient id="b193" gradientUnits="userSpaceOnUse" x1="1388.3" y1="454.1" x2="1392.6" y2="486.5"><stop stop-color="#fde17f"/><stop offset="1" stop-color="#fdf191"/></linearGradient><linearGradient id="b194" gradientUnits="userSpaceOnUse" x1="1372.8" y1="489.1" x2="1372.5" y2="519.2"><stop stop-color="#fdf191"/><stop offset="1" stop-color="#fdfb9c"/></linearGradient><linearGradient id="b195" gradientUnits="userSpaceOnUse" x1="1341.9" y1="544.2" x2="1336.9" y2="566.6"><stop stop-color="#fdf99a"/><stop offset="1" stop-color="#fdea8a"/></linearGradient><linearGradient id="b196" gradientUnits="userSpaceOnUse" x1="1326.5" y1="564.3" x2="1321.1" y2="582.5"><stop stop-color="#fdea8a"/><stop offset="1" stop-color="#fdd471"/></linearGradient><linearGradient id="b197" gradientUnits="userSpaceOnUse" x1="1311.0" y1="579.5" x2="1306.3" y2="593.4"><stop stop-color="#fdd471"/><stop offset="1" stop-color="#fcba54"/></linearGradient><linearGradient id="b198" gradientUnits="userSpaceOnUse" x1="1295.5" y1="589.7" x2="1292.0" y2="599.4"><stop stop-color="#fcba54"/><stop offset="1" stop-color="#fca63e"/></linearGradient><linearGradient id="b199" gradientUnits="userSpaceOnUse" x1="1476.6" y1="190.8" x2="1498.4" y2="209.2"><stop stop-color="#fcaa43"/><stop offset="1" stop-color="#fcaf48"/></linearGradient><linearGradient id="b200" gradientUnits="userSpaceOnUse" x1="1461.1" y1="253.4" x2="1482.6" y2="276.6"><stop stop-color="#fcaf48"/><stop offset="1" stop-color="#fcb650"/></linearGradient><linearGradient id="b201" gradientUnits="userSpaceOnUse" x1="1445.6" y1="310.8" x2="1465.0" y2="338.8"><stop stop-color="#fcb650"/><stop offset="1" stop-color="#fcc15c"/></linearGradient><linearGradient id="b202" gradientUnits="userSpaceOnUse" x1="1430.1" y1="363.0" x2="1445.6" y2="395.1"><stop stop-color="#fcc15c"/><stop offset="1" stop-color="#fcd06c"/></linearGradient><linearGradient id="b203" gradientUnits="userSpaceOnUse" x1="1414.6" y1="410.1" x2="1424.7" y2="444.3"><stop stop-color="#fcd06c"/><stop offset="1" stop-color="#fde17f"/></linearGradient><linearGradient id="b204" gradientUnits="userSpaceOnUse" x1="1399.2" y1="451.9" x2="1403.6" y2="485.9"><stop stop-color="#fde17f"/><stop offset="1" stop-color="#fdf191"/></linearGradient><linearGradient id="b205" gradientUnits="userSpaceOnUse" x1="1383.7" y1="488.5" x2="1383.4" y2="520.1"><stop stop-color="#fdf191"/><stop offset="1" stop-color="#fdfb9c"/></linearGradient><linearGradient id="b206" gradientUnits="userSpaceOnUse" x1="1352.7" y1="546.1" x2="1347.6" y2="569.4"><stop stop-color="#fdf99a"/><stop offset="1" stop-color="#fdea8a"/></linearGradient><linearGradient id="b207" gradientUnits="userSpaceOnUse" x1="1337.3" y1="567.1" x2="1331.8" y2="585.9"><stop stop-color="#fdea8a"/><stop offset="1" stop-color="#fdd471"/></linearGradient><linearGradient id="b208" gradientUnits="userSpaceOnUse" x1="1321.8" y1="583.0" x2="1317.0" y2="597.2"><stop stop-color="#fdd471"/><stop offset="1" stop-color="#fcba54"/></linearGradient><linearGradient id="b209" gradientUnits="userSpaceOnUse" x1="1306.4" y1="593.6" x2="1302.8" y2="603.3"><stop stop-color="#fcba54"/><stop offset="1" stop-color="#fca63e"/></linearGradient><linearGradient id="b210" gradientUnits="userSpaceOnUse" x1="1487.5" y1="176.5" x2="1510.7" y2="196.1"><stop stop-color="#fcaa43"/><stop offset="1" stop-color="#fcaf48"/></linearGradient><linearGradient id="b211" gradientUnits="userSpaceOnUse" x1="1472.0" y1="242.0" x2="1494.7" y2="266.6"><stop stop-color="#fcaf48"/><stop offset="1" stop-color="#fcb650"/></linearGradient><linearGradient id="b212" gradientUnits="userSpaceOnUse" x1="1456.5" y1="302.1" x2="1477.0" y2="331.7"><stop stop-color="#fcb650"/><stop offset="1" stop-color="#fcc15c"/></linearGradient><linearGradient id="b213" gradientUnits="userSpaceOnUse" x1="1441.0" y1="356.7" x2="1457.3" y2="390.5"><stop stop-color="#fcc15c"/><stop offset="1" stop-color="#fcd06c"/></linearGradient><linearGradient id="b214" gradientUnits="userSpaceOnUse" x1="1425.5" y1="405.9" x2="1436.1" y2="441.9"><stop stop-color="#fcd06c"/><stop offset="1" stop-color="#fde17f"/></linearGradient><linearGradient id="b215" gradientUnits="userSpaceOnUse" x1="1410.0" y1="449.6" x2="1414.7" y2="485.3"><stop stop-color="#fde17f"/><stop offset="1" stop-color="#fdf191"/></linearGradient><linearGradient id="b216" gradientUnits="userSpaceOnUse" x1="1394.5" y1="487.9" x2="1394.2" y2="520.9"><stop stop-color="#fdf191"/><stop offset="1" stop-color="#fdfb9c"/></linearGradient><linearGradient id="b217" gradientUnits="userSpaceOnUse" x1="1363.6" y1="548.1" x2="1358.2" y2="572.2"><stop stop-color="#fdf99a"/><stop offset="1" stop-color="#fdea8a"/></linearGradient><linearGradient id="b218" gradientUnits="userSpaceOnUse" x1="1348.1" y1="570.0" x2="1342.5" y2="589.3"><stop stop-color="#fdea8a"/><stop offset="1" stop-color="#fdd471"/></linearGradient><linearGradient id="b219" gradientUnits="userSpaceOnUse" x1="1332.6" y1="586.4" x2="1327.7" y2="601.0"><stop stop-color="#fdd471"/><stop offset="1" stop-color="#fcba54"/></linearGradient><linearGradient id="b220" gradientUnits="userSpaceOnUse" x1="1317.2" y1="597.5" x2="1313.6" y2="607.3"><stop stop-color="#fcba54"/><stop offset="1" stop-color="#fca63e"/></linearGradient><linearGradient id="b221" gradientUnits="userSpaceOnUse" x1="1498.3" y1="162.2" x2="1523.0" y2="183.0"><stop stop-color="#fcaa43"/><stop offset="1" stop-color="#fcaf48"/></linearGradient><linearGradient id="b222" gradientUnits="userSpaceOnUse" x1="1482.8" y1="230.6" x2="1506.9" y2="256.6"><stop stop-color="#fcaf48"/><stop offset="1" stop-color="#fcb650"/></linearGradient><linearGradient id="b223" gradientUnits="userSpaceOnUse" x1="1467.3" y1="293.4" x2="1489.0" y2="324.6"><stop stop-color="#fcb650"/><stop offset="1" stop-color="#fcc15c"/></linearGradient><linearGradient id="b224" gradientUnits="userSpaceOnUse" x1="1451.8" y1="350.4" x2="1469.0" y2="386.0"><stop stop-color="#fcc15c"/><stop offset="1" stop-color="#fcd06c"/></linearGradient><linearGradient id="b225" gradientUnits="userSpaceOnUse" x1="1436.3" y1="401.7" x2="1447.5" y2="439.5"><stop stop-color="#fcd06c"/><stop offset="1" stop-color="#fde17f"/></linearGradient><linearGradient id="b226" gradientUnits="userSpaceOnUse" x1="1420.8" y1="447.4" x2="1425.7" y2="484.6"><stop stop-color="#fde17f"/><stop offset="1" stop-color="#fdf191"/></linearGradient><linearGradient id="b227" gradientUnits="userSpaceOnUse" x1="1405.3" y1="487.3" x2="1405.0" y2="521.7"><stop stop-color="#fdf191"/><stop offset="1" stop-color="#fdfb9c"/></linearGradient><linearGradient id="b228" gradientUnits="userSpaceOnUse" x1="1374.4" y1="550.0" x2="1368.9" y2="575.0"><stop stop-color="#fdf99a"/><stop offset="1" stop-color="#fdea8a"/></linearGradient><linearGradient id="b229" gradientUnits="userSpaceOnUse" x1="1358.9" y1="572.8" x2="1353.1" y2="592.7"><stop stop-color="#fdea8a"/><stop offset="1" stop-color="#fdd471"/></linearGradient><linearGradient id="b230" gradientUnits="userSpaceOnUse" x1="1343.5" y1="589.9" x2="1338.4" y2="604.9"><stop stop-color="#fdd471"/><stop offset="1" stop-color="#fcba54"/></linearGradient><linearGradient id="b231" gradientUnits="userSpaceOnUse" x1="1328.0" y1="601.3" x2="1324.4" y2="611.3"><stop stop-color="#fcba54"/><stop offset="1" stop-color="#fca63e"/></linearGradient><linearGradient id="b232" gradientUnits="userSpaceOnUse" x1="1509.2" y1="147.9" x2="1535.3" y2="169.9"><stop stop-color="#fcaa43"/><stop offset="1" stop-color="#fcaf48"/></linearGradient><linearGradient id="b233" gradientUnits="userSpaceOnUse" x1="1493.7" y1="219.2" x2="1519.1" y2="246.6"><stop stop-color="#fcaf48"/><stop offset="1" stop-color="#fcb650"/></linearGradient><linearGradient id="b234" gradientUnits="userSpaceOnUse" x1="1478.1" y1="284.6" x2="1501.0" y2="317.5"><stop stop-color="#fcb650"/><stop offset="1" stop-color="#fcc15c"/></linearGradient><linearGradient id="b235" gradientUnits="userSpaceOnUse" x1="1462.6" y1="344.1" x2="1480.7" y2="381.4"><stop stop-color="#fcc15c"/><stop offset="1" stop-color="#fcd06c"/></linearGradient><linearGradient id="b236" gradientUnits="userSpaceOnUse" x1="1447.2" y1="397.6" x2="1458.8" y2="437.1"><stop stop-color="#fcd06c"/><stop offset="1" stop-color="#fde17f"/></linearGradient><linearGradient id="b237" gradientUnits="userSpaceOnUse" x1="1431.7" y1="445.1" x2="1436.8" y2="484.0"><stop stop-color="#fde17f"/><stop offset="1" stop-color="#fdf191"/></linearGradient><linearGradient id="b238" gradientUnits="userSpaceOnUse" x1="1416.2" y1="486.7" x2="1415.8" y2="522.5"><stop stop-color="#fdf191"/><stop offset="1" stop-color="#fdfb9c"/></linearGradient><linearGradient id="b239" gradientUnits="userSpaceOnUse" x1="1385.2" y1="552.0" x2="1379.5" y2="577.8"><stop stop-color="#fdf99a"/><stop offset="1" stop-color="#fdea8a"/></linearGradient><linearGradient id="b240" gradientUnits="userSpaceOnUse" x1="1369.8" y1="575.7" x2="1363.8" y2="596.2"><stop stop-color="#fdea8a"/><stop offset="1" stop-color="#fdd471"/></linearGradient><linearGradient id="b241" gradientUnits="userSpaceOnUse" x1="1354.3" y1="593.4" x2="1349.1" y2="608.7"><stop stop-color="#fdd471"/><stop offset="1" stop-color="#fcba54"/></linearGradient><linearGradient id="b242" gradientUnits="userSpaceOnUse" x1="1338.8" y1="605.2" x2="1335.2" y2="615.3"><stop stop-color="#fcba54"/><stop offset="1" stop-color="#fca63e"/></linearGradient></defs>
<path d="M1254.3 483.8L1265.1 469.5L1249.7 475.2L1238.9 486.6Z" fill="#6d481c" stroke="#36240e"/>
<path d="M1238.9 486.6L1249.7 475.2L1234.2 480.7L1223.4 489.4Z" fill="#6d481c" stroke="#36240e"/>
<path d="M1265.1 469.5L1276.0 455.3L1260.5 463.9L1249.7 475.2Z" fill="#6d481c" stroke="#37240e"/>
<path d="M1223.4 489.4L1234.2 480.7L1218.8 485.8L1208.0 492.1Z" fill="#6d481c" stroke="#36240e"/>
<path d="M1249.7 475.2L1260.5 463.9L1245.1 472.0L1234.2 480.7Z" fill="#6d481c" stroke="#37240e"/>
<path d="M1208.0 492.1L1218.8 485.8L1203.3 490.8L1192.5 494.9Z" fill="#6d481c" stroke="#36240e"/>
<path d="M1234.2 480.7L1245.1 472.0L1229.6 479.6L1218.8 485.8Z" fill="#6d481c" stroke="#37240e"/>
<path d="M1276.0 455.3L1286.8 441.0L1271.4 452.5L1260.5 463.9Z" fill="#6e491c" stroke="#37240e"/>
<path d="M1192.5 494.9L1203.3 490.8L1187.9 495.5L1177.1 497.7Z" fill="#8a662f" stroke="#453318"/>
<path d="M1260.5 463.9L1271.4 452.5L1255.9 463.3L1245.1 472.0Z" fill="#6e491c" stroke="#37240e"/>
<path d="M1218.8 485.8L1229.6 479.6L1214.2 486.6L1203.3 490.8Z" fill="#8a632c" stroke="#453216"/>
<path d="M1177.1 497.7L1187.9 495.5L1172.5 499.9L1161.6 500.5Z" fill="#e0ca74" stroke="#3f3920"/>
<path d="M1245.1 472.0L1255.9 463.3L1240.5 473.3L1229.6 479.6Z" fill="#8a6129" stroke="#453014"/>
<path d="M1203.3 490.8L1214.2 486.6L1198.7 493.2L1187.9 495.5Z" fill="#e0bd65" stroke="#3f351c"/>
<path d="M1286.8 441.0L1297.6 426.7L1282.2 441.2L1271.4 452.5Z" fill="#6f491c" stroke="#37250e"/>
<path d="M1161.6 500.5L1172.5 499.9L1157.0 504.0L1146.2 503.2Z" fill="url(#b0)" stroke="#47452a"/>
<path d="M1229.6 479.6L1240.5 473.3L1225.0 482.5L1214.2 486.6Z" fill="#e0b057" stroke="#3f3118"/>
<path d="M1271.4 452.5L1282.2 441.2L1266.7 454.6L1255.9 463.3Z" fill="#8b5f26" stroke="#452f13"/>
<path d="M1187.9 495.5L1198.7 493.2L1183.3 499.3L1172.5 499.9Z" fill="url(#b5)" stroke="#474126"/>
<path d="M1146.2 503.2L1157.0 504.0L1141.6 508.0L1130.7 506.0Z" fill="#fdfa9b" stroke="#47462b"/>
<path d="M1214.2 486.6L1225.0 482.5L1209.6 491.0L1198.7 493.2Z" fill="url(#b11)" stroke="#473d21"/>
<path d="M1255.9 463.3L1266.7 454.6L1251.3 467.0L1240.5 473.3Z" fill="#e0a64b" stroke="#3f2e15"/>
<path d="M1172.5 499.9L1183.3 499.3L1167.8 504.9L1157.0 504.0Z" fill="url(#b6)" stroke="#47452a"/>
<path d="M1297.6 426.7L1308.5 412.5L1293.0 429.8L1282.2 441.2Z" fill="#8b5e25" stroke="#462f13"/>
<path d="M1130.7 506.0L1141.6 508.0L1126.1 511.6L1115.3 508.8Z" fill="url(#b1)" stroke="#474429"/>
<path d="M1240.5 473.3L1251.3 467.0L1235.8 478.4L1225.0 482.5Z" fill="url(#b18)" stroke="#47381c"/>
<path d="M1198.7 493.2L1209.6 491.0L1194.1 498.7L1183.3 499.3Z" fill="url(#b12)" stroke="#474126"/>
<path d="M1282.2 441.2L1293.0 429.8L1277.6 445.9L1266.7 454.6Z" fill="#e09e43" stroke="#3f2c13"/>
<path d="M1157.0 504.0L1167.8 504.9L1152.4 509.9L1141.6 508.0Z" fill="#fdfa9b" stroke="#47462b"/>
<path d="M1225.0 482.5L1235.8 478.4L1220.4 488.8L1209.6 491.0Z" fill="url(#b19)" stroke="#473d21"/>
<path d="M1115.3 508.8L1126.1 511.6L1110.7 515.0L1099.8 511.6Z" fill="url(#b2)" stroke="#473f23"/>
<path d="M1266.7 454.6L1277.6 445.9L1262.1 460.7L1251.3 467.0Z" fill="url(#b26)" stroke="#473418"/>
<path d="M1183.3 499.3L1194.1 498.7L1178.7 505.7L1167.8 504.9Z" fill="url(#b13)" stroke="#47452a"/>
<path d="M1141.6 508.0L1152.4 509.9L1136.9 514.5L1126.1 511.6Z" fill="url(#b7)" stroke="#474429"/>
<path d="M1308.5 412.5L1319.3 398.2L1303.9 418.5L1293.0 429.8Z" fill="#e09a3e" stroke="#3f2b11"/>
<path d="M1209.6 491.0L1220.4 488.8L1204.9 498.1L1194.1 498.7Z" fill="url(#b20)" stroke="#474126"/>
<path d="M1251.3 467.0L1262.1 460.7L1246.7 474.3L1235.8 478.4Z" fill="url(#b27)" stroke="#47381c"/>
<path d="M1099.8 511.6L1110.7 515.0L1095.2 518.2L1084.4 514.3Z" fill="url(#b3)" stroke="#47381c"/>
<path d="M1167.8 504.9L1178.7 505.7L1163.2 511.9L1152.4 509.9Z" fill="#fdfa9b" stroke="#47462b"/>
<path d="M1293.0 429.8L1303.9 418.5L1288.4 437.2L1277.6 445.9Z" fill="url(#b35)" stroke="#473215"/>
<path d="M1126.1 511.6L1136.9 514.5L1121.5 518.5L1110.7 515.0Z" fill="url(#b8)" stroke="#473f23"/>
<path d="M1235.8 478.4L1246.7 474.3L1231.2 486.5L1220.4 488.8Z" fill="url(#b28)" stroke="#473d21"/>
<path d="M1194.1 498.7L1204.9 498.1L1189.5 506.5L1178.7 505.7Z" fill="url(#b21)" stroke="#47452a"/>
<path d="M1277.6 445.9L1288.4 437.2L1273.0 454.4L1262.1 460.7Z" fill="url(#b36)" stroke="#473418"/>
<path d="M1152.4 509.9L1163.2 511.9L1147.8 517.3L1136.9 514.5Z" fill="url(#b14)" stroke="#474429"/>
<path d="M1084.4 514.3L1095.2 518.2L1079.8 521.1L1069.0 517.1Z" fill="url(#b4)" stroke="#473114"/>
<path d="M1220.4 488.8L1231.2 486.5L1215.8 497.6L1204.9 498.1Z" fill="url(#b29)" stroke="#474126"/>
<path d="M1319.3 398.2L1330.2 383.9L1314.7 407.1L1303.9 418.5Z" fill="url(#b45)" stroke="#473013"/>
<path d="M1110.7 515.0L1121.5 518.5L1106.1 522.1L1095.2 518.2Z" fill="url(#b9)" stroke="#47381c"/>
<path d="M1262.1 460.7L1273.0 454.4L1257.5 470.1L1246.7 474.3Z" fill="url(#b37)" stroke="#47381c"/>
<path d="M1178.7 505.7L1189.5 506.5L1174.1 513.8L1163.2 511.9Z" fill="#fdfa9b" stroke="#47462b"/>
<path d="M1136.9 514.5L1147.8 517.3L1132.3 522.0L1121.5 518.5Z" fill="url(#b15)" stroke="#473f23"/>
<path d="M1303.9 418.5L1314.7 407.1L1299.3 428.5L1288.4 437.2Z" fill="url(#b46)" stroke="#473215"/>
<path d="M1069.0 517.1L1079.8 521.1L1064.3 523.7L1053.5 519.9Z" fill="#fca63e" stroke="#472e11"/>
<path d="M1246.7 474.3L1257.5 470.1L1242.1 484.3L1231.2 486.5Z" fill="url(#b38)" stroke="#473d21"/>
<path d="M1204.9 498.1L1215.8 497.6L1200.3 507.3L1189.5 506.5Z" fill="url(#b30)" stroke="#47452a"/>
<path d="M1095.2 518.2L1106.1 522.1L1090.6 525.1L1079.8 521.1Z" fill="url(#b10)" stroke="#473114"/>
<path d="M1163.2 511.9L1174.1 513.8L1158.6 520.2L1147.8 517.3Z" fill="url(#b22)" stroke="#474429"/>
<path d="M1288.4 437.2L1299.3 428.5L1283.8 448.1L1273.0 454.4Z" fill="url(#b47)" stroke="#473418"/>
<path d="M1121.5 518.5L1132.3 522.0L1116.9 525.9L1106.1 522.1Z" fill="url(#b16)" stroke="#47381c"/>
<path d="M1231.2 486.5L1242.1 484.3L1226.6 497.0L1215.8 497.6Z" fill="url(#b39)" stroke="#474126"/>
<path d="M1053.5 519.9L1064.3 523.7L1048.9 526.1L1038.1 522.6Z" fill="#fca63e" stroke="#472e11"/>
<path d="M1189.5 506.5L1200.3 507.3L1184.9 515.8L1174.1 513.8Z" fill="#fdfa9b" stroke="#47462b"/>
<path d="M1273.0 454.4L1283.8 448.1L1268.3 466.0L1257.5 470.1Z" fill="url(#b48)" stroke="#47381c"/>
<path d="M1330.2 383.9L1341.0 369.6L1325.5 395.7L1314.7 407.1Z" fill="url(#b56)" stroke="#473013"/>
<path d="M1147.8 517.3L1158.6 520.2L1143.2 525.5L1132.3 522.0Z" fill="url(#b23)" stroke="#473f23"/>
<path d="M1079.8 521.1L1090.6 525.1L1075.2 527.6L1064.3 523.7Z" fill="#fca63e" stroke="#472e11"/>
<path d="M1215.8 497.6L1226.6 497.0L1211.2 508.1L1200.3 507.3Z" fill="url(#b40)" stroke="#47452a"/>
<path d="M1314.7 407.1L1325.5 395.7L1310.1 419.8L1299.3 428.5Z" fill="url(#b57)" stroke="#473215"/>
<path d="M1257.5 470.1L1268.3 466.0L1252.9 482.1L1242.1 484.3Z" fill="url(#b49)" stroke="#473d21"/>
<path d="M1106.1 522.1L1116.9 525.9L1101.4 529.1L1090.6 525.1Z" fill="url(#b17)" stroke="#473114"/>
<path d="M1174.1 513.8L1184.9 515.8L1169.4 523.0L1158.6 520.2Z" fill="url(#b31)" stroke="#474429"/>
<path d="M1038.1 522.6L1048.9 526.1L1033.4 528.3L1022.6 525.4Z" fill="#fca63e" stroke="#472e11"/>
<path d="M1299.3 428.5L1310.1 419.8L1294.6 441.8L1283.8 448.1Z" fill="url(#b58)" stroke="#473418"/>
<path d="M1132.3 522.0L1143.2 525.5L1127.7 529.8L1116.9 525.9Z" fill="url(#b24)" stroke="#47381c"/>
<path d="M1064.3 523.7L1075.2 527.6L1059.7 529.6L1048.9 526.1Z" fill="#fca63e" stroke="#472e11"/>
<path d="M1242.1 484.3L1252.9 482.1L1237.4 496.4L1226.6 497.0Z" fill="url(#b50)" stroke="#474126"/>
<path d="M1200.3 507.3L1211.2 508.1L1195.7 517.8L1184.9 515.8Z" fill="#fdfa9b" stroke="#47462b"/>
<path d="M1283.8 448.1L1294.6 441.8L1279.2 461.9L1268.3 466.0Z" fill="url(#b59)" stroke="#47381c"/>
<path d="M1158.6 520.2L1169.4 523.0L1154.0 529.0L1143.2 525.5Z" fill="url(#b32)" stroke="#473f23"/>
<path d="M1090.6 525.1L1101.4 529.1L1086.0 531.5L1075.2 527.6Z" fill="#fca63e" stroke="#472e11"/>
<path d="M1022.6 525.4L1033.4 528.3L1018.0 530.2L1007.2 528.2Z" fill="#fca63e" stroke="#472e11"/>
<path d="M1341.0 369.6L1351.8 355.3L1336.4 384.4L1325.5 395.7Z" fill="url(#b67)" stroke="#473013"/>
<path d="M1226.6 497.0L1237.4 496.4L1222.0 508.9L1211.2 508.1Z" fill="url(#b51)" stroke="#47452a"/>
<path d="M1116.9 525.9L1127.7 529.8L1112.3 533.1L1101.4 529.1Z" fill="url(#b25)" stroke="#473114"/>
<path d="M1184.9 515.8L1195.7 517.8L1180.3 525.9L1169.4 523.0Z" fill="url(#b41)" stroke="#474429"/>
<path d="M1268.3 466.0L1279.2 461.9L1263.7 479.9L1252.9 482.1Z" fill="url(#b60)" stroke="#473d21"/>
<path d="M1048.9 526.1L1059.7 529.6L1044.3 531.2L1033.4 528.3Z" fill="#fca63e" stroke="#472e11"/>
<path d="M1325.5 395.7L1336.4 384.4L1320.9 411.1L1310.1 419.8Z" fill="url(#b68)" stroke="#473215"/>
<path d="M1143.2 525.5L1154.0 529.0L1138.5 533.7L1127.7 529.8Z" fill="url(#b33)" stroke="#47381c"/>
<path d="M1075.2 527.6L1086.0 531.5L1070.5 533.1L1059.7 529.6Z" fill="#fca63e" stroke="#472e11"/>
<path d="M1310.1 419.8L1320.9 411.1L1305.5 435.5L1294.6 441.8Z" fill="url(#b69)" stroke="#473418"/>
<path d="M1211.2 508.1L1222.0 508.9L1206.5 519.7L1195.7 517.8Z" fill="#fdfa9b" stroke="#47462b"/>
<path d="M1007.2 528.2L1018.0 530.2L1002.5 531.8L991.7 531.0Z" fill="#fca63e" stroke="#472e11"/>
<path d="M1252.9 482.1L1263.7 479.9L1248.3 495.8L1237.4 496.4Z" fill="url(#b61)" stroke="#474126"/>
<path d="M1169.4 523.0L1180.3 525.9L1164.8 532.5L1154.0 529.0Z" fill="url(#b42)" stroke="#473f23"/>
<path d="M1101.4 529.1L1112.3 533.1L1096.8 535.4L1086.0 531.5Z" fill="#fca63e" stroke="#472e11"/>
<path d="M1294.6 441.8L1305.5 435.5L1290.0 457.7L1279.2 461.9Z" fill="url(#b70)" stroke="#47381c"/>
<path d="M1033.4 528.3L1044.3 531.2L1028.8 532.2L1018.0 530.2Z" fill="#fca63e" stroke="#472e11"/>
<path d="M1127.7 529.8L1138.5 533.7L1123.1 537.1L1112.3 533.1Z" fill="url(#b34)" stroke="#473114"/>
<path d="M1237.4 496.4L1248.3 495.8L1232.8 509.8L1222.0 508.9Z" fill="url(#b62)" stroke="#47452a"/>
<path d="M1195.7 517.8L1206.5 519.7L1191.1 528.7L1180.3 525.9Z" fill="url(#b52)" stroke="#474429"/>
<path d="M1059.7 529.6L1070.5 533.1L1055.1 534.0L1044.3 531.2Z" fill="#fca63e" stroke="#472e11"/>
<path d="M1351.8 355.3L1362.7 341.1L1347.2 373.0L1336.4 384.4Z" fill="url(#b78)" stroke="#473013"/>
<path d="M1279.2 461.9L1290.0 457.7L1274.6 477.6L1263.7 479.9Z" fill="url(#b71)" stroke="#473d21"/>
<path d="M991.7 531.0L1002.5 531.8L987.1 533.2L976.3 533.8Z" fill="#fca63e" stroke="#472e11"/>
<path d="M1154.0 529.0L1164.8 532.5L1149.4 537.5L1138.5 533.7Z" fill="url(#b43)" stroke="#47381c"/>
<path d="M1336.4 384.4L1347.2 373.0L1331.8 402.4L1320.9 411.1Z" fill="url(#b79)" stroke="#473215"/>
<path d="M1086.0 531.5L1096.8 535.4L1081.4 536.6L1070.5 533.1Z" fill="#fca63e" stroke="#472e11"/>
<path d="M1222.0 508.9L1232.8 509.8L1217.4 521.7L1206.5 519.7Z" fill="#fdfa9b" stroke="#47462b"/>
<path d="M1018.0 530.2L1028.8 532.2L1013.4 532.7L1002.5 531.8Z" fill="#fca63e" stroke="#472e11"/>
<path d="M1263.7 479.9L1274.6 477.6L1259.1 495.2L1248.3 495.8Z" fill="url(#b72)" stroke="#474126"/>
<path d="M1320.9 411.1L1331.8 402.4L1316.3 429.3L1305.5 435.5Z" fill="url(#b80)" stroke="#473418"/>
<path d="M1180.3 525.9L1191.1 528.7L1175.6 535.9L1164.8 532.5Z" fill="url(#b53)" stroke="#473f23"/>
<path d="M1112.3 533.1L1123.1 537.1L1107.6 539.2L1096.8 535.4Z" fill="#fca63e" stroke="#472e11"/>
<path d="M1044.3 531.2L1055.1 534.0L1039.6 534.1L1028.8 532.2Z" fill="#fca63e" stroke="#472e11"/>
<path d="M976.3 533.8L987.1 533.2L971.7 534.3L960.8 536.5Z" fill="#c38030" stroke="#37240e"/>
<path d="M1305.5 435.5L1316.3 429.3L1300.8 453.6L1290.0 457.7Z" fill="url(#b81)" stroke="#47381c"/>
<path d="M1138.5 533.7L1149.4 537.5L1133.9 541.1L1123.1 537.1Z" fill="url(#b44)" stroke="#473114"/>
<path d="M1248.3 495.8L1259.1 495.2L1243.7 510.6L1232.8 509.8Z" fill="url(#b73)" stroke="#47452a"/>
<path d="M1206.5 519.7L1217.4 521.7L1201.9 531.6L1191.1 528.7Z" fill="url(#b63)" stroke="#474429"/>
<path d="M1070.5 533.1L1081.4 536.6L1065.9 536.9L1055.1 534.0Z" fill="#fca63e" stroke="#472e11"/>
<path d="M1002.5 531.8L1013.4 532.7L997.9 532.7L987.1 533.2Z" fill="#e09337" stroke="#3f290f"/>
<path d="M1290.0 457.7L1300.8 453.6L1285.4 475.4L1274.6 477.6Z" fill="url(#b82)" stroke="#473d21"/>
<path d="M1164.8 532.5L1175.6 535.9L1160.2 541.4L1149.4 537.5Z" fill="url(#b54)" stroke="#47381c"/>
<path d="M1096.8 535.4L1107.6 539.2L1092.2 540.1L1081.4 536.6Z" fill="#fca63e" stroke="#472e11"/>
<path d="M1362.7 341.1L1373.5 326.8L1358.1 361.6L1347.2 373.0Z" fill="url(#b89)" stroke="#473013"/>
<path d="M1232.8 509.8L1243.7 510.6L1228.2 523.6L1217.4 521.7Z" fill="#fdfa9b" stroke="#47462b"/>
<path d="M1028.8 532.2L1039.6 534.1L1024.2 533.5L1013.4 532.7Z" fill="#fca63e" stroke="#472e11"/>
<path d="M1347.2 373.0L1358.1 361.6L1342.6 393.7L1331.8 402.4Z" fill="url(#b90)" stroke="#473215"/>
<path d="M960.8 536.5L971.7 534.3L956.2 535.2L945.4 539.3Z" fill="#6d481c" stroke="#36240e"/>
<path d="M1123.1 537.1L1133.9 541.1L1118.5 543.1L1107.6 539.2Z" fill="#fca63e" stroke="#472e11"/>
<path d="M1191.1 528.7L1201.9 531.6L1186.5 539.4L1175.6 535.9Z" fill="url(#b64)" stroke="#473f23"/>
<path d="M1274.6 477.6L1285.4 475.4L1269.9 494.7L1259.1 495.2Z" fill="url(#b83)" stroke="#474126"/>
<path d="M1331.8 402.4L1342.6 393.7L1327.1 423.0L1316.3 429.3Z" fill="url(#b91)" stroke="#473418"/>
<path d="M1055.1 534.0L1065.9 536.9L1050.5 536.1L1039.6 534.1Z" fill="#fca63e" stroke="#472e11"/>
<path d="M1149.4 537.5L1160.2 541.4L1144.7 545.1L1133.9 541.1Z" fill="url(#b55)" stroke="#473114"/>
<path d="M987.1 533.2L997.9 532.7L982.5 532.1L971.7 534.3Z" fill="#8a5b23" stroke="#452e11"/>
<path d="M1316.3 429.3L1327.1 423.0L1311.7 449.4L1300.8 453.6Z" fill="url(#b92)" stroke="#47381c"/>
<path d="M1217.4 521.7L1228.2 523.6L1212.7 534.4L1201.9 531.6Z" fill="url(#b74)" stroke="#474429"/>
<path d="M1081.4 536.6L1092.2 540.1L1076.7 539.7L1065.9 536.9Z" fill="#fca63e" stroke="#472e11"/>
<path d="M1259.1 495.2L1269.9 494.7L1254.5 511.4L1243.7 510.6Z" fill="url(#b84)" stroke="#47452a"/>
<path d="M1175.6 535.9L1186.5 539.4L1171.0 545.3L1160.2 541.4Z" fill="url(#b65)" stroke="#47381c"/>
<path d="M1013.4 532.7L1024.2 533.5L1008.7 532.1L997.9 532.7Z" fill="#a76e2a" stroke="#533715"/>
<path d="M945.4 539.3L956.2 535.2L940.8 535.8L929.9 542.1Z" fill="#6d481c" stroke="#36240e"/>
<path d="M1107.6 539.2L1118.5 543.1L1103.0 543.6L1092.2 540.1Z" fill="#fca63e" stroke="#472e11"/>
<path d="M1300.8 453.6L1311.7 449.4L1296.2 473.2L1285.4 475.4Z" fill="url(#b93)" stroke="#473d21"/>
<path d="M1243.7 510.6L1254.5 511.4L1239.0 525.6L1228.2 523.6Z" fill="#fdfa9b" stroke="#47462b"/>
<path d="M1039.6 534.1L1050.5 536.1L1035.0 534.3L1024.2 533.5Z" fill="#e09337" stroke="#3f290f"/>
<path d="M1133.9 541.1L1144.7 545.1L1129.3 547.0L1118.5 543.1Z" fill="#fca63e" stroke="#472e11"/>
<path d="M1201.9 531.6L1212.7 534.4L1197.3 542.9L1186.5 539.4Z" fill="url(#b75)" stroke="#473f23"/>
<path d="M1373.5 326.8L1384.4 312.5L1368.9 350.2L1358.1 361.6Z" fill="url(#b100)" stroke="#473013"/>
<path d="M971.7 534.3L982.5 532.1L967.0 531.1L956.2 535.2Z" fill="#6d481c" stroke="#37240e"/>
<path d="M1285.4 475.4L1296.2 473.2L1280.8 494.1L1269.9 494.7Z" fill="url(#b94)" stroke="#474126"/>
<path d="M1358.1 361.6L1368.9 350.2L1353.4 385.0L1342.6 393.7Z" fill="url(#b101)" stroke="#473215"/>
<path d="M1065.9 536.9L1076.7 539.7L1061.3 538.1L1050.5 536.1Z" fill="#fca63e" stroke="#472e11"/>
<path d="M1160.2 541.4L1171.0 545.3L1155.6 549.1L1144.7 545.1Z" fill="url(#b66)" stroke="#473114"/>
<path d="M1342.6 393.7L1353.4 385.0L1338.0 416.7L1327.1 423.0Z" fill="url(#b102)" stroke="#473418"/>
<path d="M929.9 542.1L940.8 535.8L925.3 536.2L914.5 544.9Z" fill="#6d481c" stroke="#36240e"/>
<path d="M997.9 532.7L1008.7 532.1L993.3 529.9L982.5 532.1Z" fill="#6e491c" stroke="#37240e"/>
<path d="M1228.2 523.6L1239.0 525.6L1223.6 537.3L1212.7 534.4Z" fill="url(#b85)" stroke="#474429"/>
<path d="M1092.2 540.1L1103.0 543.6L1087.6 542.6L1076.7 539.7Z" fill="#fca63e" stroke="#472e11"/>
<path d="M1269.9 494.7L1280.8 494.1L1265.3 512.2L1254.5 511.4Z" fill="url(#b95)" stroke="#47452a"/>
<path d="M1327.1 423.0L1338.0 416.7L1322.5 445.3L1311.7 449.4Z" fill="url(#b103)" stroke="#47381c"/>
<path d="M1186.5 539.4L1197.3 542.9L1181.8 549.1L1171.0 545.3Z" fill="url(#b76)" stroke="#47381c"/>
<path d="M1024.2 533.5L1035.0 534.3L1019.6 531.6L1008.7 532.1Z" fill="#8b5c23" stroke="#452e11"/>
<path d="M1118.5 543.1L1129.3 547.0L1113.8 547.1L1103.0 543.6Z" fill="#fca63e" stroke="#472e11"/>
<path d="M956.2 535.2L967.0 531.1L951.6 529.6L940.8 535.8Z" fill="#6d481c" stroke="#37240e"/>
<path d="M1311.7 449.4L1322.5 445.3L1307.1 470.9L1296.2 473.2Z" fill="url(#b104)" stroke="#473d21"/>
<path d="M1254.5 511.4L1265.3 512.2L1249.9 527.5L1239.0 525.6Z" fill="#fdfa9b" stroke="#47462b"/>
<path d="M1050.5 536.1L1061.3 538.1L1045.8 535.2L1035.0 534.3Z" fill="#a86f2a" stroke="#543715"/>
<path d="M1144.7 545.1L1155.6 549.1L1140.1 550.8L1129.3 547.0Z" fill="#fca63e" stroke="#472e11"/>
<path d="M1212.7 534.4L1223.6 537.3L1208.1 546.4L1197.3 542.9Z" fill="url(#b86)" stroke="#473f23"/>
<path d="M914.5 544.9L925.3 536.2L909.9 536.3L899.0 547.6Z" fill="#6d481c" stroke="#36240e"/>
<path d="M982.5 532.1L993.3 529.9L977.9 527.0L967.0 531.1Z" fill="#6e491c" stroke="#37240e"/>
<path d="M1296.2 473.2L1307.1 470.9L1291.6 493.5L1280.8 494.1Z" fill="url(#b105)" stroke="#474126"/>
<path d="M1076.7 539.7L1087.6 542.6L1072.1 540.1L1061.3 538.1Z" fill="#e09437" stroke="#3f290f"/>
<path d="M1171.0 545.3L1181.8 549.1L1166.4 553.1L1155.6 549.1Z" fill="url(#b77)" stroke="#473114"/>
<path d="M1384.4 312.5L1395.2 298.2L1379.8 338.9L1368.9 350.2Z" fill="url(#b111)" stroke="#473013"/>
<path d="M1368.9 350.2L1379.8 338.9L1364.3 376.3L1353.4 385.0Z" fill="url(#b112)" stroke="#473215"/>
<path d="M1103.0 543.6L1113.8 547.1L1098.4 545.5L1087.6 542.6Z" fill="#fca63e" stroke="#472e11"/>
<path d="M1239.0 525.6L1249.9 527.5L1234.4 540.1L1223.6 537.3Z" fill="url(#b96)" stroke="#474429"/>
<path d="M1008.7 532.1L1019.6 531.6L1004.1 527.8L993.3 529.9Z" fill="#6f491c" stroke="#37250e"/>
<path d="M1353.4 385.0L1364.3 376.3L1348.8 410.4L1338.0 416.7Z" fill="url(#b113)" stroke="#473418"/>
<path d="M940.8 535.8L951.6 529.6L936.1 527.6L925.3 536.2Z" fill="#6d481c" stroke="#37240e"/>
<path d="M1280.8 494.1L1291.6 493.5L1276.1 513.0L1265.3 512.2Z" fill="url(#b106)" stroke="#47452a"/>
<path d="M1197.3 542.9L1208.1 546.4L1192.7 553.0L1181.8 549.1Z" fill="url(#b87)" stroke="#47381c"/>
<path d="M1129.3 547.0L1140.1 550.8L1124.7 550.6L1113.8 547.1Z" fill="#fca63e" stroke="#472e11"/>
<path d="M1338.0 416.7L1348.8 410.4L1333.4 441.2L1322.5 445.3Z" fill="url(#b114)" stroke="#47381c"/>
<path d="M1035.0 534.3L1045.8 535.2L1030.4 531.0L1019.6 531.6Z" fill="#6f4a1c" stroke="#38250e"/>
<path d="M899.0 547.6L909.9 536.3L894.4 536.2L883.6 550.4Z" fill="#6d481c" stroke="#36240e"/>
<path d="M967.0 531.1L977.9 527.0L962.4 523.3L951.6 529.6Z" fill="#6e491c" stroke="#37240e"/>
<path d="M1155.6 549.1L1166.4 553.1L1150.9 554.7L1140.1 550.8Z" fill="#fca63e" stroke="#472e11"/>
<path d="M1322.5 445.3L1333.4 441.2L1317.9 468.7L1307.1 470.9Z" fill="url(#b115)" stroke="#473d21"/>
<path d="M1265.3 512.2L1276.1 513.0L1260.7 529.5L1249.9 527.5Z" fill="#fdfa9b" stroke="#47462b"/>
<path d="M1061.3 538.1L1072.1 540.1L1056.7 536.0L1045.8 535.2Z" fill="#8c5c23" stroke="#462e12"/>
<path d="M1223.6 537.3L1234.4 540.1L1219.0 549.9L1208.1 546.4Z" fill="url(#b97)" stroke="#473f23"/>
<path d="M1087.6 542.6L1098.4 545.5L1082.9 542.0L1072.1 540.1Z" fill="#c48131" stroke="#37240e"/>
<path d="M1181.8 549.1L1192.7 553.0L1177.2 557.1L1166.4 553.1Z" fill="url(#b88)" stroke="#473114"/>
<path d="M1307.1 470.9L1317.9 468.7L1302.4 492.9L1291.6 493.5Z" fill="url(#b116)" stroke="#474126"/>
<path d="M993.3 529.9L1004.1 527.8L988.7 522.9L977.9 527.0Z" fill="#6f491c" stroke="#37250e"/>
<path d="M925.3 536.2L936.1 527.6L920.7 525.0L909.9 536.3Z" fill="#6d481c" stroke="#37240e"/>
<path d="M1113.8 547.1L1124.7 550.6L1109.2 548.3L1098.4 545.5Z" fill="#fca63e" stroke="#472e11"/>
<path d="M1249.9 527.5L1260.7 529.5L1245.2 543.0L1234.4 540.1Z" fill="url(#b107)" stroke="#474429"/>
<path d="M1019.6 531.6L1030.4 531.0L1014.9 525.6L1004.1 527.8Z" fill="#6f4a1c" stroke="#38250e"/>
<path d="M1208.1 546.4L1219.0 549.9L1203.5 556.9L1192.7 553.0Z" fill="url(#b98)" stroke="#47381c"/>
<path d="M1395.2 298.2L1406.1 283.9L1390.6 327.5L1379.8 338.9Z" fill="url(#b122)" stroke="#473013"/>
<path d="M1291.6 493.5L1302.4 492.9L1287.0 513.8L1276.1 513.0Z" fill="url(#b117)" stroke="#47452a"/>
<path d="M1379.8 338.9L1390.6 327.5L1375.1 367.5L1364.3 376.3Z" fill="url(#b123)" stroke="#473215"/>
<path d="M1140.1 550.8L1150.9 554.7L1135.5 554.1L1124.7 550.6Z" fill="#fca63e" stroke="#472e11"/>
<path d="M1364.3 376.3L1375.1 367.5L1359.7 404.1L1348.8 410.4Z" fill="url(#b124)" stroke="#473418"/>
<path d="M951.6 529.6L962.4 523.3L947.0 518.9L936.1 527.6Z" fill="#6e491c" stroke="#37240e"/>
<path d="M1045.8 535.2L1056.7 536.0L1041.2 530.4L1030.4 531.0Z" fill="#704a1c" stroke="#38250e"/>
<path d="M1348.8 410.4L1359.7 404.1L1344.2 437.0L1333.4 441.2Z" fill="url(#b125)" stroke="#47381c"/>
<path d="M1166.4 553.1L1177.2 557.1L1161.8 558.6L1150.9 554.7Z" fill="#fca63e" stroke="#472e11"/>
<path d="M1234.4 540.1L1245.2 543.0L1229.8 553.4L1219.0 549.9Z" fill="url(#b108)" stroke="#473f23"/>
<path d="M1276.1 513.0L1287.0 513.8L1271.5 531.5L1260.7 529.5Z" fill="#fdfa9b" stroke="#47462b"/>
<path d="M1072.1 540.1L1082.9 542.0L1067.5 536.9L1056.7 536.0Z" fill="#704a1d" stroke="#38250e"/>
<path d="M909.9 536.3L920.7 525.0L905.2 522.0L894.4 536.2Z" fill="#6d481c" stroke="#37240e"/>
<path d="M1333.4 441.2L1344.2 437.0L1328.7 466.4L1317.9 468.7Z" fill="url(#b126)" stroke="#473d21"/>
<path d="M977.9 527.0L988.7 522.9L973.2 517.1L962.4 523.3Z" fill="#6f491c" stroke="#37250e"/>
<path d="M1098.4 545.5L1109.2 548.3L1093.8 544.0L1082.9 542.0Z" fill="#a96f2a" stroke="#543815"/>
<path d="M1192.7 553.0L1203.5 556.9L1188.0 561.1L1177.2 557.1Z" fill="url(#b99)" stroke="#473114"/>
<path d="M1317.9 468.7L1328.7 466.4L1313.3 492.3L1302.4 492.9Z" fill="url(#b127)" stroke="#474126"/>
<path d="M1004.1 527.8L1014.9 525.6L999.5 518.8L988.7 522.9Z" fill="#6f4a1c" stroke="#38250e"/>
<path d="M1124.7 550.6L1135.5 554.1L1120.0 551.2L1109.2 548.3Z" fill="#fca63e" stroke="#472e11"/>
<path d="M1260.7 529.5L1271.5 531.5L1256.1 545.8L1245.2 543.0Z" fill="url(#b118)" stroke="#474429"/>
<path d="M936.1 527.6L947.0 518.9L931.5 513.7L920.7 525.0Z" fill="#6e491c" stroke="#37240e"/>
<path d="M1219.0 549.9L1229.8 553.4L1214.3 560.7L1203.5 556.9Z" fill="url(#b109)" stroke="#47381c"/>
<path d="M1030.4 531.0L1041.2 530.4L1025.8 523.4L1014.9 525.6Z" fill="#704a1c" stroke="#38250e"/>
<path d="M1302.4 492.9L1313.3 492.3L1297.8 514.6L1287.0 513.8Z" fill="url(#b128)" stroke="#47452a"/>
<path d="M1150.9 554.7L1161.8 558.6L1146.3 557.6L1135.5 554.1Z" fill="#fca63e" stroke="#472e11"/>
<path d="M1056.7 536.0L1067.5 536.9L1052.0 529.9L1041.2 530.4Z" fill="#704a1d" stroke="#38250e"/>
<path d="M1390.6 327.5L1401.4 316.1L1386.0 358.8L1375.1 367.5Z" fill="url(#b134)" stroke="#473215"/>
<path d="M1406.1 283.9L1416.9 269.6L1401.4 316.1L1390.6 327.5Z" fill="url(#b133)" stroke="#473013"/>
<path d="M1375.1 367.5L1386.0 358.8L1370.5 397.8L1359.7 404.1Z" fill="url(#b135)" stroke="#473418"/>
<path d="M962.4 523.3L973.2 517.1L957.8 510.3L947.0 518.9Z" fill="#6f491c" stroke="#37250e"/>
<path d="M1177.2 557.1L1188.0 561.1L1172.6 562.5L1161.8 558.6Z" fill="#fca63e" stroke="#472e11"/>
<path d="M1245.2 543.0L1256.1 545.8L1240.6 556.8L1229.8 553.4Z" fill="url(#b119)" stroke="#473f23"/>
<path d="M1359.7 404.1L1370.5 397.8L1355.0 432.9L1344.2 437.0Z" fill="url(#b136)" stroke="#47381c"/>
<path d="M1287.0 513.8L1297.8 514.6L1282.3 533.4L1271.5 531.5Z" fill="#fdfa9b" stroke="#47462b"/>
<path d="M1082.9 542.0L1093.8 544.0L1078.3 537.7L1067.5 536.9Z" fill="#714b1d" stroke="#38250e"/>
<path d="M1344.2 437.0L1355.0 432.9L1339.6 464.2L1328.7 466.4Z" fill="url(#b137)" stroke="#473d21"/>
<path d="M1203.5 556.9L1214.3 560.7L1198.9 565.1L1188.0 561.1Z" fill="url(#b110)" stroke="#473114"/>
<path d="M988.7 522.9L999.5 518.8L984.0 510.9L973.2 517.1Z" fill="#6f4a1c" stroke="#38250e"/>
<path d="M1109.2 548.3L1120.0 551.2L1104.6 546.0L1093.8 544.0Z" fill="#a96f2a" stroke="#543815"/>
<path d="M920.7 525.0L931.5 513.7L916.1 507.8L905.2 522.0Z" fill="#6e491c" stroke="#37240e"/>
<path d="M1328.7 466.4L1339.6 464.2L1324.1 491.7L1313.3 492.3Z" fill="url(#b138)" stroke="#474126"/>
<path d="M1135.5 554.1L1146.3 557.6L1130.9 554.1L1120.0 551.2Z" fill="#e09437" stroke="#3f2910"/>
<path d="M1014.9 525.6L1025.8 523.4L1010.3 514.7L999.5 518.8Z" fill="#704a1c" stroke="#38250e"/>
<path d="M1271.5 531.5L1282.3 533.4L1266.9 548.6L1256.1 545.8Z" fill="url(#b129)" stroke="#474429"/>
<path d="M1229.8 553.4L1240.6 556.8L1225.2 564.6L1214.3 560.7Z" fill="url(#b120)" stroke="#47381c"/>
<path d="M1161.8 558.6L1172.6 562.5L1157.1 561.1L1146.3 557.6Z" fill="#fca63e" stroke="#472e11"/>
<path d="M1313.3 492.3L1324.1 491.7L1308.6 515.4L1297.8 514.6Z" fill="url(#b139)" stroke="#47452a"/>
<path d="M1041.2 530.4L1052.0 529.9L1036.6 521.2L1025.8 523.4Z" fill="#704a1d" stroke="#38250e"/>
<path d="M947.0 518.9L957.8 510.3L942.3 502.4L931.5 513.7Z" fill="#6f491c" stroke="#37250e"/>
<path d="M1067.5 536.9L1078.3 537.7L1062.9 529.3L1052.0 529.9Z" fill="#714b1d" stroke="#38250e"/>
<path d="M1188.0 561.1L1198.9 565.1L1183.4 566.3L1172.6 562.5Z" fill="#fca63e" stroke="#472e11"/>
<path d="M1256.1 545.8L1266.9 548.6L1251.4 560.3L1240.6 556.8Z" fill="url(#b130)" stroke="#473f23"/>
<path d="M1297.8 514.6L1308.6 515.4L1293.2 535.4L1282.3 533.4Z" fill="#fdfa9b" stroke="#47462b"/>
<path d="M1093.8 544.0L1104.6 546.0L1089.1 538.5L1078.3 537.7Z" fill="#724b1d" stroke="#39260e"/>
<path d="M1386.0 358.8L1396.8 350.1L1381.3 391.4L1370.5 397.8Z" fill="url(#b146)" stroke="#473418"/>
<path d="M1401.4 316.1L1412.3 304.7L1396.8 350.1L1386.0 358.8Z" fill="url(#b145)" stroke="#473215"/>
<path d="M973.2 517.1L984.0 510.9L968.6 501.6L957.8 510.3Z" fill="#6f4a1c" stroke="#38250e"/>
<path d="M1370.5 397.8L1381.3 391.4L1365.9 428.7L1355.0 432.9Z" fill="url(#b147)" stroke="#47381c"/>
<path d="M1416.9 269.6L1427.8 255.3L1412.3 304.7L1401.4 316.1Z" fill="url(#b144)" stroke="#473013"/>
<path d="M1214.3 560.7L1225.2 564.6L1209.7 569.0L1198.9 565.1Z" fill="url(#b121)" stroke="#473114"/>
<path d="M1120.0 551.2L1130.9 554.1L1115.4 548.0L1104.6 546.0Z" fill="#8e5e24" stroke="#472f12"/>
<path d="M1355.0 432.9L1365.9 428.7L1350.4 462.0L1339.6 464.2Z" fill="url(#b148)" stroke="#473d21"/>
<path d="M999.5 518.8L1010.3 514.7L994.9 504.6L984.0 510.9Z" fill="#704a1c" stroke="#38250e"/>
<path d="M1146.3 557.6L1157.1 561.1L1141.7 556.9L1130.9 554.1Z" fill="#c58231" stroke="#37240e"/>
<path d="M1339.6 464.2L1350.4 462.0L1334.9 491.1L1324.1 491.7Z" fill="url(#b149)" stroke="#474126"/>
<path d="M1282.3 533.4L1293.2 535.4L1277.7 551.5L1266.9 548.6Z" fill="url(#b140)" stroke="#474429"/>
<path d="M1240.6 556.8L1251.4 560.3L1236.0 568.5L1225.2 564.6Z" fill="url(#b131)" stroke="#47381c"/>
<path d="M1025.8 523.4L1036.6 521.2L1021.1 510.6L1010.3 514.7Z" fill="#704a1d" stroke="#38250e"/>
<path d="M931.5 513.7L942.3 502.4L926.9 493.5L916.1 507.8Z" fill="#6f491c" stroke="#37250e"/>
<path d="M1172.6 562.5L1183.4 566.3L1168.0 564.6L1157.1 561.1Z" fill="#fca63e" stroke="#472e11"/>
<path d="M1324.1 491.7L1334.9 491.1L1319.5 516.3L1308.6 515.4Z" fill="url(#b150)" stroke="#47452a"/>
<path d="M1052.0 529.9L1062.9 529.3L1047.4 519.0L1036.6 521.2Z" fill="#714b1d" stroke="#38250e"/>
<path d="M1198.9 565.1L1209.7 569.0L1194.2 570.2L1183.4 566.3Z" fill="#fca63e" stroke="#472e11"/>
<path d="M1078.3 537.7L1089.1 538.5L1073.7 528.8L1062.9 529.3Z" fill="#724b1d" stroke="#39260e"/>
<path d="M957.8 510.3L968.6 501.6L953.1 491.1L942.3 502.4Z" fill="#6f4a1c" stroke="#38250e"/>
<path d="M1266.9 548.6L1277.7 551.5L1262.3 563.8L1251.4 560.3Z" fill="url(#b141)" stroke="#473f23"/>
<path d="M1308.6 515.4L1319.5 516.3L1304.0 537.3L1293.2 535.4Z" fill="#fdfa9b" stroke="#47462b"/>
<path d="M1104.6 546.0L1115.4 548.0L1100.0 539.4L1089.1 538.5Z" fill="#724b1d" stroke="#39260f"/>
<path d="M1225.2 564.6L1236.0 568.5L1220.5 573.0L1209.7 569.0Z" fill="url(#b132)" stroke="#473114"/>
<path d="M1130.9 554.1L1141.7 556.9L1126.2 550.0L1115.4 548.0Z" fill="#734c1d" stroke="#39260f"/>
<path d="M1396.8 350.1L1407.7 341.4L1392.2 385.1L1381.3 391.4Z" fill="url(#b157)" stroke="#473418"/>
<path d="M984.0 510.9L994.9 504.6L979.4 493.0L968.6 501.6Z" fill="#704a1c" stroke="#38250e"/>
<path d="M1381.3 391.4L1392.2 385.1L1376.7 424.6L1365.9 428.7Z" fill="url(#b158)" stroke="#47381c"/>
<path d="M1412.3 304.7L1423.1 293.3L1407.7 341.4L1396.8 350.1Z" fill="url(#b156)" stroke="#473215"/>
<path d="M1365.9 428.7L1376.7 424.6L1361.2 459.7L1350.4 462.0Z" fill="url(#b159)" stroke="#473d21"/>
<path d="M1427.8 255.3L1438.6 241.0L1423.1 293.3L1412.3 304.7Z" fill="url(#b155)" stroke="#473013"/>
<path d="M1157.1 561.1L1168.0 564.6L1152.5 559.8L1141.7 556.9Z" fill="#c58231" stroke="#37240e"/>
<path d="M1293.2 535.4L1304.0 537.3L1288.5 554.3L1277.7 551.5Z" fill="url(#b151)" stroke="#474429"/>
<path d="M1010.3 514.7L1021.1 510.6L1005.7 498.4L994.9 504.6Z" fill="#704a1d" stroke="#38250e"/>
<path d="M1251.4 560.3L1262.3 563.8L1246.8 572.3L1236.0 568.5Z" fill="url(#b142)" stroke="#47381c"/>
<path d="M1350.4 462.0L1361.2 459.7L1345.8 490.5L1334.9 491.1Z" fill="url(#b160)" stroke="#474126"/>
<path d="M1183.4 566.3L1194.2 570.2L1178.8 568.1L1168.0 564.6Z" fill="#fca63e" stroke="#472e11"/>
<path d="M1036.6 521.2L1047.4 519.0L1032.0 506.5L1021.1 510.6Z" fill="#714b1d" stroke="#38250e"/>
<path d="M1334.9 491.1L1345.8 490.5L1330.3 517.1L1319.5 516.3Z" fill="url(#b161)" stroke="#47452a"/>
<path d="M1062.9 529.3L1073.7 528.8L1058.2 516.8L1047.4 519.0Z" fill="#724b1d" stroke="#39260e"/>
<path d="M1209.7 569.0L1220.5 573.0L1205.1 574.1L1194.2 570.2Z" fill="#fca63e" stroke="#472e11"/>
<path d="M942.3 502.4L953.1 491.1L937.7 479.3L926.9 493.5Z" fill="#6f4a1c" stroke="#38250e"/>
<path d="M1277.7 551.5L1288.5 554.3L1273.1 567.3L1262.3 563.8Z" fill="url(#b152)" stroke="#473f23"/>
<path d="M1089.1 538.5L1100.0 539.4L1084.5 528.2L1073.7 528.8Z" fill="#724b1d" stroke="#39260f"/>
<path d="M1319.5 516.3L1330.3 517.1L1314.8 539.3L1304.0 537.3Z" fill="#fdfa9b" stroke="#47462b"/>
<path d="M1115.4 548.0L1126.2 550.0L1110.8 540.2L1100.0 539.4Z" fill="#734c1d" stroke="#39260f"/>
<path d="M1236.0 568.5L1246.8 572.3L1231.4 577.0L1220.5 573.0Z" fill="url(#b143)" stroke="#473114"/>
<path d="M968.6 501.6L979.4 493.0L964.0 479.8L953.1 491.1Z" fill="#704a1c" stroke="#38250e"/>
<path d="M1141.7 556.9L1152.5 559.8L1137.1 551.9L1126.2 550.0Z" fill="#734c1d" stroke="#3a260f"/>
<path d="M1168.0 564.6L1178.8 568.1L1163.3 562.6L1152.5 559.8Z" fill="#aa702a" stroke="#553815"/>
<path d="M1392.2 385.1L1403.0 378.8L1387.5 420.4L1376.7 424.6Z" fill="url(#b169)" stroke="#47381c"/>
<path d="M1407.7 341.4L1418.5 332.7L1403.0 378.8L1392.2 385.1Z" fill="url(#b168)" stroke="#473418"/>
<path d="M994.9 504.6L1005.7 498.4L990.2 484.3L979.4 493.0Z" fill="#704a1d" stroke="#38250e"/>
<path d="M1376.7 424.6L1387.5 420.4L1372.1 457.5L1361.2 459.7Z" fill="url(#b170)" stroke="#473d21"/>
<path d="M1304.0 537.3L1314.8 539.3L1299.4 557.2L1288.5 554.3Z" fill="url(#b162)" stroke="#474429"/>
<path d="M1423.1 293.3L1434.0 281.9L1418.5 332.7L1407.7 341.4Z" fill="url(#b167)" stroke="#473215"/>
<path d="M1262.3 563.8L1273.1 567.3L1257.6 576.2L1246.8 572.3Z" fill="url(#b153)" stroke="#47381c"/>
<path d="M1194.2 570.2L1205.1 574.1L1189.6 571.6L1178.8 568.1Z" fill="#fca63e" stroke="#472e11"/>
<path d="M1361.2 459.7L1372.1 457.5L1356.6 490.0L1345.8 490.5Z" fill="url(#b171)" stroke="#474126"/>
<path d="M1021.1 510.6L1032.0 506.5L1016.5 492.1L1005.7 498.4Z" fill="#714b1d" stroke="#38250e"/>
<path d="M1438.6 241.0L1449.5 226.6L1434.0 281.9L1423.1 293.3Z" fill="url(#b166)" stroke="#473013"/>
<path d="M1047.4 519.0L1058.2 516.8L1042.8 502.4L1032.0 506.5Z" fill="#724b1d" stroke="#39260e"/>
<path d="M1220.5 573.0L1231.4 577.0L1215.9 577.9L1205.1 574.1Z" fill="#fca63e" stroke="#472e11"/>
<path d="M1345.8 490.5L1356.6 490.0L1341.1 517.9L1330.3 517.1Z" fill="url(#b172)" stroke="#47452a"/>
<path d="M1073.7 528.8L1084.5 528.2L1069.1 514.6L1058.2 516.8Z" fill="#724b1d" stroke="#39260f"/>
<path d="M1288.5 554.3L1299.4 557.2L1283.9 570.8L1273.1 567.3Z" fill="url(#b163)" stroke="#473f23"/>
<path d="M1100.0 539.4L1110.8 540.2L1095.3 527.7L1084.5 528.2Z" fill="#734c1d" stroke="#39260f"/>
<path d="M1246.8 572.3L1257.6 576.2L1242.2 581.0L1231.4 577.0Z" fill="url(#b154)" stroke="#473114"/>
<path d="M1330.3 517.1L1341.1 517.9L1325.7 541.2L1314.8 539.3Z" fill="#fdfa9b" stroke="#47462b"/>
<path d="M953.1 491.1L964.0 479.8L948.5 465.1L937.7 479.3Z" fill="#704a1c" stroke="#38250e"/>
<path d="M1126.2 550.0L1137.1 551.9L1121.6 541.0L1110.8 540.2Z" fill="#734c1d" stroke="#3a260f"/>
<path d="M1152.5 559.8L1163.3 562.6L1147.9 553.9L1137.1 551.9Z" fill="#744d1d" stroke="#3a260f"/>
<path d="M1178.8 568.1L1189.6 571.6L1174.2 565.5L1163.3 562.6Z" fill="#ab712b" stroke="#553815"/>
<path d="M979.4 493.0L990.2 484.3L974.8 468.5L964.0 479.8Z" fill="#704a1d" stroke="#38250e"/>
<path d="M1273.1 567.3L1283.9 570.8L1268.5 580.1L1257.6 576.2Z" fill="url(#b164)" stroke="#47381c"/>
<path d="M1314.8 539.3L1325.7 541.2L1310.2 560.0L1299.4 557.2Z" fill="url(#b173)" stroke="#474429"/>
<path d="M1403.0 378.8L1413.9 372.5L1398.4 416.3L1387.5 420.4Z" fill="url(#b180)" stroke="#47381c"/>
<path d="M1387.5 420.4L1398.4 416.3L1382.9 455.2L1372.1 457.5Z" fill="url(#b181)" stroke="#473d21"/>
<path d="M1205.1 574.1L1215.9 577.9L1200.4 575.1L1189.6 571.6Z" fill="#fca63e" stroke="#472e11"/>
<path d="M1418.5 332.7L1429.3 323.9L1413.9 372.5L1403.0 378.8Z" fill="url(#b179)" stroke="#473418"/>
<path d="M1005.7 498.4L1016.5 492.1L1001.1 475.6L990.2 484.3Z" fill="#714b1d" stroke="#38250e"/>
<path d="M1372.1 457.5L1382.9 455.2L1367.4 489.4L1356.6 490.0Z" fill="url(#b182)" stroke="#474126"/>
<path d="M1434.0 281.9L1444.8 270.5L1429.3 323.9L1418.5 332.7Z" fill="url(#b178)" stroke="#473215"/>
<path d="M1032.0 506.5L1042.8 502.4L1027.3 485.8L1016.5 492.1Z" fill="#724b1d" stroke="#39260e"/>
<path d="M1231.4 577.0L1242.2 581.0L1226.7 581.8L1215.9 577.9Z" fill="#fca63e" stroke="#472e11"/>
<path d="M1356.6 490.0L1367.4 489.4L1352.0 518.7L1341.1 517.9Z" fill="url(#b183)" stroke="#47452a"/>
<path d="M1058.2 516.8L1069.1 514.6L1053.6 498.3L1042.8 502.4Z" fill="#724b1d" stroke="#39260f"/>
<path d="M1449.5 226.6L1460.3 212.3L1444.8 270.5L1434.0 281.9Z" fill="url(#b177)" stroke="#473013"/>
<path d="M1299.4 557.2L1310.2 560.0L1294.8 574.3L1283.9 570.8Z" fill="url(#b174)" stroke="#473f23"/>
<path d="M1084.5 528.2L1095.3 527.7L1079.9 512.4L1069.1 514.6Z" fill="#734c1d" stroke="#39260f"/>
<path d="M1110.8 540.2L1121.6 541.0L1106.2 527.1L1095.3 527.7Z" fill="#734c1d" stroke="#3a260f"/>
<path d="M1257.6 576.2L1268.5 580.1L1253.0 585.0L1242.2 581.0Z" fill="url(#b165)" stroke="#473114"/>
<path d="M1341.1 517.9L1352.0 518.7L1336.5 543.2L1325.7 541.2Z" fill="#fdfa9b" stroke="#47462b"/>
<path d="M1137.1 551.9L1147.9 553.9L1132.4 541.9L1121.6 541.0Z" fill="#744d1d" stroke="#3a260f"/>
<path d="M1163.3 562.6L1174.2 565.5L1158.7 555.9L1147.9 553.9Z" fill="#754d1e" stroke="#3a270f"/>
<path d="M1189.6 571.6L1200.4 575.1L1185.0 568.4L1174.2 565.5Z" fill="#ab712b" stroke="#563815"/>
<path d="M964.0 479.8L974.8 468.5L959.3 450.8L948.5 465.1Z" fill="#704a1d" stroke="#38250e"/>
<path d="M1283.9 570.8L1294.8 574.3L1279.3 583.9L1268.5 580.1Z" fill="url(#b175)" stroke="#47381c"/>
<path d="M1325.7 541.2L1336.5 543.2L1321.0 562.9L1310.2 560.0Z" fill="url(#b184)" stroke="#474429"/>
<path d="M1215.9 577.9L1226.7 581.8L1211.3 578.5L1200.4 575.1Z" fill="#e19438" stroke="#3f2a10"/>
<path d="M990.2 484.3L1001.1 475.6L985.6 457.1L974.8 468.5Z" fill="#714b1d" stroke="#38250e"/>
<path d="M1398.4 416.3L1409.2 412.1L1393.7 453.0L1382.9 455.2Z" fill="url(#b192)" stroke="#473d21"/>
<path d="M1413.9 372.5L1424.7 366.2L1409.2 412.1L1398.4 416.3Z" fill="url(#b191)" stroke="#47381c"/>
<path d="M1382.9 455.2L1393.7 453.0L1378.3 488.8L1367.4 489.4Z" fill="url(#b193)" stroke="#474126"/>
<path d="M1429.3 323.9L1440.2 315.2L1424.7 366.2L1413.9 372.5Z" fill="url(#b190)" stroke="#473418"/>
<path d="M1242.2 581.0L1253.0 585.0L1237.6 585.7L1226.7 581.8Z" fill="#fca63e" stroke="#472e11"/>
<path d="M1016.5 492.1L1027.3 485.8L1011.9 467.0L1001.1 475.6Z" fill="#724b1d" stroke="#39260e"/>
<path d="M1042.8 502.4L1053.6 498.3L1038.2 479.6L1027.3 485.8Z" fill="#724b1d" stroke="#39260f"/>
<path d="M1367.4 489.4L1378.3 488.8L1362.8 519.5L1352.0 518.7Z" fill="url(#b194)" stroke="#47452a"/>
<path d="M1310.2 560.0L1321.0 562.9L1305.6 577.7L1294.8 574.3Z" fill="url(#b185)" stroke="#473f23"/>
<path d="M1444.8 270.5L1455.7 259.1L1440.2 315.2L1429.3 323.9Z" fill="url(#b189)" stroke="#473215"/>
<path d="M1069.1 514.6L1079.9 512.4L1064.4 494.2L1053.6 498.3Z" fill="#734c1d" stroke="#39260f"/>
<path d="M1095.3 527.7L1106.2 527.1L1090.7 510.1L1079.9 512.4Z" fill="#734c1d" stroke="#3a260f"/>
<path d="M1268.5 580.1L1279.3 583.9L1263.8 589.0L1253.0 585.0Z" fill="url(#b176)" stroke="#473114"/>
<path d="M1121.6 541.0L1132.4 541.9L1117.0 526.6L1106.2 527.1Z" fill="#744d1d" stroke="#3a260f"/>
<path d="M1352.0 518.7L1362.8 519.5L1347.3 545.1L1336.5 543.2Z" fill="#fdfa9b" stroke="#47462b"/>
<path d="M1147.9 553.9L1158.7 555.9L1143.3 542.7L1132.4 541.9Z" fill="#754d1e" stroke="#3a270f"/>
<path d="M1460.3 212.3L1471.2 198.0L1455.7 259.1L1444.8 270.5Z" fill="url(#b188)" stroke="#473013"/>
<path d="M1174.2 565.5L1185.0 568.4L1169.5 557.9L1158.7 555.9Z" fill="#754d1e" stroke="#3b270f"/>
<path d="M1200.4 575.1L1211.3 578.5L1195.8 571.2L1185.0 568.4Z" fill="#915f24" stroke="#483012"/>
<path d="M1294.8 574.3L1305.6 577.7L1290.1 587.8L1279.3 583.9Z" fill="url(#b186)" stroke="#47381c"/>
<path d="M1336.5 543.2L1347.3 545.1L1331.9 565.7L1321.0 562.9Z" fill="url(#b195)" stroke="#474429"/>
<path d="M1226.7 581.8L1237.6 585.7L1222.1 582.0L1211.3 578.5Z" fill="#c78331" stroke="#38250e"/>
<path d="M974.8 468.5L985.6 457.1L970.2 436.6L959.3 450.8Z" fill="#714b1d" stroke="#38250e"/>
<path d="M1253.0 585.0L1263.8 589.0L1248.4 589.6L1237.6 585.7Z" fill="#fca63e" stroke="#472e11"/>
<path d="M1409.2 412.1L1420.1 408.0L1404.6 450.7L1393.7 453.0Z" fill="url(#b203)" stroke="#473d21"/>
<path d="M1424.7 366.2L1435.5 359.9L1420.1 408.0L1409.2 412.1Z" fill="url(#b202)" stroke="#47381c"/>
<path d="M1393.7 453.0L1404.6 450.7L1389.1 488.2L1378.3 488.8Z" fill="url(#b204)" stroke="#474126"/>
<path d="M1001.1 475.6L1011.9 467.0L996.4 445.8L985.6 457.1Z" fill="#724b1d" stroke="#39260e"/>
<path d="M1321.0 562.9L1331.9 565.7L1316.4 581.2L1305.6 577.7Z" fill="url(#b196)" stroke="#473f23"/>
<path d="M1440.2 315.2L1451.0 306.5L1435.5 359.9L1424.7 366.2Z" fill="url(#b201)" stroke="#473418"/>
<path d="M1027.3 485.8L1038.2 479.6L1022.7 458.3L1011.9 467.0Z" fill="#724b1d" stroke="#39260f"/>
<path d="M1378.3 488.8L1389.1 488.2L1373.6 520.3L1362.8 519.5Z" fill="url(#b205)" stroke="#47452a"/>
<path d="M1053.6 498.3L1064.4 494.2L1049.0 473.3L1038.2 479.6Z" fill="#734c1d" stroke="#39260f"/>
<path d="M1279.3 583.9L1290.1 587.8L1274.7 593.0L1263.8 589.0Z" fill="url(#b187)" stroke="#473114"/>
<path d="M1079.9 512.4L1090.7 510.1L1075.3 490.1L1064.4 494.2Z" fill="#734c1d" stroke="#3a260f"/>
<path d="M1106.2 527.1L1117.0 526.6L1101.5 507.9L1090.7 510.1Z" fill="#744d1d" stroke="#3a260f"/>
<path d="M1132.4 541.9L1143.3 542.7L1127.8 526.0L1117.0 526.6Z" fill="#754d1e" stroke="#3a270f"/>
<path d="M1455.7 259.1L1466.5 247.7L1451.0 306.5L1440.2 315.2Z" fill="url(#b200)" stroke="#473215"/>
<path d="M1362.8 519.5L1373.6 520.3L1358.2 547.1L1347.3 545.1Z" fill="#fdfa9b" stroke="#47462b"/>
<path d="M1158.7 555.9L1169.5 557.9L1154.1 543.6L1143.3 542.7Z" fill="#754d1e" stroke="#3b270f"/>
<path d="M1185.0 568.4L1195.8 571.2L1180.4 559.8L1169.5 557.9Z" fill="#764e1e" stroke="#3b270f"/>
<path d="M1211.3 578.5L1222.1 582.0L1206.6 574.1L1195.8 571.2Z" fill="#764e1e" stroke="#3b270f"/>
<path d="M1305.6 577.7L1316.4 581.2L1300.9 591.7L1290.1 587.8Z" fill="url(#b197)" stroke="#47381c"/>
<path d="M1471.2 198.0L1482.0 183.7L1466.5 247.7L1455.7 259.1Z" fill="url(#b199)" stroke="#473013"/>
<path d="M1347.3 545.1L1358.2 547.1L1342.7 568.6L1331.9 565.7Z" fill="url(#b206)" stroke="#474429"/>
<path d="M1237.6 585.7L1248.4 589.6L1232.9 585.5L1222.1 582.0Z" fill="#c78331" stroke="#38250e"/>
<path d="M1263.8 589.0L1274.7 593.0L1259.2 593.4L1248.4 589.6Z" fill="#fca63e" stroke="#472e11"/>
<path d="M1420.1 408.0L1430.9 403.8L1415.4 448.5L1404.6 450.7Z" fill="url(#b214)" stroke="#473d21"/>
<path d="M1404.6 450.7L1415.4 448.5L1399.9 487.6L1389.1 488.2Z" fill="url(#b215)" stroke="#474126"/>
<path d="M1331.9 565.7L1342.7 568.6L1327.2 584.7L1316.4 581.2Z" fill="url(#b207)" stroke="#473f23"/>
<path d="M985.6 457.1L996.4 445.8L981.0 422.4L970.2 436.6Z" fill="#724b1d" stroke="#39260e"/>
<path d="M1435.5 359.9L1446.4 353.6L1430.9 403.8L1420.1 408.0Z" fill="url(#b213)" stroke="#47381c"/>
<path d="M1389.1 488.2L1399.9 487.6L1384.5 521.1L1373.6 520.3Z" fill="url(#b216)" stroke="#47452a"/>
<path d="M1290.1 587.8L1300.9 591.7L1285.5 597.0L1274.7 593.0Z" fill="url(#b198)" stroke="#473114"/>
<path d="M1011.9 467.0L1022.7 458.3L1007.2 434.5L996.4 445.8Z" fill="#724b1d" stroke="#39260f"/>
<path d="M1451.0 306.5L1461.9 297.7L1446.4 353.6L1435.5 359.9Z" fill="url(#b212)" stroke="#473418"/>
<path d="M1038.2 479.6L1049.0 473.3L1033.5 449.6L1022.7 458.3Z" fill="#734c1d" stroke="#39260f"/>
<path d="M1064.4 494.2L1075.3 490.1L1059.8 467.1L1049.0 473.3Z" fill="#734c1d" stroke="#3a260f"/>
<path d="M1090.7 510.1L1101.5 507.9L1086.1 486.0L1075.3 490.1Z" fill="#744d1d" stroke="#3a260f"/>
<path d="M1117.0 526.6L1127.8 526.0L1112.4 505.7L1101.5 507.9Z" fill="#754d1e" stroke="#3a270f"/>
<path d="M1143.3 542.7L1154.1 543.6L1138.6 525.4L1127.8 526.0Z" fill="#754d1e" stroke="#3b270f"/>
<path d="M1373.6 520.3L1384.5 521.1L1369.0 549.1L1358.2 547.1Z" fill="#fdfa9b" stroke="#47462b"/>
<path d="M1169.5 557.9L1180.4 559.8L1164.9 544.4L1154.1 543.6Z" fill="#764e1e" stroke="#3b270f"/>
<path d="M1195.8 571.2L1206.6 574.1L1191.2 561.8L1180.4 559.8Z" fill="#764e1e" stroke="#3b270f"/>
<path d="M1222.1 582.0L1232.9 585.5L1217.5 576.9L1206.6 574.1Z" fill="#774f1e" stroke="#3b270f"/>
<path d="M1466.5 247.7L1477.4 236.3L1461.9 297.7L1451.0 306.5Z" fill="url(#b211)" stroke="#473215"/>
<path d="M1316.4 581.2L1327.2 584.7L1311.8 595.5L1300.9 591.7Z" fill="url(#b208)" stroke="#47381c"/>
<path d="M1248.4 589.6L1259.2 593.4L1243.8 589.0L1232.9 585.5Z" fill="#c78331" stroke="#38250e"/>
<path d="M1358.2 547.1L1369.0 549.1L1353.5 571.4L1342.7 568.6Z" fill="url(#b217)" stroke="#474429"/>
<path d="M1274.7 593.0L1285.5 597.0L1270.0 597.3L1259.2 593.4Z" fill="#fca63e" stroke="#472e11"/>
<path d="M1482.0 183.7L1492.9 169.4L1477.4 236.3L1466.5 247.7Z" fill="url(#b210)" stroke="#473013"/>
<path d="M1342.7 568.6L1353.5 571.4L1338.1 588.2L1327.2 584.7Z" fill="url(#b218)" stroke="#473f23"/>
<path d="M1415.4 448.5L1426.2 446.3L1410.8 487.0L1399.9 487.6Z" fill="url(#b226)" stroke="#474126"/>
<path d="M1430.9 403.8L1441.7 399.7L1426.2 446.3L1415.4 448.5Z" fill="url(#b225)" stroke="#473d21"/>
<path d="M1300.9 591.7L1311.8 595.5L1296.3 601.0L1285.5 597.0Z" fill="url(#b209)" stroke="#473114"/>
<path d="M1399.9 487.6L1410.8 487.0L1395.3 521.9L1384.5 521.1Z" fill="url(#b227)" stroke="#47452a"/>
<path d="M1446.4 353.6L1457.2 347.3L1441.7 399.7L1430.9 403.8Z" fill="url(#b224)" stroke="#47381c"/>
<path d="M996.4 445.8L1007.2 434.5L991.8 408.1L981.0 422.4Z" fill="#724b1d" stroke="#39260f"/>
<path d="M1384.5 521.1L1395.3 521.9L1379.8 551.0L1369.0 549.1Z" fill="#fdfa9b" stroke="#47462b"/>
<path d="M1180.4 559.8L1191.2 561.8L1175.7 545.2L1164.9 544.4Z" fill="#764e1e" stroke="#3b270f"/>
<path d="M1154.1 543.6L1164.9 544.4L1149.5 524.9L1138.6 525.4Z" fill="#764e1e" stroke="#3b270f"/>
<path d="M1127.8 526.0L1138.6 525.4L1123.2 503.5L1112.4 505.7Z" fill="#754d1e" stroke="#3b270f"/>
<path d="M1206.6 574.1L1217.5 576.9L1202.0 563.8L1191.2 561.8Z" fill="#774f1e" stroke="#3b270f"/>
<path d="M1022.7 458.3L1033.5 449.6L1018.1 423.2L1007.2 434.5Z" fill="#734c1d" stroke="#39260f"/>
<path d="M1101.5 507.9L1112.4 505.7L1096.9 481.9L1086.1 486.0Z" fill="#754d1e" stroke="#3a270f"/>
<path d="M1461.9 297.7L1472.7 289.0L1457.2 347.3L1446.4 353.6Z" fill="url(#b223)" stroke="#473418"/>
<path d="M1075.3 490.1L1086.1 486.0L1070.6 460.8L1059.8 467.1Z" fill="#744d1d" stroke="#3a260f"/>
<path d="M1049.0 473.3L1059.8 467.1L1044.3 441.0L1033.5 449.6Z" fill="#734c1d" stroke="#3a260f"/>
<path d="M1232.9 585.5L1243.8 589.0L1228.3 579.8L1217.5 576.9Z" fill="#774f1e" stroke="#3c270f"/>
<path d="M1327.2 584.7L1338.1 588.2L1322.6 599.4L1311.8 595.5Z" fill="url(#b219)" stroke="#47381c"/>
<path d="M1259.2 593.4L1270.0 597.3L1254.6 592.5L1243.8 589.0Z" fill="#c78331" stroke="#38250e"/>
<path d="M1369.0 549.1L1379.8 551.0L1364.4 574.3L1353.5 571.4Z" fill="url(#b228)" stroke="#474429"/>
<path d="M1477.4 236.3L1488.2 224.9L1472.7 289.0L1461.9 297.7Z" fill="url(#b222)" stroke="#473215"/>
<path d="M1285.5 597.0L1296.3 601.0L1280.9 601.2L1270.0 597.3Z" fill="#fca63e" stroke="#472e11"/>
<path d="M1353.5 571.4L1364.4 574.3L1348.9 591.7L1338.1 588.2Z" fill="url(#b229)" stroke="#473f23"/>
<path d="M1311.8 595.5L1322.6 599.4L1307.1 605.0L1296.3 601.0Z" fill="url(#b220)" stroke="#473114"/>
<path d="M1492.9 169.4L1503.7 155.0L1488.2 224.9L1477.4 236.3Z" fill="url(#b221)" stroke="#473013"/>
<path d="M1426.2 446.3L1437.1 444.0L1421.6 486.4L1410.8 487.0Z" fill="url(#b237)" stroke="#474126"/>
<path d="M1441.7 399.7L1452.6 395.5L1437.1 444.0L1426.2 446.3Z" fill="url(#b236)" stroke="#473d21"/>
<path d="M1410.8 487.0L1421.6 486.4L1406.1 522.7L1395.3 521.9Z" fill="url(#b238)" stroke="#47452a"/>
<path d="M1457.2 347.3L1468.1 340.9L1452.6 395.5L1441.7 399.7Z" fill="url(#b235)" stroke="#47381c"/>
<path d="M1395.3 521.9L1406.1 522.7L1390.7 553.0L1379.8 551.0Z" fill="#fdfa9b" stroke="#47462b"/>
<path d="M1191.2 561.8L1202.0 563.8L1186.6 546.1L1175.7 545.2Z" fill="#774f1e" stroke="#3b270f"/>
<path d="M1217.5 576.9L1228.3 579.8L1212.8 565.8L1202.0 563.8Z" fill="#774f1e" stroke="#3c270f"/>
<path d="M1164.9 544.4L1175.7 545.2L1160.3 524.3L1149.5 524.9Z" fill="#764e1e" stroke="#3b270f"/>
<path d="M1138.6 525.4L1149.5 524.9L1134.0 501.3L1123.2 503.5Z" fill="#764e1e" stroke="#3b270f"/>
<path d="M1243.8 589.0L1254.6 592.5L1239.1 582.7L1228.3 579.8Z" fill="#784f1f" stroke="#3c280f"/>
<path d="M1338.1 588.2L1348.9 591.7L1333.4 603.3L1322.6 599.4Z" fill="url(#b230)" stroke="#47381c"/>
<path d="M1112.4 505.7L1123.2 503.5L1107.7 477.8L1096.9 481.9Z" fill="#754d1e" stroke="#3b270f"/>
<path d="M1086.1 486.0L1096.9 481.9L1081.4 454.5L1070.6 460.8Z" fill="#754d1e" stroke="#3a270f"/>
<path d="M1270.0 597.3L1280.9 601.2L1265.4 596.0L1254.6 592.5Z" fill="#c78431" stroke="#38250e"/>
<path d="M1007.2 434.5L1018.1 423.2L1002.6 393.9L991.8 408.1Z" fill="#734c1d" stroke="#39260f"/>
<path d="M1472.7 289.0L1483.6 280.3L1468.1 340.9L1457.2 347.3Z" fill="url(#b234)" stroke="#473418"/>
<path d="M1059.8 467.1L1070.6 460.8L1055.2 432.3L1044.3 441.0Z" fill="#744d1d" stroke="#3a260f"/>
<path d="M1033.5 449.6L1044.3 441.0L1028.9 411.8L1018.1 423.2Z" fill="#734c1d" stroke="#3a260f"/>
<path d="M1379.8 551.0L1390.7 553.0L1375.2 577.1L1364.4 574.3Z" fill="url(#b239)" stroke="#474429"/>
<path d="M1296.3 601.0L1307.1 605.0L1291.7 605.0L1280.9 601.2Z" fill="#fca63e" stroke="#472e11"/>
<path d="M1488.2 224.9L1499.1 213.5L1483.6 280.3L1472.7 289.0Z" fill="url(#b233)" stroke="#473215"/>
<path d="M1364.4 574.3L1375.2 577.1L1359.7 595.2L1348.9 591.7Z" fill="url(#b240)" stroke="#473f23"/>
<path d="M1322.6 599.4L1333.4 603.3L1318.0 609.0L1307.1 605.0Z" fill="url(#b231)" stroke="#473114"/>
<path d="M1228.3 579.8L1239.1 582.7L1223.7 567.7L1212.8 565.8Z" fill="#784f1f" stroke="#3c280f"/>
<path d="M1202.0 563.8L1212.8 565.8L1197.4 546.9L1186.6 546.1Z" fill="#774f1e" stroke="#3c270f"/>
<path d="M1503.7 155.0L1514.6 140.7L1499.1 213.5L1488.2 224.9Z" fill="url(#b232)" stroke="#473013"/>
<path d="M1175.7 545.2L1186.6 546.1L1171.1 523.8L1160.3 524.3Z" fill="#774f1e" stroke="#3b270f"/>
<path d="M1254.6 592.5L1265.4 596.0L1250.0 585.5L1239.1 582.7Z" fill="#79501f" stroke="#3c280f"/>
<path d="M1348.9 591.7L1359.7 595.2L1344.3 607.1L1333.4 603.3Z" fill="url(#b241)" stroke="#47381c"/>
<path d="M1149.5 524.9L1160.3 524.3L1144.8 499.1L1134.0 501.3Z" fill="#764e1e" stroke="#3b270f"/>
<path d="M1280.9 601.2L1291.7 605.0L1276.2 599.5L1265.4 596.0Z" fill="#ae722b" stroke="#573916"/>
<path d="M1123.2 503.5L1134.0 501.3L1118.5 473.7L1107.7 477.8Z" fill="#764e1e" stroke="#3b270f"/>
<path d="M1096.9 481.9L1107.7 477.8L1092.3 448.3L1081.4 454.5Z" fill="#754d1e" stroke="#3b270f"/>
<path d="M1307.1 605.0L1318.0 609.0L1302.5 608.9L1291.7 605.0Z" fill="#fca63e" stroke="#472e11"/>
<path d="M1070.6 460.8L1081.4 454.5L1066.0 423.6L1055.2 432.3Z" fill="#754d1e" stroke="#3a270f"/>
<path d="M1044.3 441.0L1055.2 432.3L1039.7 400.5L1028.9 411.8Z" fill="#744d1d" stroke="#3a260f"/>
<path d="M1018.1 423.2L1028.9 411.8L1013.4 379.6L1002.6 393.9Z" fill="#734c1d" stroke="#3a260f"/>
<path d="M1333.4 603.3L1344.3 607.1L1328.8 613.0L1318.0 609.0Z" fill="url(#b242)" stroke="#473114"/>
<path d="M1239.1 582.7L1250.0 585.5L1234.5 569.7L1223.7 567.7Z" fill="#79501f" stroke="#3c280f"/>
<path d="M1212.8 565.8L1223.7 567.7L1208.2 547.7L1197.4 546.9Z" fill="#784f1f" stroke="#3c280f"/>
<path d="M1265.4 596.0L1276.2 599.5L1260.8 588.4L1250.0 585.5Z" fill="#79501f" stroke="#3d280f"/>
<path d="M1186.6 546.1L1197.4 546.9L1181.9 523.2L1171.1 523.8Z" fill="#774f1e" stroke="#3c270f"/>
<path d="M1291.7 605.0L1302.5 608.9L1287.1 603.0L1276.2 599.5Z" fill="#ae732b" stroke="#573916"/>
<path d="M1160.3 524.3L1171.1 523.8L1155.6 496.9L1144.8 499.1Z" fill="#774f1e" stroke="#3b270f"/>
<path d="M1134.0 501.3L1144.8 499.1L1129.4 469.6L1118.5 473.7Z" fill="#764e1e" stroke="#3b270f"/>
<path d="M1318.0 609.0L1328.8 613.0L1313.3 612.8L1302.5 608.9Z" fill="#fca63e" stroke="#472e11"/>
<path d="M1107.7 477.8L1118.5 473.7L1103.1 442.0L1092.3 448.3Z" fill="#764e1e" stroke="#3b270f"/>
<path d="M1081.4 454.5L1092.3 448.3L1076.8 415.0L1066.0 423.6Z" fill="#754d1e" stroke="#3b270f"/>
<path d="M1055.2 432.3L1066.0 423.6L1050.5 389.2L1039.7 400.5Z" fill="#754d1e" stroke="#3a270f"/>
<path d="M1028.9 411.8L1039.7 400.5L1024.2 365.4L1013.4 379.6Z" fill="#744d1d" stroke="#3a260f"/>
<path d="M1250.0 585.5L1260.8 588.4L1245.3 571.7L1234.5 569.7Z" fill="#79501f" stroke="#3d280f"/>
<path d="M1276.2 599.5L1287.1 603.0L1271.6 591.2L1260.8 588.4Z" fill="#7a511f" stroke="#3d280f"/>
<path d="M1223.7 567.7L1234.5 569.7L1219.0 548.5L1208.2 547.7Z" fill="#79501f" stroke="#3c280f"/>
<path d="M1302.5 608.9L1313.3 612.8L1297.9 606.5L1287.1 603.0Z" fill="#ae732b" stroke="#573916"/>
<path d="M1197.4 546.9L1208.2 547.7L1192.8 522.6L1181.9 523.2Z" fill="#784f1f" stroke="#3c280f"/>
<path d="M1171.1 523.8L1181.9 523.2L1166.5 494.7L1155.6 496.9Z" fill="#774f1e" stroke="#3c270f"/>
<path d="M1144.8 499.1L1155.6 496.9L1140.2 465.5L1129.4 469.6Z" fill="#774f1e" stroke="#3b270f"/>
<path d="M1118.5 473.7L1129.4 469.6L1113.9 435.7L1103.1 442.0Z" fill="#764e1e" stroke="#3b270f"/>
<path d="M1092.3 448.3L1103.1 442.0L1087.6 406.3L1076.8 415.0Z" fill="#764e1e" stroke="#3b270f"/>
<path d="M1066.0 423.6L1076.8 415.0L1061.3 377.8L1050.5 389.2Z" fill="#754d1e" stroke="#3b270f"/>
<path d="M1039.7 400.5L1050.5 389.2L1035.1 351.1L1024.2 365.4Z" fill="#754d1e" stroke="#3a270f"/>
<path d="M1260.8 588.4L1271.6 591.2L1256.1 573.6L1245.3 571.7Z" fill="#7a511f" stroke="#3d280f"/>
<path d="M1287.1 603.0L1297.9 606.5L1282.4 594.1L1271.6 591.2Z" fill="#7a511f" stroke="#3d2810"/>
<path d="M1234.5 569.7L1245.3 571.7L1229.9 549.4L1219.0 548.5Z" fill="#79501f" stroke="#3d280f"/>
<path d="M1208.2 547.7L1219.0 548.5L1203.6 522.1L1192.8 522.6Z" fill="#79501f" stroke="#3c280f"/>
<path d="M1181.9 523.2L1192.8 522.6L1177.3 492.5L1166.5 494.7Z" fill="#784f1f" stroke="#3c280f"/>
<path d="M1155.6 496.9L1166.5 494.7L1151.0 461.4L1140.2 465.5Z" fill="#774f1e" stroke="#3c270f"/>
<path d="M1129.4 469.6L1140.2 465.5L1124.7 429.5L1113.9 435.7Z" fill="#774f1e" stroke="#3b270f"/>
<path d="M1103.1 442.0L1113.9 435.7L1098.4 397.6L1087.6 406.3Z" fill="#764e1e" stroke="#3b270f"/>
<path d="M1271.6 591.2L1282.4 594.1L1267.0 575.6L1256.1 573.6Z" fill="#7a511f" stroke="#3d2810"/>
<path d="M1245.3 571.7L1256.1 573.6L1240.7 550.2L1229.9 549.4Z" fill="#7a511f" stroke="#3d280f"/>
<path d="M1076.8 415.0L1087.6 406.3L1072.2 366.5L1061.3 377.8Z" fill="#764e1e" stroke="#3b270f"/>
<path d="M1219.0 548.5L1229.9 549.4L1214.4 521.5L1203.6 522.1Z" fill="#79501f" stroke="#3d280f"/>
<path d="M1050.5 389.2L1061.3 377.8L1045.9 336.9L1035.1 351.1Z" fill="#754d1e" stroke="#3b270f"/>
<path d="M1192.8 522.6L1203.6 522.1L1188.1 490.3L1177.3 492.5Z" fill="#79501f" stroke="#3c280f"/>
<path d="M1166.5 494.7L1177.3 492.5L1161.8 457.2L1151.0 461.4Z" fill="#784f1f" stroke="#3c280f"/>
<path d="M1140.2 465.5L1151.0 461.4L1135.5 423.2L1124.7 429.5Z" fill="#774f1e" stroke="#3c270f"/>
<path d="M1113.9 435.7L1124.7 429.5L1109.3 388.9L1098.4 397.6Z" fill="#774f1e" stroke="#3b270f"/>
<path d="M1256.1 573.6L1267.0 575.6L1251.5 551.0L1240.7 550.2Z" fill="#7a511f" stroke="#3d2810"/>
<path d="M1229.9 549.4L1240.7 550.2L1225.2 520.9L1214.4 521.5Z" fill="#7a511f" stroke="#3d280f"/>
<path d="M1087.6 406.3L1098.4 397.6L1083.0 355.1L1072.2 366.5Z" fill="#764e1e" stroke="#3b270f"/>
<path d="M1203.6 522.1L1214.4 521.5L1198.9 488.0L1188.1 490.3Z" fill="#79501f" stroke="#3d280f"/>
<path d="M1061.3 377.8L1072.2 366.5L1056.7 322.6L1045.9 336.9Z" fill="#764e1e" stroke="#3b270f"/>
<path d="M1177.3 492.5L1188.1 490.3L1172.7 453.1L1161.8 457.2Z" fill="#79501f" stroke="#3c280f"/>
<path d="M1151.0 461.4L1161.8 457.2L1146.4 416.9L1135.5 423.2Z" fill="#784f1f" stroke="#3c280f"/>
<path d="M1124.7 429.5L1135.5 423.2L1120.1 380.2L1109.3 388.9Z" fill="#774f1e" stroke="#3c270f"/>
<path d="M1240.7 550.2L1251.5 551.0L1236.0 520.4L1225.2 520.9Z" fill="#7a511f" stroke="#3d2810"/>
<path d="M1098.4 397.6L1109.3 388.9L1093.8 343.8L1083.0 355.1Z" fill="#774f1e" stroke="#3b270f"/>
<path d="M1214.4 521.5L1225.2 520.9L1209.8 485.8L1198.9 488.0Z" fill="#7a511f" stroke="#3d280f"/>
<path d="M1072.2 366.5L1083.0 355.1L1067.5 308.3L1056.7 322.6Z" fill="#764e1e" stroke="#3b270f"/>
<path d="M1188.1 490.3L1198.9 488.0L1183.5 449.0L1172.7 453.1Z" fill="#79501f" stroke="#3d280f"/>
<path d="M1161.8 457.2L1172.7 453.1L1157.2 410.6L1146.4 416.9Z" fill="#79501f" stroke="#3c280f"/>
<path d="M1135.5 423.2L1146.4 416.9L1130.9 371.5L1120.1 380.2Z" fill="#784f1f" stroke="#3c280f"/>
<path d="M1225.2 520.9L1236.0 520.4L1220.6 483.6L1209.8 485.8Z" fill="#7a511f" stroke="#3d2810"/>
<path d="M1109.3 388.9L1120.1 380.2L1104.6 332.4L1093.8 343.8Z" fill="#774f1e" stroke="#3c270f"/>
<path d="M1198.9 488.0L1209.8 485.8L1194.3 444.9L1183.5 449.0Z" fill="#7a511f" stroke="#3d280f"/>
<path d="M1083.0 355.1L1093.8 343.8L1078.3 294.1L1067.5 308.3Z" fill="#774f1e" stroke="#3b270f"/>
<path d="M1172.7 453.1L1183.5 449.0L1168.0 404.4L1157.2 410.6Z" fill="#79501f" stroke="#3d280f"/>
<path d="M1146.4 416.9L1157.2 410.6L1141.7 362.8L1130.9 371.5Z" fill="#79501f" stroke="#3c280f"/>
<path d="M1120.1 380.2L1130.9 371.5L1115.4 321.1L1104.6 332.4Z" fill="#784f1f" stroke="#3c280f"/>
<path d="M1209.8 485.8L1220.6 483.6L1205.1 440.8L1194.3 444.9Z" fill="#7a511f" stroke="#3d2810"/>
<path d="M1093.8 343.8L1104.6 332.4L1089.1 279.8L1078.3 294.1Z" fill="#774f1e" stroke="#3c270f"/>
<path d="M1183.5 449.0L1194.3 444.9L1178.8 398.1L1168.0 404.4Z" fill="#7a511f" stroke="#3d280f"/>
<path d="M1157.2 410.6L1168.0 404.4L1152.5 354.2L1141.7 362.8Z" fill="#79501f" stroke="#3d280f"/>
<path d="M1130.9 371.5L1141.7 362.8L1126.2 309.7L1115.4 321.1Z" fill="#79501f" stroke="#3c280f"/>
<path d="M1194.3 444.9L1205.1 440.8L1189.6 391.8L1178.8 398.1Z" fill="#7a511f" stroke="#3d2810"/>
<path d="M1104.6 332.4L1115.4 321.1L1099.9 265.5L1089.1 279.8Z" fill="#784f1f" stroke="#3c280f"/>
<path d="M1168.0 404.4L1178.8 398.1L1163.4 345.5L1152.5 354.2Z" fill="#7a511f" stroke="#3d280f"/>
<path d="M1141.7 362.8L1152.5 354.2L1137.1 298.4L1126.2 309.7Z" fill="#79501f" stroke="#3d280f"/>
<path d="M1115.4 321.1L1126.2 309.7L1110.8 251.3L1099.9 265.5Z" fill="#79501f" stroke="#3c280f"/>
<path d="M1178.8 398.1L1189.6 391.8L1174.2 336.8L1163.4 345.5Z" fill="#7a511f" stroke="#3d2810"/>
<path d="M1152.5 354.2L1163.4 345.5L1147.9 287.0L1137.1 298.4Z" fill="#7a511f" stroke="#3d280f"/>
<path d="M1126.2 309.7L1137.1 298.4L1121.6 237.0L1110.8 251.3Z" fill="#79501f" stroke="#3d280f"/>
<path d="M1163.4 345.5L1174.2 336.8L1158.7 275.6L1147.9 287.0Z" fill="#7a511f" stroke="#3d2810"/>
<path d="M1137.1 298.4L1147.9 287.0L1132.4 222.7L1121.6 237.0Z" fill="#7a511f" stroke="#3d280f"/>
<path d="M1147.9 287.0L1158.7 275.6L1143.2 208.4L1132.4 222.7Z" fill="#7a511f" stroke="#3d2810"/>
</g>
<g stroke="#000" fill="none">
<line x1="883.6" y1="550.4" x2="883.6" y2="112.8" stroke-width="3.1"/>
<line x1="1514.3" y1="579.0" x2="1514.6" y2="140.7" stroke-width="2.9"/>
<line x1="1143.3" y1="647.0" x2="1143.2" y2="208.4" stroke-width="2.9"/>
<path d="M883.6 112.8L1254.3 46.4L1514.6 140.7L1143.2 208.4Z" stroke-width="2.6" stroke-linejoin="round"/>
<path d="M883.6 550.4L1143.3 647.0L1514.3 579.0" stroke-width="2.6" stroke-linejoin="round"/>
<line x1="865.1" y1="550.4" x2="883.6" y2="550.4" stroke-width="2.6"/>
<line x1="874.1" y1="506.6" x2="883.6" y2="506.6" stroke-width="2.6"/>
<line x1="865.1" y1="462.9" x2="883.6" y2="462.9" stroke-width="2.6"/>
<line x1="874.1" y1="419.1" x2="883.6" y2="419.1" stroke-width="2.6"/>
<line x1="865.1" y1="375.3" x2="883.6" y2="375.3" stroke-width="2.6"/>
<line x1="874.1" y1="331.6" x2="883.6" y2="331.6" stroke-width="2.6"/>
<line x1="865.1" y1="287.8" x2="883.6" y2="287.8" stroke-width="2.6"/>
<line x1="874.1" y1="244.0" x2="883.6" y2="244.0" stroke-width="2.6"/>
<line x1="865.1" y1="200.3" x2="883.6" y2="200.3" stroke-width="2.6"/>
<line x1="874.1" y1="156.5" x2="883.6" y2="156.5" stroke-width="2.6"/>
<line x1="865.1" y1="112.8" x2="883.6" y2="112.8" stroke-width="2.6"/>
<line x1="883.6" y1="550.4" x2="883.6" y2="568.4" stroke-width="2.6"/>
<line x1="909.6" y1="560.1" x2="909.6" y2="569.1" stroke-width="2.6"/>
<line x1="935.5" y1="569.7" x2="935.5" y2="587.7" stroke-width="2.6"/>
<line x1="961.5" y1="579.4" x2="961.5" y2="588.4" stroke-width="2.6"/>
<line x1="987.5" y1="589.0" x2="987.5" y2="607.0" stroke-width="2.6"/>
<line x1="1013.5" y1="598.7" x2="1013.5" y2="607.7" stroke-width="2.6"/>
<line x1="1039.4" y1="608.4" x2="1039.4" y2="626.4" stroke-width="2.6"/>
<line x1="1065.4" y1="618.0" x2="1065.4" y2="627.0" stroke-width="2.6"/>
<line x1="1091.4" y1="627.7" x2="1091.4" y2="645.7" stroke-width="2.6"/>
<line x1="1117.3" y1="637.3" x2="1117.3" y2="646.3" stroke-width="2.6"/>
<line x1="1143.3" y1="647.0" x2="1143.3" y2="665.0" stroke-width="2.6"/>
<line x1="1161.8" y1="643.6" x2="1161.8" y2="652.6" stroke-width="2.6"/>
<line x1="1180.4" y1="640.2" x2="1180.4" y2="649.2" stroke-width="2.6"/>
<line x1="1199.0" y1="636.8" x2="1199.0" y2="645.8" stroke-width="2.6"/>
<line x1="1217.5" y1="633.4" x2="1217.5" y2="642.4" stroke-width="2.6"/>
<line x1="1236.0" y1="630.0" x2="1236.0" y2="648.0" stroke-width="2.6"/>
<line x1="1254.6" y1="626.6" x2="1254.6" y2="635.6" stroke-width="2.6"/>
<line x1="1273.2" y1="623.2" x2="1273.2" y2="632.2" stroke-width="2.6"/>
<line x1="1291.7" y1="619.8" x2="1291.7" y2="628.8" stroke-width="2.6"/>
<line x1="1310.2" y1="616.4" x2="1310.2" y2="625.4" stroke-width="2.6"/>
<line x1="1328.8" y1="613.0" x2="1328.8" y2="631.0" stroke-width="2.6"/>
<line x1="1347.3" y1="609.6" x2="1347.3" y2="618.6" stroke-width="2.6"/>
<line x1="1365.9" y1="606.2" x2="1365.9" y2="615.2" stroke-width="2.6"/>
<line x1="1384.4" y1="602.8" x2="1384.4" y2="611.8" stroke-width="2.6"/>
<line x1="1403.0" y1="599.4" x2="1403.0" y2="608.4" stroke-width="2.6"/>
<line x1="1421.5" y1="596.0" x2="1421.5" y2="614.0" stroke-width="2.6"/>
<line x1="1440.1" y1="592.6" x2="1440.1" y2="601.6" stroke-width="2.6"/>
<line x1="1458.7" y1="589.2" x2="1458.7" y2="598.2" stroke-width="2.6"/>
<line x1="1477.2" y1="585.8" x2="1477.2" y2="594.8" stroke-width="2.6"/>
<line x1="1495.7" y1="582.4" x2="1495.7" y2="591.4" stroke-width="2.6"/>
<line x1="1514.3" y1="579.0" x2="1514.3" y2="597.0" stroke-width="2.6"/>
</g>
<g class="tk">
<text x="866.5" y="562.0" text-anchor="end">0</text>
<text x="863.5" y="474.5" text-anchor="end">0.2</text>
<text x="863.5" y="386.9" text-anchor="end">0.4</text>
<text x="863.4" y="299.4" text-anchor="end">0.6</text>
<text x="863.5" y="211.9" text-anchor="end">0.8</text>
<text x="866.1" y="124.3" text-anchor="end">1</text>
<text x="883.9" y="600.4" text-anchor="middle">0</text>
<text x="935.8" y="619.7" text-anchor="middle">0.2</text>
<text x="987.8" y="639.0" text-anchor="middle">0.4</text>
<text x="1039.7" y="658.4" text-anchor="middle">0.6</text>
<text x="1091.7" y="677.7" text-anchor="middle">0.8</text>
<text x="1143.6" y="697.0" text-anchor="middle">1</text>
<text x="1236.3" y="680.5" text-anchor="middle">0.5</text>
<text x="1329.1" y="663.5" text-anchor="middle">0</text>
<text transform="translate(1394.5 647.3) scale(0.72 1)">−</text><text x="1412.7" y="646.3">0.5</text>
<text transform="translate(1499.9 630.3) scale(0.72 1)">−</text><text x="1517.5" y="629.3">1</text>
</g>
<text class="ax" x="1013.6" y="698.5" text-anchor="middle">ξ</text>
<text class="ax" x="1328.6" y="728.5" text-anchor="middle">ω</text>
</g>
<g id="legend">
<rect x="644" y="4" width="256.5" height="64.5" fill="#fff" stroke="#4c4c4c" stroke-width="1.8"/>
<rect x="651" y="11" width="55" height="23" fill="#0000ff"/>
<rect x="651" y="40.5" width="55" height="22.5" fill="#c87832"/>
<text class="lg" x="717.5" y="31.6"><tspan letter-spacing="0.5">LRPSM</tspan><tspan dx="-2.2"> Solution</tspan></text>
<text class="lg" x="718.5" y="60.5">Exact Solution</text>
</g>
</svg>
</body></html>
